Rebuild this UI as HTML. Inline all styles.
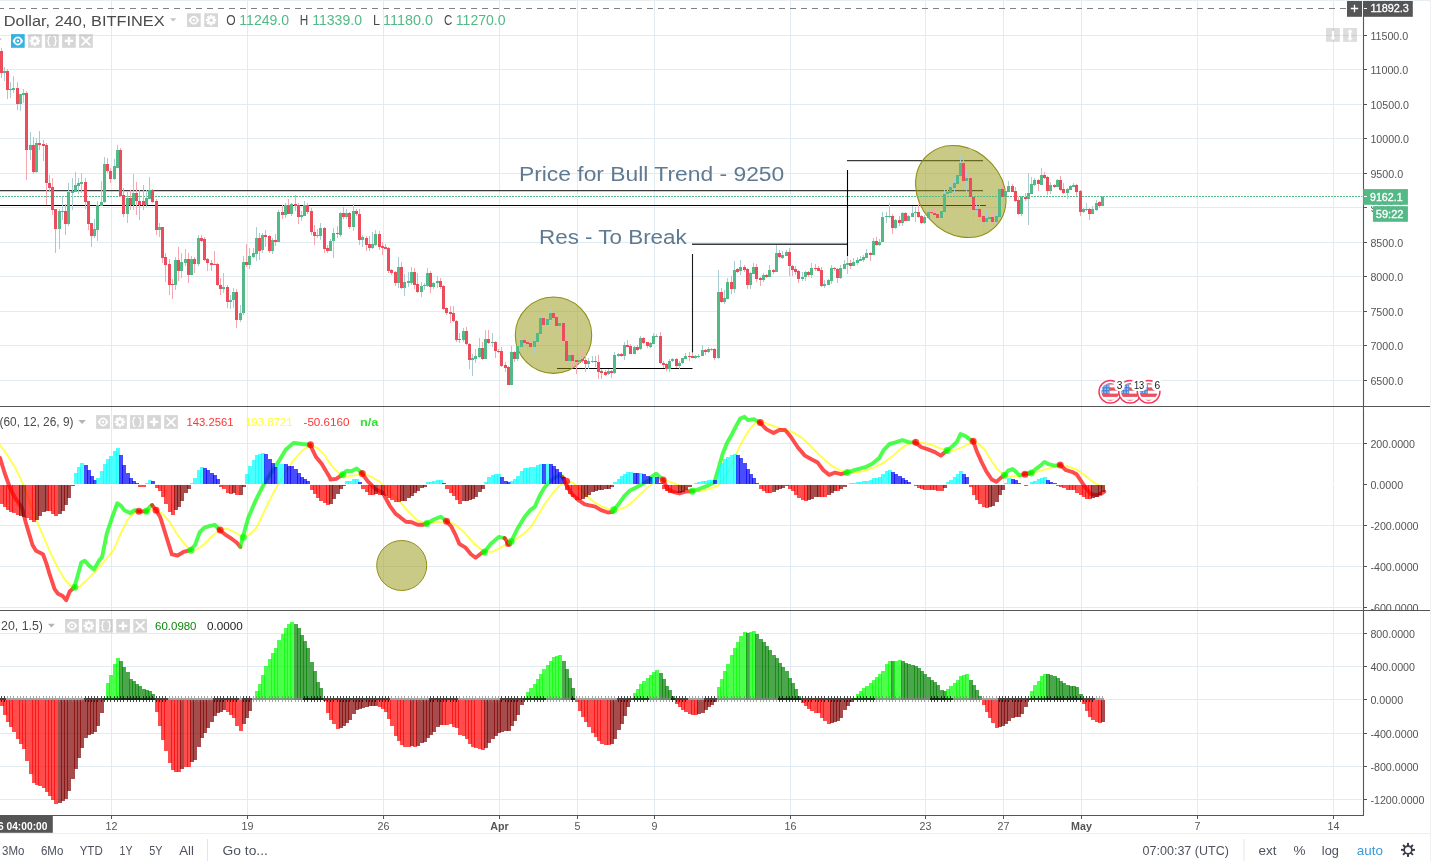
<!DOCTYPE html>
<html><head><meta charset="utf-8"><title>chart</title>
<style>html,body{margin:0;padding:0;background:#fff}body{width:1431px;height:861px;overflow:hidden;position:relative;font-family:"Liberation Sans",sans-serif}</style></head>
<body>
<svg width="1431" height="861" viewBox="0 0 1431 861" style="position:absolute;left:0;top:0;display:block;">
<rect x="0" y="0" width="1431" height="861" fill="#fff" />
<g style="will-change:transform">
<line x1="111.5" y1="0" x2="111.5" y2="815" stroke="#e1ecf2" stroke-width="1" />
<line x1="247.5" y1="0" x2="247.5" y2="815" stroke="#e1ecf2" stroke-width="1" />
<line x1="383.5" y1="0" x2="383.5" y2="815" stroke="#e1ecf2" stroke-width="1" />
<line x1="499.5" y1="0" x2="499.5" y2="815" stroke="#e1ecf2" stroke-width="1" />
<line x1="577.5" y1="0" x2="577.5" y2="815" stroke="#e1ecf2" stroke-width="1" />
<line x1="654.5" y1="0" x2="654.5" y2="815" stroke="#e1ecf2" stroke-width="1" />
<line x1="790.5" y1="0" x2="790.5" y2="815" stroke="#e1ecf2" stroke-width="1" />
<line x1="925.5" y1="0" x2="925.5" y2="815" stroke="#e1ecf2" stroke-width="1" />
<line x1="1003.5" y1="0" x2="1003.5" y2="815" stroke="#e1ecf2" stroke-width="1" />
<line x1="1081.5" y1="0" x2="1081.5" y2="815" stroke="#e1ecf2" stroke-width="1" />
<line x1="1197.5" y1="0" x2="1197.5" y2="815" stroke="#e1ecf2" stroke-width="1" />
<line x1="1333.5" y1="0" x2="1333.5" y2="815" stroke="#e1ecf2" stroke-width="1" />
<line x1="0" y1="35.5" x2="1362" y2="35.5" stroke="#e1ecf2" stroke-width="1" />
<line x1="0" y1="69.5" x2="1362" y2="69.5" stroke="#e1ecf2" stroke-width="1" />
<line x1="0" y1="104.5" x2="1362" y2="104.5" stroke="#e1ecf2" stroke-width="1" />
<line x1="0" y1="138.5" x2="1362" y2="138.5" stroke="#e1ecf2" stroke-width="1" />
<line x1="0" y1="173.5" x2="1362" y2="173.5" stroke="#e1ecf2" stroke-width="1" />
<line x1="0" y1="207.5" x2="1362" y2="207.5" stroke="#e1ecf2" stroke-width="1" />
<line x1="0" y1="242.5" x2="1362" y2="242.5" stroke="#e1ecf2" stroke-width="1" />
<line x1="0" y1="276.5" x2="1362" y2="276.5" stroke="#e1ecf2" stroke-width="1" />
<line x1="0" y1="311.5" x2="1362" y2="311.5" stroke="#e1ecf2" stroke-width="1" />
<line x1="0" y1="345.5" x2="1362" y2="345.5" stroke="#e1ecf2" stroke-width="1" />
<line x1="0" y1="380.5" x2="1362" y2="380.5" stroke="#e1ecf2" stroke-width="1" />
<line x1="0" y1="443.5" x2="1362" y2="443.5" stroke="#e1ecf2" stroke-width="1" />
<line x1="0" y1="525.5" x2="1362" y2="525.5" stroke="#e1ecf2" stroke-width="1" />
<line x1="0" y1="566.5" x2="1362" y2="566.5" stroke="#e1ecf2" stroke-width="1" />
<line x1="0" y1="607.5" x2="1362" y2="607.5" stroke="#e1ecf2" stroke-width="1" />
<line x1="0" y1="484.5" x2="1362" y2="484.5" stroke="#fff" stroke-width="1" />
<line x1="0" y1="633.5" x2="1362" y2="633.5" stroke="#e1ecf2" stroke-width="1" />
<line x1="0" y1="666.5" x2="1362" y2="666.5" stroke="#e1ecf2" stroke-width="1" />
<line x1="0" y1="699.5" x2="1362" y2="699.5" stroke="#e1ecf2" stroke-width="1" />
<line x1="0" y1="733.5" x2="1362" y2="733.5" stroke="#e1ecf2" stroke-width="1" />
<line x1="0" y1="766.5" x2="1362" y2="766.5" stroke="#e1ecf2" stroke-width="1" />
<line x1="0" y1="799.5" x2="1362" y2="799.5" stroke="#e1ecf2" stroke-width="1" />
<line x1="0" y1="190.55" x2="983" y2="190.55" stroke="#3a3a3a" stroke-width="1.2" />
<line x1="0" y1="205.5" x2="986" y2="205.5" stroke="#000" stroke-width="1.15" />
<line x1="692" y1="244.3" x2="848" y2="244.3" stroke="#3c3c3c" stroke-width="1.45" />
<line x1="847.5" y1="170" x2="847.5" y2="256" stroke="#000" stroke-width="1.1" />
<line x1="847" y1="160.55" x2="983" y2="160.55" stroke="#3a3a3a" stroke-width="1.2" />
<line x1="692.5" y1="254" x2="692.5" y2="352.5" stroke="#1a1a1a" stroke-width="1.1" />
<line x1="557" y1="368.5" x2="692.5" y2="368.5" stroke="#000" stroke-width="1.05" />
<circle cx="553.5" cy="335.2" r="38.2" fill="rgba(150,150,16,0.5)" stroke="#8f8f14" stroke-width="1.1"/>
<ellipse cx="960.8" cy="191.5" rx="49.3" ry="41.6" transform="rotate(48 960.8 191.5)" fill="rgba(150,150,16,0.5)" stroke="#8f8f14" stroke-width="1.1"/>
<line x1="-1" y1="196.5" x2="1363" y2="196.5" stroke="#53b987" stroke-width="1.1" stroke-dasharray="2 1"/>
<text x="518.9" y="180.8" font-size="20.5" fill="#5f7a91" font-family="Liberation Sans, sans-serif" textLength="265.4" lengthAdjust="spacingAndGlyphs" >Price for Bull Trend - 9250</text>
<text x="539" y="243.7" font-size="20.5" fill="#5f7a91" font-family="Liberation Sans, sans-serif" textLength="147.7" lengthAdjust="spacingAndGlyphs" >Res - To Break</text>
<g shape-rendering="crispEdges">
<rect x="1" y="48.19" width="1" height="29.81" fill="#f5a6ae"/>
<rect x="4" y="67.05" width="1" height="14.32" fill="#a9cdd3"/>
<rect x="7" y="69.07" width="1" height="29.64" fill="#f5a6ae"/>
<rect x="10" y="82.21" width="1" height="15.49" fill="#a9cdd3"/>
<rect x="13" y="75.98" width="1" height="16.84" fill="#a9cdd3"/>
<rect x="17" y="82.21" width="1" height="27.79" fill="#f5a6ae"/>
<rect x="20" y="94.34" width="1" height="16.51" fill="#a9cdd3"/>
<rect x="23" y="88.95" width="1" height="13.98" fill="#a9cdd3"/>
<rect x="26" y="90.97" width="1" height="88.76" fill="#f5a6ae"/>
<rect x="30" y="131.89" width="1" height="27.79" fill="#a9cdd3"/>
<rect x="33" y="136.95" width="1" height="37.05" fill="#f5a6ae"/>
<rect x="36" y="137.79" width="1" height="35.37" fill="#a9cdd3"/>
<rect x="39" y="131.05" width="1" height="18.86" fill="#f5a6ae"/>
<rect x="43" y="140.32" width="1" height="20.21" fill="#f5a6ae"/>
<rect x="46" y="142.88" width="1" height="62.48" fill="#f5a6ae"/>
<rect x="49" y="175.05" width="1" height="16.84" fill="#f5a6ae"/>
<rect x="52" y="177.58" width="1" height="37.05" fill="#f5a6ae"/>
<rect x="55" y="209.07" width="1" height="43.45" fill="#f5a6ae"/>
<rect x="59" y="209.07" width="1" height="40.42" fill="#a9cdd3"/>
<rect x="62" y="196.11" width="1" height="23.58" fill="#a9cdd3"/>
<rect x="65" y="203.68" width="1" height="31.16" fill="#f5a6ae"/>
<rect x="68" y="183.14" width="1" height="42.44" fill="#a9cdd3"/>
<rect x="72" y="177.58" width="1" height="32.84" fill="#a9cdd3"/>
<rect x="75" y="172.02" width="1" height="19.87" fill="#a9cdd3"/>
<rect x="78" y="178.42" width="1" height="16" fill="#a9cdd3"/>
<rect x="81" y="173.37" width="1" height="19.37" fill="#a9cdd3"/>
<rect x="85" y="177.58" width="1" height="31.16" fill="#f5a6ae"/>
<rect x="88" y="201.16" width="1" height="28.63" fill="#f5a6ae"/>
<rect x="91" y="223.05" width="1" height="23.58" fill="#f5a6ae"/>
<rect x="94" y="218.84" width="1" height="19.37" fill="#a9cdd3"/>
<rect x="97" y="201.16" width="1" height="39.58" fill="#a9cdd3"/>
<rect x="101" y="180.95" width="1" height="25.26" fill="#a9cdd3"/>
<rect x="104" y="157.03" width="1" height="45.81" fill="#a9cdd3"/>
<rect x="107" y="158.21" width="1" height="15.16" fill="#f5a6ae"/>
<rect x="110" y="168.32" width="1" height="14.32" fill="#f5a6ae"/>
<rect x="114" y="158.72" width="1" height="21.39" fill="#a9cdd3"/>
<rect x="117" y="145.07" width="1" height="23.24" fill="#a9cdd3"/>
<rect x="120" y="148.11" width="1" height="48.84" fill="#f5a6ae"/>
<rect x="123" y="187.68" width="1" height="29.47" fill="#f5a6ae"/>
<rect x="127" y="191.89" width="1" height="30.65" fill="#a9cdd3"/>
<rect x="130" y="190.21" width="1" height="20.21" fill="#f5a6ae"/>
<rect x="133" y="174.21" width="1" height="35.37" fill="#a9cdd3"/>
<rect x="136" y="181.79" width="1" height="33.68" fill="#f5a6ae"/>
<rect x="139" y="190.21" width="1" height="29.47" fill="#f5a6ae"/>
<rect x="143" y="185.16" width="1" height="25.26" fill="#f5a6ae"/>
<rect x="146" y="190.21" width="1" height="16.84" fill="#a9cdd3"/>
<rect x="149" y="176.74" width="1" height="21.89" fill="#a9cdd3"/>
<rect x="152" y="188.53" width="1" height="14.32" fill="#f5a6ae"/>
<rect x="156" y="198.63" width="1" height="36.21" fill="#f5a6ae"/>
<rect x="159" y="223.05" width="1" height="14.32" fill="#a9cdd3"/>
<rect x="162" y="227.26" width="1" height="36.21" fill="#f5a6ae"/>
<rect x="165" y="253.37" width="1" height="28.63" fill="#f5a6ae"/>
<rect x="169" y="259.26" width="1" height="35.37" fill="#f5a6ae"/>
<rect x="172" y="279.47" width="1" height="19.37" fill="#f5a6ae"/>
<rect x="175" y="257.24" width="1" height="32.34" fill="#a9cdd3"/>
<rect x="178" y="247.47" width="1" height="33.68" fill="#f5a6ae"/>
<rect x="181" y="252.53" width="1" height="25.26" fill="#a9cdd3"/>
<rect x="185" y="249.16" width="1" height="16.84" fill="#a9cdd3"/>
<rect x="188" y="253.37" width="1" height="29.47" fill="#f5a6ae"/>
<rect x="191" y="255.89" width="1" height="19.37" fill="#a9cdd3"/>
<rect x="194" y="256.74" width="1" height="16" fill="#f5a6ae"/>
<rect x="198" y="234.84" width="1" height="31.16" fill="#a9cdd3"/>
<rect x="201" y="234.84" width="1" height="7.58" fill="#f5a6ae"/>
<rect x="204" y="237.37" width="1" height="23.58" fill="#f5a6ae"/>
<rect x="207" y="258.42" width="1" height="12.63" fill="#f5a6ae"/>
<rect x="211" y="260.11" width="1" height="10.95" fill="#f5a6ae"/>
<rect x="214" y="250.84" width="1" height="14.32" fill="#f5a6ae"/>
<rect x="217" y="262.63" width="1" height="23.58" fill="#f5a6ae"/>
<rect x="220" y="277.79" width="1" height="16.84" fill="#f5a6ae"/>
<rect x="223" y="273.07" width="1" height="19.87" fill="#a9cdd3"/>
<rect x="227" y="285.37" width="1" height="22.74" fill="#f5a6ae"/>
<rect x="230" y="294.63" width="1" height="14.32" fill="#a9cdd3"/>
<rect x="233" y="287.89" width="1" height="20.21" fill="#a9cdd3"/>
<rect x="236" y="289.32" width="1" height="38.74" fill="#f5a6ae"/>
<rect x="240" y="305.32" width="1" height="16.84" fill="#a9cdd3"/>
<rect x="243" y="256.47" width="1" height="58.11" fill="#a9cdd3"/>
<rect x="246" y="243.84" width="1" height="23.58" fill="#f5a6ae"/>
<rect x="249" y="248.05" width="1" height="21.05" fill="#a9cdd3"/>
<rect x="253" y="248.05" width="1" height="10.11" fill="#a9cdd3"/>
<rect x="256" y="227" width="1" height="33.68" fill="#a9cdd3"/>
<rect x="259" y="232.89" width="1" height="26.95" fill="#f5a6ae"/>
<rect x="262" y="232.89" width="1" height="20.21" fill="#a9cdd3"/>
<rect x="265" y="229.53" width="1" height="17.68" fill="#f5a6ae"/>
<rect x="269" y="234.58" width="1" height="18.53" fill="#f5a6ae"/>
<rect x="272" y="237.95" width="1" height="16.34" fill="#a9cdd3"/>
<rect x="275" y="234.07" width="1" height="11.45" fill="#f5a6ae"/>
<rect x="278" y="209.82" width="1" height="32.34" fill="#a9cdd3"/>
<rect x="282" y="205.11" width="1" height="14.32" fill="#f5a6ae"/>
<rect x="285" y="202.58" width="1" height="15.16" fill="#a9cdd3"/>
<rect x="288" y="198.71" width="1" height="15.66" fill="#f5a6ae"/>
<rect x="291" y="202.58" width="1" height="13.47" fill="#a9cdd3"/>
<rect x="295" y="195" width="1" height="16" fill="#f5a6ae"/>
<rect x="298" y="202.58" width="1" height="21.05" fill="#f5a6ae"/>
<rect x="301" y="211" width="1" height="9.6" fill="#a9cdd3"/>
<rect x="304" y="200.89" width="1" height="15.16" fill="#a9cdd3"/>
<rect x="307" y="203.42" width="1" height="10.11" fill="#f5a6ae"/>
<rect x="311" y="208.47" width="1" height="26.95" fill="#f5a6ae"/>
<rect x="314" y="225.32" width="1" height="19.37" fill="#f5a6ae"/>
<rect x="317" y="228.68" width="1" height="9.26" fill="#a9cdd3"/>
<rect x="320" y="222.79" width="1" height="16.84" fill="#a9cdd3"/>
<rect x="324" y="227" width="1" height="25.6" fill="#f5a6ae"/>
<rect x="327" y="244.68" width="1" height="7.92" fill="#f5a6ae"/>
<rect x="330" y="239.13" width="1" height="12.29" fill="#a9cdd3"/>
<rect x="333" y="227.84" width="1" height="29.81" fill="#a9cdd3"/>
<rect x="337" y="226.16" width="1" height="11.79" fill="#f5a6ae"/>
<rect x="340" y="211.84" width="1" height="25.6" fill="#a9cdd3"/>
<rect x="343" y="207.13" width="1" height="11.45" fill="#f5a6ae"/>
<rect x="346" y="209.32" width="1" height="9.26" fill="#a9cdd3"/>
<rect x="349" y="211.84" width="1" height="16.84" fill="#f5a6ae"/>
<rect x="353" y="204.26" width="1" height="26.44" fill="#a9cdd3"/>
<rect x="356" y="209.32" width="1" height="6.74" fill="#f5a6ae"/>
<rect x="359" y="209.32" width="1" height="35.37" fill="#f5a6ae"/>
<rect x="362" y="235.08" width="1" height="11.79" fill="#a9cdd3"/>
<rect x="366" y="236.26" width="1" height="14.32" fill="#f5a6ae"/>
<rect x="369" y="236.26" width="1" height="14.32" fill="#f5a6ae"/>
<rect x="372" y="232.39" width="1" height="16.17" fill="#a9cdd3"/>
<rect x="375" y="230.03" width="1" height="15.49" fill="#a9cdd3"/>
<rect x="379" y="231.21" width="1" height="18.53" fill="#f5a6ae"/>
<rect x="382" y="242.49" width="1" height="12.29" fill="#f5a6ae"/>
<rect x="385" y="243.84" width="1" height="5.39" fill="#f5a6ae"/>
<rect x="388" y="247.21" width="1" height="26.11" fill="#f5a6ae"/>
<rect x="391" y="269.11" width="1" height="5.89" fill="#f5a6ae"/>
<rect x="395" y="270.79" width="1" height="15.16" fill="#f5a6ae"/>
<rect x="398" y="257.32" width="1" height="30.32" fill="#a9cdd3"/>
<rect x="401" y="262.03" width="1" height="27.28" fill="#f5a6ae"/>
<rect x="404" y="274.16" width="1" height="21.56" fill="#a9cdd3"/>
<rect x="408" y="272.47" width="1" height="14.82" fill="#a9cdd3"/>
<rect x="411" y="267.08" width="1" height="18.02" fill="#a9cdd3"/>
<rect x="414" y="267.76" width="1" height="21.56" fill="#f5a6ae"/>
<rect x="417" y="273.32" width="1" height="19.71" fill="#f5a6ae"/>
<rect x="421" y="282.24" width="1" height="14.65" fill="#a9cdd3"/>
<rect x="424" y="282.58" width="1" height="7.07" fill="#a9cdd3"/>
<rect x="427" y="267.76" width="1" height="19.03" fill="#a9cdd3"/>
<rect x="430" y="270.79" width="1" height="21.89" fill="#f5a6ae"/>
<rect x="433" y="281.74" width="1" height="7.58" fill="#a9cdd3"/>
<rect x="437" y="276.18" width="1" height="12.29" fill="#a9cdd3"/>
<rect x="440" y="277.86" width="1" height="11.45" fill="#f5a6ae"/>
<rect x="443" y="285.11" width="1" height="24.42" fill="#f5a6ae"/>
<rect x="446" y="307" width="1" height="8.42" fill="#f5a6ae"/>
<rect x="450" y="306.49" width="1" height="16.51" fill="#f5a6ae"/>
<rect x="453" y="305.82" width="1" height="16.34" fill="#f5a6ae"/>
<rect x="456" y="320.47" width="1" height="21.05" fill="#f5a6ae"/>
<rect x="459" y="333.11" width="1" height="10.11" fill="#f5a6ae"/>
<rect x="463" y="328.05" width="1" height="14.32" fill="#a9cdd3"/>
<rect x="466" y="327.26" width="1" height="17.68" fill="#f5a6ae"/>
<rect x="469" y="343.26" width="1" height="25.26" fill="#f5a6ae"/>
<rect x="472" y="354.21" width="1" height="22.23" fill="#a9cdd3"/>
<rect x="475" y="349.16" width="1" height="13.47" fill="#a9cdd3"/>
<rect x="479" y="338.21" width="1" height="19.37" fill="#a9cdd3"/>
<rect x="482" y="341.58" width="1" height="18.02" fill="#f5a6ae"/>
<rect x="485" y="329.79" width="1" height="29.47" fill="#a9cdd3"/>
<rect x="488" y="329.79" width="1" height="14.32" fill="#f5a6ae"/>
<rect x="492" y="333.16" width="1" height="13.47" fill="#a9cdd3"/>
<rect x="495" y="340.74" width="1" height="16.84" fill="#f5a6ae"/>
<rect x="498" y="349.16" width="1" height="4.21" fill="#f5a6ae"/>
<rect x="501" y="347.47" width="1" height="19.37" fill="#f5a6ae"/>
<rect x="505" y="362.29" width="1" height="9.6" fill="#f5a6ae"/>
<rect x="508" y="366" width="1" height="19.37" fill="#f5a6ae"/>
<rect x="511" y="345.79" width="1" height="39.58" fill="#a9cdd3"/>
<rect x="514" y="350.84" width="1" height="10.95" fill="#f5a6ae"/>
<rect x="517" y="341.58" width="1" height="19.37" fill="#a9cdd3"/>
<rect x="521" y="336.19" width="1" height="18.02" fill="#a9cdd3"/>
<rect x="524" y="337.37" width="1" height="6.74" fill="#f5a6ae"/>
<rect x="527" y="340.74" width="1" height="11.79" fill="#f5a6ae"/>
<rect x="530" y="342.42" width="1" height="5.39" fill="#f5a6ae"/>
<rect x="534" y="339.89" width="1" height="12.63" fill="#a9cdd3"/>
<rect x="537" y="332.32" width="1" height="10.11" fill="#a9cdd3"/>
<rect x="540" y="316.32" width="1" height="17.68" fill="#a9cdd3"/>
<rect x="543" y="317.16" width="1" height="9.26" fill="#f5a6ae"/>
<rect x="547" y="315.14" width="1" height="11.62" fill="#a9cdd3"/>
<rect x="550" y="310.42" width="1" height="10.11" fill="#a9cdd3"/>
<rect x="553" y="312.11" width="1" height="6.74" fill="#f5a6ae"/>
<rect x="556" y="316.32" width="1" height="10.95" fill="#f5a6ae"/>
<rect x="559" y="318.84" width="1" height="7.58" fill="#a9cdd3"/>
<rect x="563" y="322.21" width="1" height="22.74" fill="#f5a6ae"/>
<rect x="566" y="338.21" width="1" height="23.58" fill="#f5a6ae"/>
<rect x="569" y="350.84" width="1" height="12.63" fill="#a9cdd3"/>
<rect x="572" y="351.68" width="1" height="16" fill="#f5a6ae"/>
<rect x="576" y="359.26" width="1" height="15.16" fill="#f5a6ae"/>
<rect x="579" y="354.21" width="1" height="10.11" fill="#a9cdd3"/>
<rect x="582" y="349.16" width="1" height="13.47" fill="#f5a6ae"/>
<rect x="585" y="351.68" width="1" height="20.21" fill="#f5a6ae"/>
<rect x="588" y="358.42" width="1" height="10.11" fill="#a9cdd3"/>
<rect x="592" y="355.56" width="1" height="7.07" fill="#a9cdd3"/>
<rect x="595" y="355.89" width="1" height="10.95" fill="#f5a6ae"/>
<rect x="598" y="355.05" width="1" height="24.42" fill="#f5a6ae"/>
<rect x="601" y="369.37" width="1" height="10.11" fill="#f5a6ae"/>
<rect x="605" y="370.21" width="1" height="5.56" fill="#f5a6ae"/>
<rect x="608" y="369.37" width="1" height="5.89" fill="#a9cdd3"/>
<rect x="611" y="370.21" width="1" height="7.58" fill="#f5a6ae"/>
<rect x="614" y="352.02" width="1" height="21.56" fill="#a9cdd3"/>
<rect x="618" y="352.53" width="1" height="4.21" fill="#a9cdd3"/>
<rect x="621" y="352.53" width="1" height="4.21" fill="#f5a6ae"/>
<rect x="624" y="342.08" width="1" height="17.52" fill="#a9cdd3"/>
<rect x="627" y="339.89" width="1" height="7.58" fill="#f5a6ae"/>
<rect x="630" y="344.11" width="1" height="10.11" fill="#f5a6ae"/>
<rect x="634" y="345.79" width="1" height="8.42" fill="#a9cdd3"/>
<rect x="637" y="344.95" width="1" height="5.56" fill="#f5a6ae"/>
<rect x="640" y="335.68" width="1" height="14.32" fill="#a9cdd3"/>
<rect x="643" y="336.53" width="1" height="7.24" fill="#f5a6ae"/>
<rect x="647" y="341.58" width="1" height="6.74" fill="#f5a6ae"/>
<rect x="650" y="342.42" width="1" height="5.39" fill="#a9cdd3"/>
<rect x="653" y="333.16" width="1" height="10.95" fill="#a9cdd3"/>
<rect x="656" y="334" width="1" height="3.37" fill="#a9cdd3"/>
<rect x="660" y="331.98" width="1" height="32.34" fill="#f5a6ae"/>
<rect x="663" y="360.95" width="1" height="6.74" fill="#f5a6ae"/>
<rect x="666" y="363.47" width="1" height="7.24" fill="#f5a6ae"/>
<rect x="669" y="359.26" width="1" height="12.63" fill="#a9cdd3"/>
<rect x="672" y="357.92" width="1" height="4.38" fill="#a9cdd3"/>
<rect x="676" y="358.42" width="1" height="9.26" fill="#f5a6ae"/>
<rect x="679" y="360.95" width="1" height="8.08" fill="#a9cdd3"/>
<rect x="682" y="357.58" width="1" height="6.74" fill="#a9cdd3"/>
<rect x="685" y="352.86" width="1" height="6.4" fill="#a9cdd3"/>
<rect x="689" y="352.19" width="1" height="8.76" fill="#f5a6ae"/>
<rect x="692" y="352.53" width="1" height="5.89" fill="#f5a6ae"/>
<rect x="695" y="355.05" width="1" height="3.87" fill="#a9cdd3"/>
<rect x="698" y="354.21" width="1" height="3.71" fill="#a9cdd3"/>
<rect x="702" y="344.68" width="1" height="11.79" fill="#a9cdd3"/>
<rect x="705" y="348.89" width="1" height="5.89" fill="#f5a6ae"/>
<rect x="708" y="347.21" width="1" height="5.89" fill="#a9cdd3"/>
<rect x="711" y="347.72" width="1" height="2.86" fill="#a9cdd3"/>
<rect x="714" y="348.05" width="1" height="11.79" fill="#f5a6ae"/>
<rect x="718" y="269.74" width="1" height="88.76" fill="#a9cdd3"/>
<rect x="721" y="288.26" width="1" height="14.32" fill="#f5a6ae"/>
<rect x="724" y="289.95" width="1" height="13.81" fill="#a9cdd3"/>
<rect x="727" y="278.16" width="1" height="21.05" fill="#a9cdd3"/>
<rect x="731" y="276.47" width="1" height="17.35" fill="#f5a6ae"/>
<rect x="734" y="260.81" width="1" height="32" fill="#a9cdd3"/>
<rect x="737" y="268.05" width="1" height="5.05" fill="#f5a6ae"/>
<rect x="740" y="260.14" width="1" height="14.65" fill="#a9cdd3"/>
<rect x="744" y="264.68" width="1" height="7.58" fill="#f5a6ae"/>
<rect x="747" y="268.05" width="1" height="20.72" fill="#f5a6ae"/>
<rect x="750" y="272.26" width="1" height="16.51" fill="#a9cdd3"/>
<rect x="753" y="263" width="1" height="10.95" fill="#a9cdd3"/>
<rect x="756" y="263.84" width="1" height="17.68" fill="#f5a6ae"/>
<rect x="760" y="277.32" width="1" height="8.42" fill="#f5a6ae"/>
<rect x="763" y="273.11" width="1" height="8.93" fill="#a9cdd3"/>
<rect x="766" y="273.95" width="1" height="3.71" fill="#f5a6ae"/>
<rect x="769" y="265.02" width="1" height="12.29" fill="#a9cdd3"/>
<rect x="773" y="268.89" width="1" height="5.05" fill="#f5a6ae"/>
<rect x="776" y="244.98" width="1" height="27.28" fill="#a9cdd3"/>
<rect x="779" y="249.53" width="1" height="8.93" fill="#f5a6ae"/>
<rect x="782" y="251.21" width="1" height="7.58" fill="#a9cdd3"/>
<rect x="786" y="249.53" width="1" height="6.74" fill="#a9cdd3"/>
<rect x="789" y="247.84" width="1" height="28.13" fill="#f5a6ae"/>
<rect x="792" y="265.19" width="1" height="10.44" fill="#f5a6ae"/>
<rect x="795" y="265.53" width="1" height="9.77" fill="#f5a6ae"/>
<rect x="798" y="270.24" width="1" height="12.46" fill="#f5a6ae"/>
<rect x="802" y="272.26" width="1" height="8.76" fill="#a9cdd3"/>
<rect x="805" y="271.42" width="1" height="9.6" fill="#a9cdd3"/>
<rect x="808" y="271.42" width="1" height="5.89" fill="#f5a6ae"/>
<rect x="811" y="263" width="1" height="14.65" fill="#a9cdd3"/>
<rect x="815" y="263.84" width="1" height="7.07" fill="#f5a6ae"/>
<rect x="818" y="265.53" width="1" height="5.89" fill="#f5a6ae"/>
<rect x="821" y="266.87" width="1" height="19.71" fill="#f5a6ae"/>
<rect x="824" y="279.84" width="1" height="7.92" fill="#a9cdd3"/>
<rect x="828" y="279" width="1" height="6.4" fill="#a9cdd3"/>
<rect x="831" y="265.02" width="1" height="19.03" fill="#a9cdd3"/>
<rect x="834" y="267.21" width="1" height="4.21" fill="#f5a6ae"/>
<rect x="837" y="267.55" width="1" height="15.16" fill="#f5a6ae"/>
<rect x="840" y="265.02" width="1" height="13.98" fill="#a9cdd3"/>
<rect x="844" y="260.14" width="1" height="9.09" fill="#a9cdd3"/>
<rect x="847" y="256.26" width="1" height="17.68" fill="#a9cdd3"/>
<rect x="850" y="260.14" width="1" height="8.42" fill="#f5a6ae"/>
<rect x="853" y="257.95" width="1" height="8.42" fill="#a9cdd3"/>
<rect x="857" y="257.11" width="1" height="7.58" fill="#a9cdd3"/>
<rect x="860" y="256.26" width="1" height="5.05" fill="#a9cdd3"/>
<rect x="863" y="255.42" width="1" height="6.74" fill="#a9cdd3"/>
<rect x="866" y="249.19" width="1" height="9.26" fill="#a9cdd3"/>
<rect x="870" y="252.39" width="1" height="8.42" fill="#f5a6ae"/>
<rect x="873" y="237.74" width="1" height="17.68" fill="#a9cdd3"/>
<rect x="876" y="236.89" width="1" height="8.76" fill="#f5a6ae"/>
<rect x="879" y="239.42" width="1" height="6.23" fill="#a9cdd3"/>
<rect x="882" y="211.79" width="1" height="30.32" fill="#a9cdd3"/>
<rect x="886" y="211.79" width="1" height="10.95" fill="#a9cdd3"/>
<rect x="889" y="202.86" width="1" height="14.82" fill="#a9cdd3"/>
<rect x="892" y="214.32" width="1" height="19.37" fill="#f5a6ae"/>
<rect x="895" y="219.03" width="1" height="9.6" fill="#a9cdd3"/>
<rect x="899" y="216" width="1" height="10.11" fill="#f5a6ae"/>
<rect x="902" y="211.79" width="1" height="14.32" fill="#a9cdd3"/>
<rect x="905" y="212.29" width="1" height="9.09" fill="#f5a6ae"/>
<rect x="908" y="215.16" width="1" height="6.23" fill="#a9cdd3"/>
<rect x="912" y="205.89" width="1" height="11.45" fill="#a9cdd3"/>
<rect x="915" y="206.74" width="1" height="15.16" fill="#a9cdd3"/>
<rect x="918" y="204.21" width="1" height="13.47" fill="#f5a6ae"/>
<rect x="921" y="215.16" width="1" height="8.42" fill="#f5a6ae"/>
<rect x="924" y="215.16" width="1" height="8.42" fill="#a9cdd3"/>
<rect x="928" y="210.11" width="1" height="8.42" fill="#a9cdd3"/>
<rect x="931" y="210.95" width="1" height="3.37" fill="#f5a6ae"/>
<rect x="934" y="206.74" width="1" height="8.93" fill="#f5a6ae"/>
<rect x="937" y="212.97" width="1" height="6.4" fill="#f5a6ae"/>
<rect x="941" y="210.11" width="1" height="8.42" fill="#a9cdd3"/>
<rect x="944" y="189.89" width="1" height="22.4" fill="#a9cdd3"/>
<rect x="947" y="186.53" width="1" height="8.93" fill="#a9cdd3"/>
<rect x="950" y="183.16" width="1" height="10.61" fill="#a9cdd3"/>
<rect x="954" y="178.11" width="1" height="15.66" fill="#a9cdd3"/>
<rect x="957" y="173.89" width="1" height="13.47" fill="#a9cdd3"/>
<rect x="960" y="155.87" width="1" height="20.55" fill="#a9cdd3"/>
<rect x="963" y="154.19" width="1" height="30.65" fill="#f5a6ae"/>
<rect x="966" y="171.37" width="1" height="21.05" fill="#a9cdd3"/>
<rect x="970" y="176.42" width="1" height="21.89" fill="#f5a6ae"/>
<rect x="973" y="195.79" width="1" height="26.11" fill="#f5a6ae"/>
<rect x="976" y="202.53" width="1" height="11.79" fill="#a9cdd3"/>
<rect x="979" y="197.47" width="1" height="25.26" fill="#f5a6ae"/>
<rect x="983" y="215.16" width="1" height="15.66" fill="#f5a6ae"/>
<rect x="986" y="210.11" width="1" height="12.63" fill="#a9cdd3"/>
<rect x="989" y="212.63" width="1" height="16.84" fill="#a9cdd3"/>
<rect x="992" y="212.29" width="1" height="10.44" fill="#f5a6ae"/>
<rect x="996" y="212.63" width="1" height="10.11" fill="#a9cdd3"/>
<rect x="999" y="186.19" width="1" height="31.49" fill="#a9cdd3"/>
<rect x="1002" y="184.84" width="1" height="12.63" fill="#f5a6ae"/>
<rect x="1005" y="189.89" width="1" height="7.58" fill="#a9cdd3"/>
<rect x="1008" y="180.97" width="1" height="11.45" fill="#a9cdd3"/>
<rect x="1012" y="184" width="1" height="8.42" fill="#f5a6ae"/>
<rect x="1015" y="186.53" width="1" height="15.16" fill="#f5a6ae"/>
<rect x="1018" y="196.63" width="1" height="18.53" fill="#f5a6ae"/>
<rect x="1021" y="195.79" width="1" height="20.21" fill="#a9cdd3"/>
<rect x="1025" y="193.26" width="1" height="7.58" fill="#f5a6ae"/>
<rect x="1028" y="173.05" width="1" height="51.71" fill="#a9cdd3"/>
<rect x="1031" y="177.26" width="1" height="17.18" fill="#a9cdd3"/>
<rect x="1034" y="178.11" width="1" height="7.58" fill="#a9cdd3"/>
<rect x="1038" y="178.95" width="1" height="11.79" fill="#f5a6ae"/>
<rect x="1041" y="168" width="1" height="17.35" fill="#a9cdd3"/>
<rect x="1044" y="172.21" width="1" height="6.4" fill="#f5a6ae"/>
<rect x="1047" y="176.42" width="1" height="18.53" fill="#f5a6ae"/>
<rect x="1050" y="182.32" width="1" height="11.79" fill="#a9cdd3"/>
<rect x="1054" y="184.34" width="1" height="3.37" fill="#f5a6ae"/>
<rect x="1057" y="178.95" width="1" height="8.42" fill="#a9cdd3"/>
<rect x="1060" y="176.42" width="1" height="14.32" fill="#f5a6ae"/>
<rect x="1063" y="183.16" width="1" height="10.95" fill="#f5a6ae"/>
<rect x="1067" y="188.21" width="1" height="11.28" fill="#a9cdd3"/>
<rect x="1070" y="185.35" width="1" height="5.05" fill="#a9cdd3"/>
<rect x="1073" y="183.16" width="1" height="4.21" fill="#a9cdd3"/>
<rect x="1076" y="184" width="1" height="11.79" fill="#f5a6ae"/>
<rect x="1080" y="189.89" width="1" height="26.11" fill="#f5a6ae"/>
<rect x="1083" y="208.42" width="1" height="4.21" fill="#a9cdd3"/>
<rect x="1086" y="202.86" width="1" height="7.75" fill="#a9cdd3"/>
<rect x="1089" y="208.42" width="1" height="11.28" fill="#f5a6ae"/>
<rect x="1092" y="205.56" width="1" height="8.76" fill="#a9cdd3"/>
<rect x="1096" y="200" width="1" height="10.61" fill="#a9cdd3"/>
<rect x="1099" y="200.51" width="1" height="7.92" fill="#f5a6ae"/>
<rect x="1102" y="195.79" width="1" height="10.44" fill="#a9cdd3"/>
<rect x="0" y="51.05" width="3" height="22.4" fill="#eb4d5c"/>
<rect x="3" y="71.26" width="3" height="2.19" fill="#53b987"/>
<rect x="6" y="71.26" width="3" height="18.53" fill="#eb4d5c"/>
<rect x="9" y="88.61" width="3" height="1.18" fill="#53b987"/>
<rect x="12" y="87.77" width="3" height="2.02" fill="#53b987"/>
<rect x="16" y="88.11" width="3" height="15.66" fill="#eb4d5c"/>
<rect x="19" y="94.34" width="3" height="9.43" fill="#53b987"/>
<rect x="22" y="93.16" width="3" height="1.68" fill="#53b987"/>
<rect x="25" y="93.16" width="3" height="56.76" fill="#eb4d5c"/>
<rect x="29" y="145.03" width="3" height="4.88" fill="#53b987"/>
<rect x="32" y="145.03" width="3" height="26.95" fill="#eb4d5c"/>
<rect x="35" y="143.18" width="3" height="28.8" fill="#53b987"/>
<rect x="38" y="143.18" width="3" height="1.68" fill="#eb4d5c"/>
<rect x="42" y="144.19" width="3" height="1.68" fill="#eb4d5c"/>
<rect x="45" y="145.07" width="3" height="37.56" fill="#eb4d5c"/>
<rect x="48" y="182.63" width="3" height="5.05" fill="#eb4d5c"/>
<rect x="51" y="186.84" width="3" height="22.74" fill="#eb4d5c"/>
<rect x="54" y="209.07" width="3" height="19.87" fill="#eb4d5c"/>
<rect x="58" y="210.93" width="3" height="18.02" fill="#53b987"/>
<rect x="61" y="210.93" width="3" height="1" fill="#53b987"/>
<rect x="64" y="210.93" width="3" height="12.97" fill="#eb4d5c"/>
<rect x="67" y="191.56" width="3" height="32.34" fill="#53b987"/>
<rect x="71" y="190.72" width="3" height="2.02" fill="#53b987"/>
<rect x="74" y="185.16" width="3" height="6.4" fill="#53b987"/>
<rect x="77" y="183.14" width="3" height="2.86" fill="#53b987"/>
<rect x="80" y="182.13" width="3" height="1.68" fill="#53b987"/>
<rect x="84" y="181.79" width="3" height="20.21" fill="#eb4d5c"/>
<rect x="87" y="201.16" width="3" height="22.74" fill="#eb4d5c"/>
<rect x="90" y="223.05" width="3" height="12.63" fill="#eb4d5c"/>
<rect x="93" y="228.95" width="3" height="6.74" fill="#53b987"/>
<rect x="96" y="205.37" width="3" height="24.42" fill="#53b987"/>
<rect x="100" y="202" width="3" height="3.71" fill="#53b987"/>
<rect x="103" y="163.77" width="3" height="38.23" fill="#53b987"/>
<rect x="106" y="163.94" width="3" height="7.41" fill="#eb4d5c"/>
<rect x="109" y="171.35" width="3" height="7.41" fill="#eb4d5c"/>
<rect x="113" y="165.96" width="3" height="12.8" fill="#53b987"/>
<rect x="116" y="149.79" width="3" height="17.85" fill="#53b987"/>
<rect x="119" y="149.79" width="3" height="46.32" fill="#eb4d5c"/>
<rect x="122" y="195.26" width="3" height="18.53" fill="#eb4d5c"/>
<rect x="126" y="197.79" width="3" height="16" fill="#53b987"/>
<rect x="129" y="197.79" width="3" height="7.58" fill="#eb4d5c"/>
<rect x="132" y="192.74" width="3" height="12.63" fill="#53b987"/>
<rect x="135" y="192.74" width="3" height="8.42" fill="#eb4d5c"/>
<rect x="138" y="201.16" width="3" height="4.21" fill="#eb4d5c"/>
<rect x="142" y="201.16" width="3" height="3.37" fill="#eb4d5c"/>
<rect x="145" y="197.79" width="3" height="6.74" fill="#53b987"/>
<rect x="148" y="190.21" width="3" height="8.42" fill="#53b987"/>
<rect x="151" y="190.21" width="3" height="11.45" fill="#eb4d5c"/>
<rect x="155" y="200.65" width="3" height="29.14" fill="#eb4d5c"/>
<rect x="158" y="227.26" width="3" height="2.53" fill="#53b987"/>
<rect x="161" y="227.26" width="3" height="30.32" fill="#eb4d5c"/>
<rect x="164" y="257.24" width="3" height="7.41" fill="#eb4d5c"/>
<rect x="168" y="263.98" width="3" height="20.55" fill="#eb4d5c"/>
<rect x="171" y="283.68" width="3" height="1.18" fill="#eb4d5c"/>
<rect x="174" y="260.11" width="3" height="24.76" fill="#53b987"/>
<rect x="177" y="260.11" width="3" height="10.95" fill="#eb4d5c"/>
<rect x="180" y="262.29" width="3" height="8.76" fill="#53b987"/>
<rect x="184" y="259.26" width="3" height="3.71" fill="#53b987"/>
<rect x="187" y="259.26" width="3" height="15.49" fill="#eb4d5c"/>
<rect x="190" y="259.26" width="3" height="15.49" fill="#53b987"/>
<rect x="193" y="259.26" width="3" height="4.72" fill="#eb4d5c"/>
<rect x="197" y="238.21" width="3" height="25.77" fill="#53b987"/>
<rect x="200" y="238.21" width="3" height="2.53" fill="#eb4d5c"/>
<rect x="203" y="239.05" width="3" height="20.55" fill="#eb4d5c"/>
<rect x="206" y="259.26" width="3" height="4.21" fill="#eb4d5c"/>
<rect x="210" y="263.14" width="3" height="1.52" fill="#eb4d5c"/>
<rect x="213" y="263.64" width="3" height="1.01" fill="#eb4d5c"/>
<rect x="216" y="263.98" width="3" height="20.88" fill="#eb4d5c"/>
<rect x="219" y="284.53" width="3" height="4.21" fill="#eb4d5c"/>
<rect x="222" y="287.05" width="3" height="1.68" fill="#53b987"/>
<rect x="226" y="287.05" width="3" height="14.65" fill="#eb4d5c"/>
<rect x="229" y="299.68" width="3" height="2.02" fill="#53b987"/>
<rect x="232" y="292.11" width="3" height="7.58" fill="#53b987"/>
<rect x="235" y="291.84" width="3" height="27.79" fill="#eb4d5c"/>
<rect x="239" y="313.4" width="3" height="6.23" fill="#53b987"/>
<rect x="242" y="262.03" width="3" height="51.37" fill="#53b987"/>
<rect x="245" y="262.03" width="3" height="2.86" fill="#eb4d5c"/>
<rect x="248" y="256.47" width="3" height="8.42" fill="#53b987"/>
<rect x="252" y="253.11" width="3" height="3.87" fill="#53b987"/>
<rect x="255" y="237.95" width="3" height="15.66" fill="#53b987"/>
<rect x="258" y="237.95" width="3" height="12.63" fill="#eb4d5c"/>
<rect x="261" y="235.08" width="3" height="14.65" fill="#53b987"/>
<rect x="264" y="235.08" width="3" height="1.68" fill="#eb4d5c"/>
<rect x="268" y="235.93" width="3" height="14.65" fill="#eb4d5c"/>
<rect x="271" y="240.14" width="3" height="10.44" fill="#53b987"/>
<rect x="274" y="240.14" width="3" height="1.52" fill="#eb4d5c"/>
<rect x="277" y="211.84" width="3" height="29.81" fill="#53b987"/>
<rect x="281" y="211.84" width="3" height="3.03" fill="#eb4d5c"/>
<rect x="284" y="205.11" width="3" height="9.77" fill="#53b987"/>
<rect x="287" y="205.11" width="3" height="8.76" fill="#eb4d5c"/>
<rect x="290" y="203.76" width="3" height="10.11" fill="#53b987"/>
<rect x="294" y="203.76" width="3" height="2.69" fill="#eb4d5c"/>
<rect x="297" y="205.44" width="3" height="11.45" fill="#eb4d5c"/>
<rect x="300" y="215.21" width="3" height="1.68" fill="#53b987"/>
<rect x="303" y="205.44" width="3" height="10.11" fill="#53b987"/>
<rect x="306" y="205.44" width="3" height="6.4" fill="#eb4d5c"/>
<rect x="310" y="211" width="3" height="21.39" fill="#eb4d5c"/>
<rect x="313" y="232.05" width="3" height="3.71" fill="#eb4d5c"/>
<rect x="316" y="234.75" width="3" height="1.35" fill="#53b987"/>
<rect x="319" y="227.84" width="3" height="7.92" fill="#53b987"/>
<rect x="323" y="227.84" width="3" height="21.05" fill="#eb4d5c"/>
<rect x="326" y="248.05" width="3" height="2.86" fill="#eb4d5c"/>
<rect x="329" y="240.81" width="3" height="10.11" fill="#53b987"/>
<rect x="332" y="233.23" width="3" height="8.08" fill="#53b987"/>
<rect x="336" y="233.23" width="3" height="1" fill="#eb4d5c"/>
<rect x="339" y="213.19" width="3" height="21.73" fill="#53b987"/>
<rect x="342" y="213.19" width="3" height="3.71" fill="#eb4d5c"/>
<rect x="345" y="213.19" width="3" height="3.71" fill="#53b987"/>
<rect x="348" y="213.19" width="3" height="13.47" fill="#eb4d5c"/>
<rect x="352" y="211" width="3" height="15.66" fill="#53b987"/>
<rect x="355" y="211" width="3" height="3.37" fill="#eb4d5c"/>
<rect x="358" y="213.86" width="3" height="26.61" fill="#eb4d5c"/>
<rect x="361" y="237.11" width="3" height="3.37" fill="#53b987"/>
<rect x="365" y="237.95" width="3" height="6.74" fill="#eb4d5c"/>
<rect x="368" y="243.84" width="3" height="3.71" fill="#eb4d5c"/>
<rect x="371" y="244.18" width="3" height="3.37" fill="#53b987"/>
<rect x="374" y="234.07" width="3" height="10.61" fill="#53b987"/>
<rect x="378" y="234.07" width="3" height="12.8" fill="#eb4d5c"/>
<rect x="381" y="246.03" width="3" height="2.02" fill="#eb4d5c"/>
<rect x="384" y="247.21" width="3" height="1.35" fill="#eb4d5c"/>
<rect x="387" y="248.05" width="3" height="22.74" fill="#eb4d5c"/>
<rect x="390" y="270.28" width="3" height="2.53" fill="#eb4d5c"/>
<rect x="394" y="272.14" width="3" height="10.78" fill="#eb4d5c"/>
<rect x="397" y="267.08" width="3" height="15.83" fill="#53b987"/>
<rect x="400" y="267.08" width="3" height="20.55" fill="#eb4d5c"/>
<rect x="403" y="282.24" width="3" height="5.39" fill="#53b987"/>
<rect x="407" y="281.23" width="3" height="1.35" fill="#53b987"/>
<rect x="410" y="272.14" width="3" height="10.44" fill="#53b987"/>
<rect x="413" y="272.14" width="3" height="12.46" fill="#eb4d5c"/>
<rect x="416" y="284.26" width="3" height="7.92" fill="#eb4d5c"/>
<rect x="420" y="285.95" width="3" height="6.23" fill="#53b987"/>
<rect x="423" y="285.11" width="3" height="1.35" fill="#53b987"/>
<rect x="426" y="272.98" width="3" height="12.97" fill="#53b987"/>
<rect x="429" y="272.98" width="3" height="13.81" fill="#eb4d5c"/>
<rect x="432" y="282.92" width="3" height="3.87" fill="#53b987"/>
<rect x="436" y="280.89" width="3" height="2.53" fill="#53b987"/>
<rect x="439" y="280.89" width="3" height="5.89" fill="#eb4d5c"/>
<rect x="442" y="285.95" width="3" height="22.74" fill="#eb4d5c"/>
<rect x="445" y="308.18" width="3" height="4.72" fill="#eb4d5c"/>
<rect x="449" y="312.05" width="3" height="1.68" fill="#eb4d5c"/>
<rect x="452" y="312.89" width="3" height="8.42" fill="#eb4d5c"/>
<rect x="455" y="320.98" width="3" height="18.86" fill="#eb4d5c"/>
<rect x="458" y="339" width="3" height="1.18" fill="#eb4d5c"/>
<rect x="462" y="331.08" width="3" height="8.76" fill="#53b987"/>
<rect x="465" y="331.47" width="3" height="12.63" fill="#eb4d5c"/>
<rect x="468" y="344.11" width="3" height="15.66" fill="#eb4d5c"/>
<rect x="471" y="357.92" width="3" height="1.85" fill="#53b987"/>
<rect x="474" y="356.23" width="3" height="2.53" fill="#53b987"/>
<rect x="478" y="347.81" width="3" height="8.93" fill="#53b987"/>
<rect x="481" y="347.81" width="3" height="10.95" fill="#eb4d5c"/>
<rect x="484" y="339.05" width="3" height="19.71" fill="#53b987"/>
<rect x="487" y="339.05" width="3" height="3.71" fill="#eb4d5c"/>
<rect x="491" y="342.08" width="3" height="1" fill="#53b987"/>
<rect x="494" y="342.08" width="3" height="8.76" fill="#eb4d5c"/>
<rect x="497" y="350.51" width="3" height="1.52" fill="#eb4d5c"/>
<rect x="500" y="351.18" width="3" height="14.82" fill="#eb4d5c"/>
<rect x="504" y="365.16" width="3" height="2.53" fill="#eb4d5c"/>
<rect x="507" y="366.84" width="3" height="18.02" fill="#eb4d5c"/>
<rect x="510" y="352.19" width="3" height="32.67" fill="#53b987"/>
<rect x="513" y="352.19" width="3" height="6.74" fill="#eb4d5c"/>
<rect x="516" y="346.13" width="3" height="12.8" fill="#53b987"/>
<rect x="520" y="340.4" width="3" height="6.23" fill="#53b987"/>
<rect x="523" y="340.4" width="3" height="2.36" fill="#eb4d5c"/>
<rect x="526" y="342.08" width="3" height="1.68" fill="#eb4d5c"/>
<rect x="529" y="343.26" width="3" height="3.71" fill="#eb4d5c"/>
<rect x="533" y="341.24" width="3" height="5.73" fill="#53b987"/>
<rect x="536" y="333.16" width="3" height="8.42" fill="#53b987"/>
<rect x="539" y="318" width="3" height="15.66" fill="#53b987"/>
<rect x="542" y="318" width="3" height="6.74" fill="#eb4d5c"/>
<rect x="546" y="319.18" width="3" height="5.56" fill="#53b987"/>
<rect x="549" y="312.95" width="3" height="6.74" fill="#53b987"/>
<rect x="552" y="312.95" width="3" height="4.55" fill="#eb4d5c"/>
<rect x="555" y="317.16" width="3" height="8.42" fill="#eb4d5c"/>
<rect x="558" y="323.05" width="3" height="2.53" fill="#53b987"/>
<rect x="562" y="323.05" width="3" height="17.68" fill="#eb4d5c"/>
<rect x="565" y="340.74" width="3" height="20.21" fill="#eb4d5c"/>
<rect x="568" y="355.05" width="3" height="5.89" fill="#53b987"/>
<rect x="571" y="355.05" width="3" height="5.89" fill="#eb4d5c"/>
<rect x="575" y="360.11" width="3" height="1.68" fill="#eb4d5c"/>
<rect x="578" y="360.11" width="3" height="1.68" fill="#53b987"/>
<rect x="581" y="359.26" width="3" height="1.68" fill="#eb4d5c"/>
<rect x="584" y="360.11" width="3" height="3.71" fill="#eb4d5c"/>
<rect x="587" y="360.95" width="3" height="2.86" fill="#53b987"/>
<rect x="591" y="360.95" width="3" height="1" fill="#53b987"/>
<rect x="594" y="360.95" width="3" height="1.35" fill="#eb4d5c"/>
<rect x="597" y="361.79" width="3" height="10.11" fill="#eb4d5c"/>
<rect x="600" y="370.72" width="3" height="2.02" fill="#eb4d5c"/>
<rect x="604" y="371.89" width="3" height="3.03" fill="#eb4d5c"/>
<rect x="607" y="371.05" width="3" height="3.37" fill="#53b987"/>
<rect x="610" y="371.05" width="3" height="1.68" fill="#eb4d5c"/>
<rect x="613" y="355.05" width="3" height="17.68" fill="#53b987"/>
<rect x="617" y="353.87" width="3" height="2.02" fill="#53b987"/>
<rect x="620" y="353.87" width="3" height="2.02" fill="#eb4d5c"/>
<rect x="623" y="344.95" width="3" height="10.95" fill="#53b987"/>
<rect x="626" y="344.95" width="3" height="1.68" fill="#eb4d5c"/>
<rect x="629" y="346.13" width="3" height="7.58" fill="#eb4d5c"/>
<rect x="633" y="347.14" width="3" height="6.57" fill="#53b987"/>
<rect x="636" y="347.14" width="3" height="2.36" fill="#eb4d5c"/>
<rect x="639" y="337.87" width="3" height="11.62" fill="#53b987"/>
<rect x="642" y="337.87" width="3" height="4.88" fill="#eb4d5c"/>
<rect x="646" y="342.08" width="3" height="3.71" fill="#eb4d5c"/>
<rect x="649" y="343.26" width="3" height="3.37" fill="#53b987"/>
<rect x="652" y="336.19" width="3" height="7.58" fill="#53b987"/>
<rect x="655" y="336.19" width="3" height="1" fill="#53b987"/>
<rect x="659" y="336.19" width="3" height="27.28" fill="#eb4d5c"/>
<rect x="662" y="363.14" width="3" height="1.52" fill="#eb4d5c"/>
<rect x="665" y="364.32" width="3" height="4.55" fill="#eb4d5c"/>
<rect x="668" y="360.95" width="3" height="7.92" fill="#53b987"/>
<rect x="671" y="359.26" width="3" height="2.19" fill="#53b987"/>
<rect x="675" y="359.26" width="3" height="6.74" fill="#eb4d5c"/>
<rect x="678" y="363.14" width="3" height="2.86" fill="#53b987"/>
<rect x="681" y="358.42" width="3" height="5.05" fill="#53b987"/>
<rect x="684" y="356.23" width="3" height="2.53" fill="#53b987"/>
<rect x="688" y="356.23" width="3" height="1.01" fill="#eb4d5c"/>
<rect x="691" y="355.89" width="3" height="1.68" fill="#eb4d5c"/>
<rect x="694" y="356.23" width="3" height="1.68" fill="#53b987"/>
<rect x="697" y="355.56" width="3" height="1.68" fill="#53b987"/>
<rect x="701" y="349.74" width="3" height="5.89" fill="#53b987"/>
<rect x="704" y="349.74" width="3" height="2.02" fill="#eb4d5c"/>
<rect x="707" y="349.23" width="3" height="2.53" fill="#53b987"/>
<rect x="710" y="348.73" width="3" height="1.01" fill="#53b987"/>
<rect x="713" y="348.89" width="3" height="9.26" fill="#eb4d5c"/>
<rect x="717" y="292.14" width="3" height="66.02" fill="#53b987"/>
<rect x="720" y="292.14" width="3" height="9.6" fill="#eb4d5c"/>
<rect x="723" y="298.37" width="3" height="3.37" fill="#53b987"/>
<rect x="726" y="282.03" width="3" height="16.67" fill="#53b987"/>
<rect x="730" y="282.03" width="3" height="6.74" fill="#eb4d5c"/>
<rect x="733" y="270.07" width="3" height="18.69" fill="#53b987"/>
<rect x="736" y="269.23" width="3" height="2.53" fill="#eb4d5c"/>
<rect x="739" y="267.21" width="3" height="3.37" fill="#53b987"/>
<rect x="743" y="267.21" width="3" height="2.53" fill="#eb4d5c"/>
<rect x="746" y="268.89" width="3" height="16" fill="#eb4d5c"/>
<rect x="749" y="273.11" width="3" height="11.79" fill="#53b987"/>
<rect x="752" y="266.87" width="3" height="6.74" fill="#53b987"/>
<rect x="755" y="266.87" width="3" height="12.13" fill="#eb4d5c"/>
<rect x="759" y="278.16" width="3" height="1.68" fill="#eb4d5c"/>
<rect x="762" y="275.13" width="3" height="4.72" fill="#53b987"/>
<rect x="765" y="275.13" width="3" height="1.68" fill="#eb4d5c"/>
<rect x="768" y="270.07" width="3" height="6.74" fill="#53b987"/>
<rect x="772" y="270.07" width="3" height="1.68" fill="#eb4d5c"/>
<rect x="775" y="253.23" width="3" height="18.53" fill="#53b987"/>
<rect x="778" y="253.23" width="3" height="4.21" fill="#eb4d5c"/>
<rect x="781" y="255.08" width="3" height="2.86" fill="#53b987"/>
<rect x="785" y="252.05" width="3" height="3.71" fill="#53b987"/>
<rect x="788" y="252.05" width="3" height="14.32" fill="#eb4d5c"/>
<rect x="791" y="266.03" width="3" height="3.71" fill="#eb4d5c"/>
<rect x="794" y="268.89" width="3" height="2.86" fill="#eb4d5c"/>
<rect x="797" y="271.08" width="3" height="7.92" fill="#eb4d5c"/>
<rect x="801" y="276.98" width="3" height="2.02" fill="#53b987"/>
<rect x="804" y="272.26" width="3" height="5.05" fill="#53b987"/>
<rect x="807" y="272.26" width="3" height="2.53" fill="#eb4d5c"/>
<rect x="810" y="268.05" width="3" height="6.74" fill="#53b987"/>
<rect x="814" y="268.05" width="3" height="1.18" fill="#eb4d5c"/>
<rect x="817" y="268.05" width="3" height="2.53" fill="#eb4d5c"/>
<rect x="820" y="270.07" width="3" height="15.66" fill="#eb4d5c"/>
<rect x="823" y="284.05" width="3" height="1.68" fill="#53b987"/>
<rect x="827" y="280.18" width="3" height="4.38" fill="#53b987"/>
<rect x="830" y="268.05" width="3" height="12.63" fill="#53b987"/>
<rect x="833" y="268.05" width="3" height="1.18" fill="#eb4d5c"/>
<rect x="836" y="268.56" width="3" height="9.6" fill="#eb4d5c"/>
<rect x="839" y="268.05" width="3" height="10.11" fill="#53b987"/>
<rect x="843" y="263.84" width="3" height="4.72" fill="#53b987"/>
<rect x="846" y="263" width="3" height="1.68" fill="#53b987"/>
<rect x="849" y="263" width="3" height="2.86" fill="#eb4d5c"/>
<rect x="852" y="262.16" width="3" height="3.71" fill="#53b987"/>
<rect x="856" y="260.14" width="3" height="2.53" fill="#53b987"/>
<rect x="859" y="258.79" width="3" height="2.02" fill="#53b987"/>
<rect x="862" y="257.11" width="3" height="2.53" fill="#53b987"/>
<rect x="865" y="253.23" width="3" height="4.38" fill="#53b987"/>
<rect x="869" y="253.23" width="3" height="1.68" fill="#eb4d5c"/>
<rect x="872" y="241.11" width="3" height="13.81" fill="#53b987"/>
<rect x="875" y="241.11" width="3" height="3.87" fill="#eb4d5c"/>
<rect x="878" y="241.61" width="3" height="3.37" fill="#53b987"/>
<rect x="881" y="216.84" width="3" height="24.76" fill="#53b987"/>
<rect x="885" y="216" width="3" height="1.35" fill="#53b987"/>
<rect x="888" y="215.66" width="3" height="1.18" fill="#53b987"/>
<rect x="891" y="216" width="3" height="11.79" fill="#eb4d5c"/>
<rect x="894" y="219.87" width="3" height="7.92" fill="#53b987"/>
<rect x="898" y="219.87" width="3" height="2.86" fill="#eb4d5c"/>
<rect x="901" y="212.97" width="3" height="9.77" fill="#53b987"/>
<rect x="904" y="212.97" width="3" height="7.75" fill="#eb4d5c"/>
<rect x="907" y="216" width="3" height="4.72" fill="#53b987"/>
<rect x="911" y="212.97" width="3" height="3.54" fill="#53b987"/>
<rect x="914" y="211.79" width="3" height="1.68" fill="#53b987"/>
<rect x="917" y="211.79" width="3" height="5.05" fill="#eb4d5c"/>
<rect x="920" y="216" width="3" height="6.74" fill="#eb4d5c"/>
<rect x="923" y="216.84" width="3" height="5.89" fill="#53b987"/>
<rect x="927" y="211.79" width="3" height="5.89" fill="#53b987"/>
<rect x="930" y="211.79" width="3" height="1.68" fill="#eb4d5c"/>
<rect x="933" y="212.63" width="3" height="2.02" fill="#eb4d5c"/>
<rect x="936" y="213.98" width="3" height="3.71" fill="#eb4d5c"/>
<rect x="940" y="210.95" width="3" height="6.74" fill="#53b987"/>
<rect x="943" y="194.11" width="3" height="17.68" fill="#53b987"/>
<rect x="946" y="192.08" width="3" height="2.36" fill="#53b987"/>
<rect x="949" y="187.03" width="3" height="5.73" fill="#53b987"/>
<rect x="953" y="182.82" width="3" height="4.88" fill="#53b987"/>
<rect x="956" y="175.07" width="3" height="8.59" fill="#53b987"/>
<rect x="959" y="162.95" width="3" height="12.63" fill="#53b987"/>
<rect x="962" y="162.95" width="3" height="18.53" fill="#eb4d5c"/>
<rect x="965" y="178.11" width="3" height="3.37" fill="#53b987"/>
<rect x="969" y="178.11" width="3" height="19.37" fill="#eb4d5c"/>
<rect x="972" y="196.97" width="3" height="12.8" fill="#eb4d5c"/>
<rect x="975" y="208.93" width="3" height="1" fill="#53b987"/>
<rect x="978" y="209.26" width="3" height="7.58" fill="#eb4d5c"/>
<rect x="982" y="216" width="3" height="5.89" fill="#eb4d5c"/>
<rect x="985" y="217.68" width="3" height="4.21" fill="#53b987"/>
<rect x="988" y="216.84" width="3" height="1.68" fill="#53b987"/>
<rect x="991" y="216.84" width="3" height="5.05" fill="#eb4d5c"/>
<rect x="995" y="216" width="3" height="5.89" fill="#53b987"/>
<rect x="998" y="188.72" width="3" height="28.13" fill="#53b987"/>
<rect x="1001" y="188.72" width="3" height="7.92" fill="#eb4d5c"/>
<rect x="1004" y="190.74" width="3" height="5.89" fill="#53b987"/>
<rect x="1007" y="186.02" width="3" height="5.56" fill="#53b987"/>
<rect x="1011" y="186.02" width="3" height="5.56" fill="#eb4d5c"/>
<rect x="1014" y="191.24" width="3" height="9.6" fill="#eb4d5c"/>
<rect x="1017" y="200" width="3" height="13.98" fill="#eb4d5c"/>
<rect x="1020" y="196.63" width="3" height="17.35" fill="#53b987"/>
<rect x="1024" y="197.14" width="3" height="1.68" fill="#eb4d5c"/>
<rect x="1027" y="193.26" width="3" height="5.56" fill="#53b987"/>
<rect x="1030" y="184" width="3" height="9.77" fill="#53b987"/>
<rect x="1033" y="179.79" width="3" height="5.05" fill="#53b987"/>
<rect x="1037" y="179.79" width="3" height="4.21" fill="#eb4d5c"/>
<rect x="1040" y="175.07" width="3" height="9.43" fill="#53b987"/>
<rect x="1043" y="175.07" width="3" height="2.53" fill="#eb4d5c"/>
<rect x="1046" y="177.26" width="3" height="13.47" fill="#eb4d5c"/>
<rect x="1049" y="185.18" width="3" height="5.56" fill="#53b987"/>
<rect x="1053" y="185.18" width="3" height="1.85" fill="#eb4d5c"/>
<rect x="1056" y="179.79" width="3" height="6.74" fill="#53b987"/>
<rect x="1059" y="179.79" width="3" height="10.11" fill="#eb4d5c"/>
<rect x="1062" y="189.05" width="3" height="3.71" fill="#eb4d5c"/>
<rect x="1066" y="189.05" width="3" height="3.71" fill="#53b987"/>
<rect x="1069" y="186.19" width="3" height="3.37" fill="#53b987"/>
<rect x="1072" y="185.18" width="3" height="1.68" fill="#53b987"/>
<rect x="1075" y="185.18" width="3" height="6.4" fill="#eb4d5c"/>
<rect x="1079" y="191.07" width="3" height="20.72" fill="#eb4d5c"/>
<rect x="1082" y="209.26" width="3" height="2.53" fill="#53b987"/>
<rect x="1085" y="208.76" width="3" height="1.01" fill="#53b987"/>
<rect x="1088" y="209.26" width="3" height="4.55" fill="#eb4d5c"/>
<rect x="1091" y="209.26" width="3" height="4.55" fill="#53b987"/>
<rect x="1095" y="203.03" width="3" height="6.74" fill="#53b987"/>
<rect x="1098" y="202.19" width="3" height="3.71" fill="#eb4d5c"/>
<rect x="1101" y="196.63" width="3" height="9.26" fill="#53b987"/>
</g>
<g>
<g><clipPath id="fc1110"><circle cx="1110.3" cy="391.8" r="8.9"/></clipPath>
<circle cx="1110.3" cy="391.8" r="11.3" fill="#fff" stroke="#f7375f" stroke-width="1.5"/>
<g clip-path="url(#fc1110)">
<rect x="1100.3" y="381.8" width="20" height="20" fill="#fff" />
<rect x="1100.3" y="381.2" width="20" height="3.3" fill="#e9515f" />
<rect x="1100.3" y="387.4" width="20" height="3.3" fill="#e9515f" />
<rect x="1100.3" y="393.6" width="20" height="3.3" fill="#e9515f" />
<rect x="1100.3" y="399.8" width="20" height="3.3" fill="#e9515f" />
<rect x="1100.3" y="384.5" width="9.2" height="9.4" fill="#4a86d8" />
<rect x="1101.7" y="385.5" width="1.3" height="1.3" fill="#c5d9f3" />
<rect x="1101.7" y="388.5" width="1.3" height="1.3" fill="#c5d9f3" />
<rect x="1101.7" y="391.5" width="1.3" height="1.3" fill="#c5d9f3" />
<rect x="1104.5" y="385.5" width="1.3" height="1.3" fill="#c5d9f3" />
<rect x="1104.5" y="388.5" width="1.3" height="1.3" fill="#c5d9f3" />
<rect x="1104.5" y="391.5" width="1.3" height="1.3" fill="#c5d9f3" />
<rect x="1107.3" y="385.5" width="1.3" height="1.3" fill="#c5d9f3" />
<rect x="1107.3" y="388.5" width="1.3" height="1.3" fill="#c5d9f3" />
<rect x="1107.3" y="391.5" width="1.3" height="1.3" fill="#c5d9f3" />
</g></g>
<g><clipPath id="fc1130"><circle cx="1130" cy="391.8" r="8.9"/></clipPath>
<circle cx="1130" cy="391.8" r="11.3" fill="#fff" stroke="#f7375f" stroke-width="1.5"/>
<g clip-path="url(#fc1130)">
<rect x="1120" y="381.8" width="20" height="20" fill="#fff" />
<rect x="1120" y="381.2" width="20" height="3.3" fill="#e9515f" />
<rect x="1120" y="387.4" width="20" height="3.3" fill="#e9515f" />
<rect x="1120" y="393.6" width="20" height="3.3" fill="#e9515f" />
<rect x="1120" y="399.8" width="20" height="3.3" fill="#e9515f" />
<rect x="1120" y="384.5" width="9.2" height="9.4" fill="#4a86d8" />
<rect x="1121.4" y="385.5" width="1.3" height="1.3" fill="#c5d9f3" />
<rect x="1121.4" y="388.5" width="1.3" height="1.3" fill="#c5d9f3" />
<rect x="1121.4" y="391.5" width="1.3" height="1.3" fill="#c5d9f3" />
<rect x="1124.2" y="385.5" width="1.3" height="1.3" fill="#c5d9f3" />
<rect x="1124.2" y="388.5" width="1.3" height="1.3" fill="#c5d9f3" />
<rect x="1124.2" y="391.5" width="1.3" height="1.3" fill="#c5d9f3" />
<rect x="1127" y="385.5" width="1.3" height="1.3" fill="#c5d9f3" />
<rect x="1127" y="388.5" width="1.3" height="1.3" fill="#c5d9f3" />
<rect x="1127" y="391.5" width="1.3" height="1.3" fill="#c5d9f3" />
</g></g>
<g><clipPath id="fc1148"><circle cx="1148.6" cy="391.8" r="8.9"/></clipPath>
<circle cx="1148.6" cy="391.8" r="11.3" fill="#fff" stroke="#f7375f" stroke-width="1.5"/>
<g clip-path="url(#fc1148)">
<rect x="1138.6" y="381.8" width="20" height="20" fill="#fff" />
<rect x="1138.6" y="381.2" width="20" height="3.3" fill="#e9515f" />
<rect x="1138.6" y="387.4" width="20" height="3.3" fill="#e9515f" />
<rect x="1138.6" y="393.6" width="20" height="3.3" fill="#e9515f" />
<rect x="1138.6" y="399.8" width="20" height="3.3" fill="#e9515f" />
<rect x="1138.6" y="384.5" width="9.2" height="9.4" fill="#4a86d8" />
<rect x="1140" y="385.5" width="1.3" height="1.3" fill="#c5d9f3" />
<rect x="1140" y="388.5" width="1.3" height="1.3" fill="#c5d9f3" />
<rect x="1140" y="391.5" width="1.3" height="1.3" fill="#c5d9f3" />
<rect x="1142.8" y="385.5" width="1.3" height="1.3" fill="#c5d9f3" />
<rect x="1142.8" y="388.5" width="1.3" height="1.3" fill="#c5d9f3" />
<rect x="1142.8" y="391.5" width="1.3" height="1.3" fill="#c5d9f3" />
<rect x="1145.6" y="385.5" width="1.3" height="1.3" fill="#c5d9f3" />
<rect x="1145.6" y="388.5" width="1.3" height="1.3" fill="#c5d9f3" />
<rect x="1145.6" y="391.5" width="1.3" height="1.3" fill="#c5d9f3" />
</g></g>
<rect x="1114.2" y="379.2" width="10.5" height="11.8" rx="4.5" fill="#fff"/>
<rect x="1131.2" y="379.2" width="15.5" height="11.8" rx="4.5" fill="#fff"/>
<rect x="1151.8" y="379.2" width="11" height="11.8" rx="4.5" fill="#fff"/>
<text x="1116.7" y="388.7" font-size="10.2" fill="#1a1a1a" font-family="Liberation Sans, sans-serif" >3</text>
<text x="1133.9" y="388.7" font-size="10.2" fill="#1a1a1a" font-family="Liberation Sans, sans-serif" textLength="10.3" lengthAdjust="spacingAndGlyphs" >13</text>
<text x="1154.4" y="388.7" font-size="10.2" fill="#1a1a1a" font-family="Liberation Sans, sans-serif" >6</text>
</g>
<polyline points="0,445.16 6.97,454.45 16.26,469.54 23.22,484.64 30.19,503.22 37.16,521.79 44.12,538.05 51.09,554.31 58.06,568.24 65.03,579.85 71.99,586.82 78.96,587.28 85.93,581.01 95.22,571.73 104.51,561.27 113.79,549.66 120.76,533.41 127.73,519.47 134.7,512.51 141.66,511.34 148.63,510.18 154.44,509.02 162.56,513.67 169.53,521.79 176.5,533.41 183.46,542.7 190.43,550.13 197.4,549.66 204.37,543.86 211.33,536.89 219.46,529.92 227.59,528.76 234.56,532.25 242.68,537.35 249.65,534.57 256.62,527.6 264.75,510.18 274.04,491.6 283.33,475.35 292.61,461.41 301.9,450.96 310.03,444.69 318.16,448.64 325.13,455.61 326.97,459.09 333.93,468.38 340.9,475.35 347.87,476.51 354.84,475.35 362.27,473.49 371.09,476.51 380.38,482.31 389.67,491.6 398.96,500.89 408.25,511.34 417.54,520.63 426.83,523.42 436.12,522.26 446.57,521.33 454.7,524.12 463.99,532.25 473.27,542.7 482.56,550.82 491.85,551.99 501.14,547.34 509.27,542.7 517.4,538.05 524.37,533.41 531.33,526.44 538.3,514.83 545.27,503.22 552.23,493.93 559.2,485.8 566.63,481.15 573.14,482.78 580.1,489.28 587.07,496.25 594.04,502.05 602.16,506.7 610.29,509.72 618.42,509.72 626.55,506.7 633.52,500.89 640.48,493.93 646.97,488.12 655.1,481.15 663.22,479.99 670.19,481.85 678.32,485.1 686.45,489.28 692.25,491.14 700.38,491.14 709.67,488.82 717.8,485.8 724.77,477.67 731.73,464.9 737.54,450.96 743.34,439.35 749.15,430.06 754.96,423.1 760.3,421.47 767.73,423.79 774.7,426.58 783.99,429.6 793.27,432.38 802.56,438.19 811.85,447.48 821.14,456.77 830.43,464.9 839.72,470.24 847.15,472.56 855.98,472.56 865.27,470.7 874.56,467.22 883.85,462.58 893.14,455.61 902.42,447.48 909.39,443.3 915.66,442.37 923.33,442.84 932.61,445.16 940.74,448.64 947.01,450.5 953.52,450.5 961.64,447.48 970,442.84 973.15,441.21 978.96,444 984.77,449.8 991.73,461.41 997.54,469.54 1004.51,475.35 1011.47,476.51 1018.44,475.81 1025.41,474.19 1031.21,473.03 1039.34,471.17 1048.63,468.38 1055.6,466.52 1060.24,464.9 1067.21,466.06 1076.5,469.54 1083.46,474.19 1090.43,479.99 1097.4,484.64 1104.37,488.12" fill="none" stroke="#ffff00" stroke-width="1.8" stroke-opacity="0.72" stroke-linejoin="round" stroke-linecap="round"/>
<polyline points="0,457.93 4.64,473.03 10.45,489.28 16.26,499.73 22.06,507.86 25.55,521.79 29.03,533.41 32.51,545.02 36,550.82 42.96,554.31 46.45,563.6 49.93,575.21 54.58,589.14 58.06,593.79 62.7,596.11 66.19,600.29 69.67,591.46 74.31,587.28" fill="none" stroke="#ff0000" stroke-width="3.9" stroke-opacity="0.7" stroke-linejoin="round" stroke-linecap="round"/>
<polyline points="74.31,587.28 77.8,575.21 81.28,562.44 84.77,560.81 89.41,565.92 94.05,569.4 98.7,561.27 102.18,556.63 106.83,533.41 111.47,519.47 117.28,503.22 120.76,505.54 124.25,510.18 130.05,512.97 134.7,510.18 138.88,511.34" fill="none" stroke="#00ff00" stroke-width="3.9" stroke-opacity="0.7" stroke-linejoin="round" stroke-linecap="round"/>
<polyline points="138.88,511.34 146.31,511.34" fill="none" stroke="#ff0000" stroke-width="3.9" stroke-opacity="0.7" stroke-linejoin="round" stroke-linecap="round"/>
<polyline points="146.31,511.34 149.79,506.7 152.11,505.07" fill="none" stroke="#00ff00" stroke-width="3.9" stroke-opacity="0.7" stroke-linejoin="round" stroke-linecap="round"/>
<polyline points="152.11,505.07 156.06,510.18 160.24,517.15 166.05,535.73 171.85,554.31 177.66,555.47 183.46,551.99 190.43,550.13" fill="none" stroke="#ff0000" stroke-width="3.9" stroke-opacity="0.7" stroke-linejoin="round" stroke-linecap="round"/>
<polyline points="190.43,550.13 195.08,545.02 199.72,532.25 204.37,527.6 210.17,525.97 214.82,524.81 219.46,529.92" fill="none" stroke="#00ff00" stroke-width="3.9" stroke-opacity="0.7" stroke-linejoin="round" stroke-linecap="round"/>
<polyline points="219.46,529.92 225.27,534.57 232.23,539.21 236.88,542.7 240.36,546.88" fill="none" stroke="#ff0000" stroke-width="3.9" stroke-opacity="0.7" stroke-linejoin="round" stroke-linecap="round"/>
<polyline points="240.36,546.88 242.68,537.59 248.49,517.15 255.46,500.89 262.42,486.96 269.39,475.35 278.68,461.41 285.65,449.8 293.78,442.84 301.9,444 310.03,444.69" fill="none" stroke="#00ff00" stroke-width="3.9" stroke-opacity="0.7" stroke-linejoin="round" stroke-linecap="round"/>
<polyline points="310.03,444.69 315.84,456.77 321.64,463.74 330,477.67 330.45,479.53 336.26,478.83 342.06,474.88" fill="none" stroke="#ff0000" stroke-width="3.9" stroke-opacity="0.7" stroke-linejoin="round" stroke-linecap="round"/>
<polyline points="342.06,474.88 346.71,470.7 351.35,471.17 356.69,468.38 361.8,473.03" fill="none" stroke="#00ff00" stroke-width="3.9" stroke-opacity="0.7" stroke-linejoin="round" stroke-linecap="round"/>
<polyline points="361.8,473.03 367.61,481.15 375.74,489.28 382.7,492.77 389.67,505.54 395.48,513.67 400.12,517.15 405.93,521.79 411.73,522.26 417.54,524.81 423.34,524.81 426.83,523.42" fill="none" stroke="#ff0000" stroke-width="3.9" stroke-opacity="0.7" stroke-linejoin="round" stroke-linecap="round"/>
<polyline points="426.83,523.42 433.79,519.47 440.76,516.69 446.57,521.33" fill="none" stroke="#00ff00" stroke-width="3.9" stroke-opacity="0.7" stroke-linejoin="round" stroke-linecap="round"/>
<polyline points="446.57,521.33 451.21,526.44 455.86,535.73 459.34,543.86 465.15,547.34 470.95,554.31 475.6,557.79 481.4,553.15 484.42,551.99" fill="none" stroke="#ff0000" stroke-width="3.9" stroke-opacity="0.7" stroke-linejoin="round" stroke-linecap="round"/>
<polyline points="484.42,551.99 490.69,543.86 498.82,536.89 504.63,538.05" fill="none" stroke="#00ff00" stroke-width="3.9" stroke-opacity="0.7" stroke-linejoin="round" stroke-linecap="round"/>
<polyline points="504.63,538.05 508.57,543.86" fill="none" stroke="#ff0000" stroke-width="3.9" stroke-opacity="0.7" stroke-linejoin="round" stroke-linecap="round"/>
<polyline points="508.57,543.86 511.13,541.53 517.4,528.76 524.37,517.15 530.17,510.18 534.82,506.7 539.46,496.25 544.11,488.12 548.75,482.31 554.56,477.67 560.36,475.35 562.68,477.21" fill="none" stroke="#00ff00" stroke-width="3.9" stroke-opacity="0.7" stroke-linejoin="round" stroke-linecap="round"/>
<polyline points="562.68,477.21 567.33,486.96 571.97,493.93 577.78,499.73 584.75,504.38 590.55,505.54 595.2,506.7 601,510.18 607.97,512.51 612.61,512.04" fill="none" stroke="#ff0000" stroke-width="3.9" stroke-opacity="0.7" stroke-linejoin="round" stroke-linecap="round"/>
<polyline points="612.61,512.04 613.78,509.72 618.42,504.38 624.23,496.25 630.03,490.44 637,486.96 645.13,482.31 650,479.99 650.45,477.67 656.26,473.72 663.22,479.99" fill="none" stroke="#00ff00" stroke-width="3.9" stroke-opacity="0.7" stroke-linejoin="round" stroke-linecap="round"/>
<polyline points="663.22,479.99 667.87,489.28 673.67,492.07 679.48,493.46 685.29,491.6 692.25,491.14" fill="none" stroke="#ff0000" stroke-width="3.9" stroke-opacity="0.7" stroke-linejoin="round" stroke-linecap="round"/>
<polyline points="692.25,491.14 698.06,489.28 707.35,485.8 714.31,482.31 717.8,470.7 722.44,454.45 727.09,442.84 731.73,434.71 736.38,425.42 740.33,418.45 744.51,416.82 747.99,420.08 753.79,419.15 759.6,422.4" fill="none" stroke="#00ff00" stroke-width="3.9" stroke-opacity="0.7" stroke-linejoin="round" stroke-linecap="round"/>
<polyline points="759.6,422.4 766.57,429.37 773.53,433.08 779.34,430.06 785.15,430.06 790.95,437.03 797.92,447.48 804.89,455.61 811.85,459.56 817.66,462.58 823.46,470.24 829.27,474.88 835.08,472.56 840.88,474.19 846.69,472.56" fill="none" stroke="#ff0000" stroke-width="3.9" stroke-opacity="0.7" stroke-linejoin="round" stroke-linecap="round"/>
<polyline points="846.69,472.56 855.98,469.54 865.27,467.22 872.23,463.74 879.2,457.93 883.85,449.8 889.65,444 895.46,442.37 902.42,440.05 909.39,442.37 915.2,442.37" fill="none" stroke="#00ff00" stroke-width="3.9" stroke-opacity="0.7" stroke-linejoin="round" stroke-linecap="round"/>
<polyline points="915.2,442.37 921,447.02 927.97,449.34 934.94,452.12 940.74,455.61 946.55,450.96" fill="none" stroke="#ff0000" stroke-width="3.9" stroke-opacity="0.7" stroke-linejoin="round" stroke-linecap="round"/>
<polyline points="946.55,450.96 952.35,446.32 957,441.67 960.48,434.01 965.13,435.87 970,439.35 973.15,441.21" fill="none" stroke="#00ff00" stroke-width="3.9" stroke-opacity="0.7" stroke-linejoin="round" stroke-linecap="round"/>
<polyline points="973.15,441.21 976.64,450.96 981.28,461.41 985.93,470.7 991.73,479.53 996.38,481.85 1001.02,477.67 1004.51,475.35" fill="none" stroke="#ff0000" stroke-width="3.9" stroke-opacity="0.7" stroke-linejoin="round" stroke-linecap="round"/>
<polyline points="1004.51,475.35 1007.99,470.7 1012.63,469.08 1016.12,471.86 1019.6,475.35 1024.25,474.19" fill="none" stroke="#00ff00" stroke-width="3.9" stroke-opacity="0.7" stroke-linejoin="round" stroke-linecap="round"/>
<polyline points="1024.25,474.19 1031.21,473.03" fill="none" stroke="#ff0000" stroke-width="3.9" stroke-opacity="0.7" stroke-linejoin="round" stroke-linecap="round"/>
<polyline points="1031.21,473.03 1035.86,468.85 1040.5,465.59 1044.45,461.88 1048.63,464.2 1054.44,465.59 1060.24,464.9" fill="none" stroke="#00ff00" stroke-width="3.9" stroke-opacity="0.7" stroke-linejoin="round" stroke-linecap="round"/>
<polyline points="1060.24,464.9 1066.05,470.24 1071.85,471.86 1076.5,474.19 1081.14,481.15 1085.79,488.12 1090.43,493.93 1096.24,495.09 1100.88,493.93 1104.37,491.6" fill="none" stroke="#ff0000" stroke-width="3.9" stroke-opacity="0.7" stroke-linejoin="round" stroke-linecap="round"/>
<g fill-opacity="0.7" shape-rendering="crispEdges">
<rect x="0" y="485" width="4" height="19.15" fill="#ff0000"/>
<rect x="3" y="485" width="4" height="22.15" fill="#ff0000"/>
<rect x="6" y="485" width="4" height="25.15" fill="#ff0000"/>
<rect x="9" y="485" width="4" height="27.33" fill="#ff0000"/>
<rect x="12" y="485" width="4" height="28.31" fill="#ff0000"/>
<rect x="16" y="485" width="4" height="29.61" fill="#ff0000"/>
<rect x="19" y="485" width="4" height="30.73" fill="#800000"/>
<rect x="22" y="485" width="4" height="31.93" fill="#800000"/>
<rect x="25" y="485" width="4" height="33.27" fill="#ff0000"/>
<rect x="29" y="485" width="4" height="35.47" fill="#ff0000"/>
<rect x="32" y="485" width="4" height="37.12" fill="#ff0000"/>
<rect x="35" y="485" width="4" height="35.25" fill="#800000"/>
<rect x="38" y="485" width="4" height="30.55" fill="#800000"/>
<rect x="42" y="485" width="4" height="26.66" fill="#800000"/>
<rect x="45" y="485" width="4" height="26.16" fill="#800000"/>
<rect x="48" y="485" width="4" height="26.31" fill="#ff0000"/>
<rect x="51" y="485" width="4" height="28.51" fill="#ff0000"/>
<rect x="54" y="485" width="4" height="30.71" fill="#ff0000"/>
<rect x="58" y="485" width="4" height="29.08" fill="#800000"/>
<rect x="61" y="485" width="4" height="26.18" fill="#800000"/>
<rect x="64" y="485" width="4" height="20.07" fill="#800000"/>
<rect x="67" y="485" width="4" height="13.32" fill="#800000"/>
<rect x="71" y="485" width="4" height="1.18" fill="#800000"/>
<rect x="74" y="473.34" width="4" height="10.66" fill="#00ffff"/>
<rect x="77" y="466.95" width="4" height="17.05" fill="#00ffff"/>
<rect x="80" y="462.9" width="4" height="21.1" fill="#00ffff"/>
<rect x="84" y="464.7" width="4" height="19.3" fill="#0000ff"/>
<rect x="87" y="470.32" width="4" height="13.68" fill="#0000ff"/>
<rect x="90" y="476.12" width="4" height="7.88" fill="#0000ff"/>
<rect x="93" y="480.4" width="4" height="3.6" fill="#0000ff"/>
<rect x="96" y="478.15" width="4" height="5.85" fill="#00ffff"/>
<rect x="100" y="471.19" width="4" height="12.81" fill="#00ffff"/>
<rect x="103" y="463.5" width="4" height="20.5" fill="#00ffff"/>
<rect x="106" y="458.52" width="4" height="25.48" fill="#00ffff"/>
<rect x="109" y="455.67" width="4" height="28.33" fill="#00ffff"/>
<rect x="113" y="450.92" width="4" height="33.08" fill="#00ffff"/>
<rect x="116" y="448.27" width="4" height="35.73" fill="#00ffff"/>
<rect x="119" y="455.07" width="4" height="28.93" fill="#0000ff"/>
<rect x="122" y="464.98" width="4" height="19.02" fill="#0000ff"/>
<rect x="126" y="473.37" width="4" height="10.63" fill="#0000ff"/>
<rect x="129" y="478.4" width="4" height="5.6" fill="#0000ff"/>
<rect x="132" y="481.11" width="4" height="2.89" fill="#0000ff"/>
<rect x="135" y="483.35" width="4" height="0.65" fill="#0000ff"/>
<rect x="138" y="485" width="4" height="1.83" fill="#ff0000"/>
<rect x="142" y="485" width="4" height="2.06" fill="#ff0000"/>
<rect x="145" y="483.46" width="4" height="0.54" fill="#00ffff"/>
<rect x="148" y="480.05" width="4" height="3.95" fill="#00ffff"/>
<rect x="151" y="481.06" width="4" height="2.94" fill="#0000ff"/>
<rect x="155" y="485" width="4" height="3.28" fill="#ff0000"/>
<rect x="158" y="485" width="4" height="6.12" fill="#ff0000"/>
<rect x="161" y="485" width="4" height="11.72" fill="#ff0000"/>
<rect x="164" y="485" width="4" height="18.69" fill="#ff0000"/>
<rect x="168" y="485" width="4" height="26.88" fill="#ff0000"/>
<rect x="171" y="485" width="4" height="29.51" fill="#ff0000"/>
<rect x="174" y="485" width="4" height="25.12" fill="#800000"/>
<rect x="177" y="485" width="4" height="21.52" fill="#800000"/>
<rect x="180" y="485" width="4" height="15.77" fill="#800000"/>
<rect x="184" y="485" width="4" height="7.77" fill="#800000"/>
<rect x="187" y="485" width="4" height="4.49" fill="#800000"/>
<rect x="190" y="482.59" width="4" height="1.41" fill="#00ffff"/>
<rect x="193" y="478.11" width="4" height="5.89" fill="#00ffff"/>
<rect x="197" y="470.42" width="4" height="13.58" fill="#00ffff"/>
<rect x="200" y="466.91" width="4" height="17.09" fill="#00ffff"/>
<rect x="203" y="468.08" width="4" height="15.92" fill="#0000ff"/>
<rect x="206" y="470.48" width="4" height="13.52" fill="#0000ff"/>
<rect x="210" y="472.73" width="4" height="11.27" fill="#0000ff"/>
<rect x="213" y="474.73" width="4" height="9.27" fill="#0000ff"/>
<rect x="216" y="479.42" width="4" height="4.58" fill="#0000ff"/>
<rect x="219" y="485" width="4" height="2.25" fill="#ff0000"/>
<rect x="222" y="485" width="4" height="4.47" fill="#ff0000"/>
<rect x="226" y="485" width="4" height="7.59" fill="#ff0000"/>
<rect x="229" y="485" width="4" height="8.83" fill="#ff0000"/>
<rect x="232" y="485" width="4" height="7.77" fill="#800000"/>
<rect x="235" y="485" width="4" height="9.88" fill="#ff0000"/>
<rect x="239" y="485" width="4" height="9.69" fill="#800000"/>
<rect x="242" y="485" width="4" height="1.83" fill="#800000"/>
<rect x="245" y="474.06" width="4" height="9.94" fill="#00ffff"/>
<rect x="248" y="466.06" width="4" height="17.94" fill="#00ffff"/>
<rect x="252" y="459.98" width="4" height="24.02" fill="#00ffff"/>
<rect x="255" y="455.38" width="4" height="28.62" fill="#00ffff"/>
<rect x="258" y="453.86" width="4" height="30.14" fill="#00ffff"/>
<rect x="261" y="453.1" width="4" height="30.9" fill="#00ffff"/>
<rect x="264" y="453.84" width="4" height="30.16" fill="#0000ff"/>
<rect x="268" y="459.28" width="4" height="24.72" fill="#0000ff"/>
<rect x="271" y="462.88" width="4" height="21.12" fill="#0000ff"/>
<rect x="274" y="467.12" width="4" height="16.88" fill="#0000ff"/>
<rect x="277" y="464.36" width="4" height="19.64" fill="#00ffff"/>
<rect x="281" y="463.93" width="4" height="20.07" fill="#00ffff"/>
<rect x="284" y="464.34" width="4" height="19.66" fill="#0000ff"/>
<rect x="287" y="465.65" width="4" height="18.35" fill="#0000ff"/>
<rect x="290" y="465.68" width="4" height="18.32" fill="#0000ff"/>
<rect x="294" y="468.73" width="4" height="15.27" fill="#0000ff"/>
<rect x="297" y="472.73" width="4" height="11.27" fill="#0000ff"/>
<rect x="300" y="476.73" width="4" height="7.27" fill="#0000ff"/>
<rect x="303" y="479" width="4" height="5" fill="#0000ff"/>
<rect x="306" y="481.21" width="4" height="2.79" fill="#0000ff"/>
<rect x="310" y="485" width="4" height="5.29" fill="#ff0000"/>
<rect x="313" y="485" width="4" height="9.29" fill="#ff0000"/>
<rect x="316" y="485" width="4" height="13.29" fill="#ff0000"/>
<rect x="319" y="485" width="4" height="15.66" fill="#ff0000"/>
<rect x="323" y="485" width="4" height="18.33" fill="#ff0000"/>
<rect x="326" y="485" width="4" height="19.79" fill="#ff0000"/>
<rect x="329" y="485" width="4" height="18.74" fill="#800000"/>
<rect x="332" y="485" width="4" height="14.36" fill="#800000"/>
<rect x="336" y="485" width="4" height="8.61" fill="#800000"/>
<rect x="339" y="485" width="4" height="4.29" fill="#800000"/>
<rect x="342" y="485" width="4" height="0.92" fill="#800000"/>
<rect x="345" y="481.45" width="4" height="2.55" fill="#00ffff"/>
<rect x="348" y="481.04" width="4" height="2.96" fill="#00ffff"/>
<rect x="352" y="479.12" width="4" height="4.88" fill="#00ffff"/>
<rect x="355" y="479.12" width="4" height="4.88" fill="#00ffff"/>
<rect x="358" y="482.03" width="4" height="1.97" fill="#0000ff"/>
<rect x="361" y="485" width="4" height="3.72" fill="#ff0000"/>
<rect x="365" y="485" width="4" height="7.4" fill="#ff0000"/>
<rect x="368" y="485" width="4" height="10.25" fill="#ff0000"/>
<rect x="371" y="485" width="4" height="10.44" fill="#ff0000"/>
<rect x="374" y="485" width="4" height="8.79" fill="#800000"/>
<rect x="378" y="485" width="4" height="10.35" fill="#ff0000"/>
<rect x="381" y="485" width="4" height="10.05" fill="#800000"/>
<rect x="384" y="485" width="4" height="10.61" fill="#ff0000"/>
<rect x="387" y="485" width="4" height="12.61" fill="#ff0000"/>
<rect x="390" y="485" width="4" height="14.61" fill="#ff0000"/>
<rect x="394" y="485" width="4" height="16.73" fill="#ff0000"/>
<rect x="397" y="485" width="4" height="16.97" fill="#ff0000"/>
<rect x="400" y="485" width="4" height="16.3" fill="#800000"/>
<rect x="403" y="485" width="4" height="15.55" fill="#800000"/>
<rect x="407" y="485" width="4" height="13.04" fill="#800000"/>
<rect x="410" y="485" width="4" height="10.57" fill="#800000"/>
<rect x="413" y="485" width="4" height="8.06" fill="#800000"/>
<rect x="416" y="485" width="4" height="6.06" fill="#800000"/>
<rect x="420" y="485" width="4" height="3.49" fill="#800000"/>
<rect x="423" y="485" width="4" height="2.09" fill="#800000"/>
<rect x="426" y="482.24" width="4" height="1.76" fill="#00ffff"/>
<rect x="429" y="481.64" width="4" height="2.36" fill="#00ffff"/>
<rect x="432" y="480.84" width="4" height="3.16" fill="#00ffff"/>
<rect x="436" y="479.91" width="4" height="4.09" fill="#00ffff"/>
<rect x="439" y="479.61" width="4" height="4.39" fill="#00ffff"/>
<rect x="442" y="482.95" width="4" height="1.05" fill="#0000ff"/>
<rect x="445" y="485" width="4" height="4.44" fill="#ff0000"/>
<rect x="449" y="485" width="4" height="7.65" fill="#ff0000"/>
<rect x="452" y="485" width="4" height="11.02" fill="#ff0000"/>
<rect x="455" y="485" width="4" height="15.11" fill="#ff0000"/>
<rect x="458" y="485" width="4" height="19.12" fill="#ff0000"/>
<rect x="462" y="485" width="4" height="16.28" fill="#800000"/>
<rect x="465" y="485" width="4" height="15.75" fill="#800000"/>
<rect x="468" y="485" width="4" height="15.04" fill="#800000"/>
<rect x="471" y="485" width="4" height="13.91" fill="#800000"/>
<rect x="474" y="485" width="4" height="11.91" fill="#800000"/>
<rect x="478" y="485" width="4" height="7.19" fill="#800000"/>
<rect x="481" y="485" width="4" height="3.79" fill="#800000"/>
<rect x="484" y="481.68" width="4" height="2.32" fill="#00ffff"/>
<rect x="487" y="477.18" width="4" height="6.82" fill="#00ffff"/>
<rect x="491" y="474.73" width="4" height="9.27" fill="#00ffff"/>
<rect x="494" y="473.78" width="4" height="10.22" fill="#00ffff"/>
<rect x="497" y="473.78" width="4" height="10.22" fill="#00ffff"/>
<rect x="500" y="477.09" width="4" height="6.91" fill="#0000ff"/>
<rect x="504" y="480.64" width="4" height="3.36" fill="#0000ff"/>
<rect x="507" y="482.17" width="4" height="1.83" fill="#0000ff"/>
<rect x="510" y="481.2" width="4" height="2.8" fill="#00ffff"/>
<rect x="513" y="479" width="4" height="5" fill="#00ffff"/>
<rect x="516" y="475.97" width="4" height="8.03" fill="#00ffff"/>
<rect x="520" y="470.92" width="4" height="13.08" fill="#00ffff"/>
<rect x="523" y="468.4" width="4" height="15.6" fill="#00ffff"/>
<rect x="526" y="467.6" width="4" height="16.4" fill="#00ffff"/>
<rect x="529" y="467.45" width="4" height="16.55" fill="#00ffff"/>
<rect x="533" y="466.53" width="4" height="17.47" fill="#00ffff"/>
<rect x="536" y="465.46" width="4" height="18.54" fill="#00ffff"/>
<rect x="539" y="463.86" width="4" height="20.14" fill="#00ffff"/>
<rect x="542" y="464.48" width="4" height="19.52" fill="#0000ff"/>
<rect x="546" y="463.96" width="4" height="20.04" fill="#00ffff"/>
<rect x="549" y="464.11" width="4" height="19.89" fill="#0000ff"/>
<rect x="552" y="465.76" width="4" height="18.24" fill="#0000ff"/>
<rect x="555" y="468.76" width="4" height="15.24" fill="#0000ff"/>
<rect x="558" y="471.76" width="4" height="12.24" fill="#0000ff"/>
<rect x="562" y="476.8" width="4" height="7.2" fill="#0000ff"/>
<rect x="565" y="485" width="4" height="5.04" fill="#ff0000"/>
<rect x="568" y="485" width="4" height="9.37" fill="#ff0000"/>
<rect x="571" y="485" width="4" height="12.19" fill="#ff0000"/>
<rect x="575" y="485" width="4" height="14.51" fill="#ff0000"/>
<rect x="578" y="485" width="4" height="15.14" fill="#ff0000"/>
<rect x="581" y="485" width="4" height="14.11" fill="#800000"/>
<rect x="584" y="485" width="4" height="11.71" fill="#800000"/>
<rect x="587" y="485" width="4" height="9.65" fill="#800000"/>
<rect x="591" y="485" width="4" height="7.4" fill="#800000"/>
<rect x="594" y="485" width="4" height="5.8" fill="#800000"/>
<rect x="597" y="485" width="4" height="4.91" fill="#800000"/>
<rect x="600" y="485" width="4" height="4.81" fill="#800000"/>
<rect x="604" y="485" width="4" height="4.21" fill="#800000"/>
<rect x="607" y="485" width="4" height="3.54" fill="#800000"/>
<rect x="610" y="485" width="4" height="2.47" fill="#800000"/>
<rect x="613" y="481.89" width="4" height="2.11" fill="#00ffff"/>
<rect x="617" y="478.89" width="4" height="5.11" fill="#00ffff"/>
<rect x="620" y="476.14" width="4" height="7.86" fill="#00ffff"/>
<rect x="623" y="473.64" width="4" height="10.36" fill="#00ffff"/>
<rect x="626" y="472.04" width="4" height="11.96" fill="#00ffff"/>
<rect x="629" y="472.02" width="4" height="11.98" fill="#00ffff"/>
<rect x="633" y="472.82" width="4" height="11.18" fill="#0000ff"/>
<rect x="636" y="473.32" width="4" height="10.68" fill="#0000ff"/>
<rect x="639" y="472.79" width="4" height="11.21" fill="#00ffff"/>
<rect x="642" y="473.79" width="4" height="10.21" fill="#0000ff"/>
<rect x="646" y="475.89" width="4" height="8.11" fill="#0000ff"/>
<rect x="649" y="477.26" width="4" height="6.74" fill="#0000ff"/>
<rect x="652" y="476.8" width="4" height="7.2" fill="#00ffff"/>
<rect x="655" y="477.08" width="4" height="6.92" fill="#0000ff"/>
<rect x="659" y="483.43" width="4" height="0.57" fill="#0000ff"/>
<rect x="662" y="485" width="4" height="3.99" fill="#ff0000"/>
<rect x="665" y="485" width="4" height="6.48" fill="#ff0000"/>
<rect x="668" y="485" width="4" height="7.76" fill="#ff0000"/>
<rect x="671" y="485" width="4" height="8.36" fill="#ff0000"/>
<rect x="675" y="485" width="4" height="8.36" fill="#ff0000"/>
<rect x="678" y="485" width="4" height="7.97" fill="#800000"/>
<rect x="681" y="485" width="4" height="6.85" fill="#800000"/>
<rect x="684" y="485" width="4" height="4.66" fill="#800000"/>
<rect x="688" y="485" width="4" height="2.29" fill="#800000"/>
<rect x="694" y="482.54" width="4" height="1.46" fill="#00ffff"/>
<rect x="697" y="482.29" width="4" height="1.71" fill="#00ffff"/>
<rect x="701" y="481.49" width="4" height="2.51" fill="#00ffff"/>
<rect x="704" y="480.61" width="4" height="3.39" fill="#00ffff"/>
<rect x="707" y="479.9" width="4" height="4.1" fill="#00ffff"/>
<rect x="710" y="479.81" width="4" height="4.19" fill="#00ffff"/>
<rect x="713" y="480.26" width="4" height="3.74" fill="#0000ff"/>
<rect x="717" y="469.82" width="4" height="14.18" fill="#00ffff"/>
<rect x="720" y="463.04" width="4" height="20.96" fill="#00ffff"/>
<rect x="723" y="459.04" width="4" height="24.96" fill="#00ffff"/>
<rect x="726" y="456.5" width="4" height="27.5" fill="#00ffff"/>
<rect x="730" y="455.25" width="4" height="28.75" fill="#00ffff"/>
<rect x="733" y="453.71" width="4" height="30.29" fill="#00ffff"/>
<rect x="736" y="454.72" width="4" height="29.28" fill="#0000ff"/>
<rect x="739" y="457.7" width="4" height="26.3" fill="#0000ff"/>
<rect x="743" y="462.86" width="4" height="21.14" fill="#0000ff"/>
<rect x="746" y="469.26" width="4" height="14.74" fill="#0000ff"/>
<rect x="749" y="473.98" width="4" height="10.02" fill="#0000ff"/>
<rect x="752" y="477.6" width="4" height="6.4" fill="#0000ff"/>
<rect x="755" y="482.91" width="4" height="1.09" fill="#0000ff"/>
<rect x="759" y="485" width="4" height="3.62" fill="#ff0000"/>
<rect x="762" y="485" width="4" height="5.9" fill="#ff0000"/>
<rect x="765" y="485" width="4" height="7.88" fill="#ff0000"/>
<rect x="768" y="485" width="4" height="7.99" fill="#ff0000"/>
<rect x="772" y="485" width="4" height="7.23" fill="#800000"/>
<rect x="775" y="485" width="4" height="5.2" fill="#800000"/>
<rect x="778" y="485" width="4" height="3.88" fill="#800000"/>
<rect x="781" y="485" width="4" height="2.74" fill="#800000"/>
<rect x="785" y="485" width="4" height="1.1" fill="#800000"/>
<rect x="788" y="485" width="4" height="3.67" fill="#ff0000"/>
<rect x="791" y="485" width="4" height="6.42" fill="#ff0000"/>
<rect x="794" y="485" width="4" height="9.78" fill="#ff0000"/>
<rect x="797" y="485" width="4" height="13.39" fill="#ff0000"/>
<rect x="801" y="485" width="4" height="15.47" fill="#ff0000"/>
<rect x="804" y="485" width="4" height="15.71" fill="#ff0000"/>
<rect x="807" y="485" width="4" height="15.26" fill="#800000"/>
<rect x="810" y="485" width="4" height="13.76" fill="#800000"/>
<rect x="814" y="485" width="4" height="11.85" fill="#800000"/>
<rect x="817" y="485" width="4" height="11.65" fill="#800000"/>
<rect x="820" y="485" width="4" height="12.05" fill="#ff0000"/>
<rect x="823" y="485" width="4" height="12.1" fill="#ff0000"/>
<rect x="827" y="485" width="4" height="10.04" fill="#800000"/>
<rect x="830" y="485" width="4" height="7.74" fill="#800000"/>
<rect x="833" y="485" width="4" height="5.69" fill="#800000"/>
<rect x="836" y="485" width="4" height="5.97" fill="#ff0000"/>
<rect x="839" y="485" width="4" height="3.97" fill="#800000"/>
<rect x="843" y="485" width="4" height="2" fill="#800000"/>
<rect x="849" y="482.74" width="4" height="1.26" fill="#00ffff"/>
<rect x="852" y="482.54" width="4" height="1.46" fill="#00ffff"/>
<rect x="856" y="482.17" width="4" height="1.83" fill="#00ffff"/>
<rect x="859" y="481.77" width="4" height="2.23" fill="#00ffff"/>
<rect x="862" y="481.39" width="4" height="2.61" fill="#00ffff"/>
<rect x="865" y="481.09" width="4" height="2.91" fill="#00ffff"/>
<rect x="869" y="480.36" width="4" height="3.64" fill="#00ffff"/>
<rect x="872" y="478.41" width="4" height="5.59" fill="#00ffff"/>
<rect x="875" y="477.81" width="4" height="6.19" fill="#00ffff"/>
<rect x="878" y="476.51" width="4" height="7.49" fill="#00ffff"/>
<rect x="881" y="473.97" width="4" height="10.03" fill="#00ffff"/>
<rect x="885" y="470.85" width="4" height="13.15" fill="#00ffff"/>
<rect x="888" y="469.8" width="4" height="14.2" fill="#00ffff"/>
<rect x="891" y="472.29" width="4" height="11.71" fill="#0000ff"/>
<rect x="894" y="474.03" width="4" height="9.97" fill="#0000ff"/>
<rect x="898" y="476.21" width="4" height="7.79" fill="#0000ff"/>
<rect x="901" y="477.85" width="4" height="6.15" fill="#0000ff"/>
<rect x="904" y="480.09" width="4" height="3.91" fill="#0000ff"/>
<rect x="907" y="482.02" width="4" height="1.98" fill="#0000ff"/>
<rect x="914" y="485" width="4" height="1.18" fill="#ff0000"/>
<rect x="917" y="485" width="4" height="2.55" fill="#ff0000"/>
<rect x="920" y="485" width="4" height="3.88" fill="#ff0000"/>
<rect x="923" y="485" width="4" height="4.88" fill="#ff0000"/>
<rect x="927" y="485" width="4" height="5.34" fill="#ff0000"/>
<rect x="930" y="485" width="4" height="5.34" fill="#ff0000"/>
<rect x="933" y="485" width="4" height="5.34" fill="#ff0000"/>
<rect x="936" y="485" width="4" height="5.85" fill="#ff0000"/>
<rect x="940" y="485" width="4" height="6.04" fill="#ff0000"/>
<rect x="943" y="485" width="4" height="3.44" fill="#800000"/>
<rect x="946" y="482.11" width="4" height="1.89" fill="#00ffff"/>
<rect x="949" y="480.37" width="4" height="3.63" fill="#00ffff"/>
<rect x="953" y="477.11" width="4" height="6.89" fill="#00ffff"/>
<rect x="956" y="474.44" width="4" height="9.56" fill="#00ffff"/>
<rect x="959" y="471.48" width="4" height="12.52" fill="#00ffff"/>
<rect x="962" y="474.48" width="4" height="9.52" fill="#0000ff"/>
<rect x="965" y="477.14" width="4" height="6.86" fill="#0000ff"/>
<rect x="969" y="485" width="4" height="1.53" fill="#ff0000"/>
<rect x="972" y="485" width="4" height="9.71" fill="#ff0000"/>
<rect x="975" y="485" width="4" height="14.58" fill="#ff0000"/>
<rect x="978" y="485" width="4" height="18.78" fill="#ff0000"/>
<rect x="982" y="485" width="4" height="21.7" fill="#ff0000"/>
<rect x="985" y="485" width="4" height="22.88" fill="#ff0000"/>
<rect x="988" y="485" width="4" height="22.26" fill="#800000"/>
<rect x="991" y="485" width="4" height="21.26" fill="#800000"/>
<rect x="995" y="485" width="4" height="17.36" fill="#800000"/>
<rect x="998" y="485" width="4" height="10.36" fill="#800000"/>
<rect x="1001" y="485" width="4" height="5.12" fill="#800000"/>
<rect x="1004" y="483.4" width="4" height="0.6" fill="#00ffff"/>
<rect x="1007" y="477.87" width="4" height="6.13" fill="#00ffff"/>
<rect x="1011" y="479.02" width="4" height="4.98" fill="#0000ff"/>
<rect x="1014" y="480.05" width="4" height="3.95" fill="#0000ff"/>
<rect x="1017" y="482.68" width="4" height="1.32" fill="#0000ff"/>
<rect x="1024" y="485" width="4" height="1.39" fill="#ff0000"/>
<rect x="1027" y="485" width="4" height="0.47" fill="#800000"/>
<rect x="1030" y="482.12" width="4" height="1.88" fill="#00ffff"/>
<rect x="1033" y="481.06" width="4" height="2.94" fill="#00ffff"/>
<rect x="1037" y="479.36" width="4" height="4.64" fill="#00ffff"/>
<rect x="1040" y="477.96" width="4" height="6.04" fill="#00ffff"/>
<rect x="1043" y="477.4" width="4" height="6.6" fill="#00ffff"/>
<rect x="1046" y="480.39" width="4" height="3.61" fill="#0000ff"/>
<rect x="1049" y="481.73" width="4" height="2.27" fill="#0000ff"/>
<rect x="1053" y="483.49" width="4" height="0.51" fill="#0000ff"/>
<rect x="1056" y="485" width="4" height="1.02" fill="#ff0000"/>
<rect x="1059" y="485" width="4" height="2.33" fill="#ff0000"/>
<rect x="1062" y="485" width="4" height="3.39" fill="#ff0000"/>
<rect x="1066" y="485" width="4" height="4.8" fill="#ff0000"/>
<rect x="1069" y="485" width="4" height="5.21" fill="#ff0000"/>
<rect x="1072" y="485" width="4" height="5.27" fill="#ff0000"/>
<rect x="1075" y="485" width="4" height="7.51" fill="#ff0000"/>
<rect x="1079" y="485" width="4" height="10.4" fill="#ff0000"/>
<rect x="1082" y="485" width="4" height="12.48" fill="#ff0000"/>
<rect x="1085" y="485" width="4" height="13.8" fill="#ff0000"/>
<rect x="1088" y="485" width="4" height="14.12" fill="#ff0000"/>
<rect x="1091" y="485" width="4" height="13.34" fill="#800000"/>
<rect x="1095" y="485" width="4" height="11.64" fill="#800000"/>
<rect x="1098" y="485" width="4" height="9.74" fill="#800000"/>
<rect x="1101" y="485" width="4" height="6.74" fill="#800000"/>
</g>
<circle cx="74.78" cy="587.28" r="3.5" fill="#00ff00" fill-opacity="0.7"/>
<circle cx="138.88" cy="511.34" r="3.5" fill="#ff0000" fill-opacity="0.7"/>
<circle cx="146.31" cy="511.34" r="3.5" fill="#00ff00" fill-opacity="0.7"/>
<circle cx="156.06" cy="510.18" r="3.5" fill="#ff0000" fill-opacity="0.7"/>
<circle cx="190.9" cy="550.13" r="3.5" fill="#00ff00" fill-opacity="0.7"/>
<circle cx="220.16" cy="529.92" r="3.5" fill="#ff0000" fill-opacity="0.7"/>
<circle cx="243.38" cy="537.35" r="3.5" fill="#00ff00" fill-opacity="0.7"/>
<circle cx="310.5" cy="444.69" r="3.5" fill="#ff0000" fill-opacity="0.7"/>
<circle cx="342.76" cy="474.65" r="3.5" fill="#00ff00" fill-opacity="0.7"/>
<circle cx="362.27" cy="473.49" r="3.5" fill="#ff0000" fill-opacity="0.7"/>
<circle cx="426.83" cy="523.42" r="3.5" fill="#00ff00" fill-opacity="0.7"/>
<circle cx="446.57" cy="521.33" r="3.5" fill="#ff0000" fill-opacity="0.7"/>
<circle cx="484.42" cy="551.99" r="3.5" fill="#00ff00" fill-opacity="0.7"/>
<circle cx="508.57" cy="543.39" r="3.5" fill="#ff0000" fill-opacity="0.7"/>
<circle cx="511.13" cy="541.53" r="3.5" fill="#00ff00" fill-opacity="0.7"/>
<circle cx="566.63" cy="481.15" r="3.5" fill="#ff0000" fill-opacity="0.7"/>
<circle cx="613.78" cy="509.72" r="3.5" fill="#00ff00" fill-opacity="0.7"/>
<circle cx="663.22" cy="479.99" r="3.5" fill="#ff0000" fill-opacity="0.7"/>
<circle cx="692.25" cy="491.14" r="3.5" fill="#00ff00" fill-opacity="0.7"/>
<circle cx="760.3" cy="422.4" r="3.5" fill="#ff0000" fill-opacity="0.7"/>
<circle cx="847.15" cy="472.56" r="3.5" fill="#00ff00" fill-opacity="0.7"/>
<circle cx="915.66" cy="442.37" r="3.5" fill="#ff0000" fill-opacity="0.7"/>
<circle cx="947.01" cy="450.5" r="3.5" fill="#00ff00" fill-opacity="0.7"/>
<circle cx="973.15" cy="441.21" r="3.5" fill="#ff0000" fill-opacity="0.7"/>
<circle cx="1004.51" cy="475.35" r="3.5" fill="#00ff00" fill-opacity="0.7"/>
<circle cx="1024.94" cy="474.19" r="3.5" fill="#ff0000" fill-opacity="0.7"/>
<circle cx="1031.21" cy="473.03" r="3.5" fill="#00ff00" fill-opacity="0.7"/>
<circle cx="1060.24" cy="464.9" r="3.5" fill="#ff0000" fill-opacity="0.7"/>
<circle cx="401.7" cy="565.5" r="25" fill="rgba(150,150,16,0.5)" stroke="#8f8f14" stroke-width="1"/>
<g fill-opacity="0.7" shape-rendering="crispEdges">
<rect x="0" y="700" width="4" height="6.17" fill="#ff0000"/>
<rect x="3" y="700" width="4" height="14.84" fill="#ff0000"/>
<rect x="6" y="700" width="4" height="22.24" fill="#ff0000"/>
<rect x="9" y="700" width="4" height="27.13" fill="#ff0000"/>
<rect x="12" y="700" width="4" height="31.85" fill="#ff0000"/>
<rect x="16" y="700" width="4" height="39.47" fill="#ff0000"/>
<rect x="19" y="700" width="4" height="43.84" fill="#ff0000"/>
<rect x="22" y="700" width="4" height="49.22" fill="#ff0000"/>
<rect x="25" y="700" width="4" height="60.55" fill="#ff0000"/>
<rect x="29" y="700" width="4" height="74.18" fill="#ff0000"/>
<rect x="32" y="700" width="4" height="82.61" fill="#ff0000"/>
<rect x="35" y="700" width="4" height="85.23" fill="#ff0000"/>
<rect x="38" y="700" width="4" height="85.88" fill="#ff0000"/>
<rect x="42" y="700" width="4" height="87.72" fill="#ff0000"/>
<rect x="45" y="700" width="4" height="91.61" fill="#ff0000"/>
<rect x="48" y="700" width="4" height="95.99" fill="#ff0000"/>
<rect x="51" y="700" width="4" height="100.11" fill="#ff0000"/>
<rect x="54" y="700" width="4" height="103.56" fill="#ff0000"/>
<rect x="58" y="700" width="4" height="102.88" fill="#800000"/>
<rect x="61" y="700" width="4" height="101.13" fill="#800000"/>
<rect x="64" y="700" width="4" height="98.5" fill="#800000"/>
<rect x="67" y="700" width="4" height="91.25" fill="#800000"/>
<rect x="71" y="700" width="4" height="79.3" fill="#800000"/>
<rect x="74" y="700" width="4" height="68.78" fill="#800000"/>
<rect x="77" y="700" width="4" height="57.59" fill="#800000"/>
<rect x="80" y="700" width="4" height="48.03" fill="#800000"/>
<rect x="84" y="700" width="4" height="38.3" fill="#800000"/>
<rect x="87" y="700" width="4" height="34.79" fill="#800000"/>
<rect x="90" y="700" width="4" height="33.89" fill="#800000"/>
<rect x="93" y="700" width="4" height="32.05" fill="#800000"/>
<rect x="96" y="700" width="4" height="25.57" fill="#800000"/>
<rect x="100" y="700" width="4" height="12.9" fill="#800000"/>
<rect x="103" y="697.73" width="4" height="2.27" fill="#00ff00"/>
<rect x="106" y="682.8" width="4" height="17.2" fill="#00ff00"/>
<rect x="109" y="674.73" width="4" height="25.27" fill="#00ff00"/>
<rect x="113" y="664.12" width="4" height="35.88" fill="#00ff00"/>
<rect x="116" y="657.59" width="4" height="42.41" fill="#00ff00"/>
<rect x="119" y="660.95" width="4" height="39.05" fill="#008000"/>
<rect x="122" y="666.74" width="4" height="33.26" fill="#008000"/>
<rect x="126" y="672.14" width="4" height="27.86" fill="#008000"/>
<rect x="129" y="679" width="4" height="21" fill="#008000"/>
<rect x="132" y="681" width="4" height="19" fill="#008000"/>
<rect x="135" y="683.62" width="4" height="16.38" fill="#008000"/>
<rect x="138" y="686.19" width="4" height="13.81" fill="#008000"/>
<rect x="142" y="688.96" width="4" height="11.04" fill="#008000"/>
<rect x="145" y="690.04" width="4" height="9.96" fill="#008000"/>
<rect x="148" y="691.04" width="4" height="8.96" fill="#008000"/>
<rect x="151" y="693.85" width="4" height="6.15" fill="#008000"/>
<rect x="155" y="700" width="4" height="12.48" fill="#ff0000"/>
<rect x="158" y="700" width="4" height="25.57" fill="#ff0000"/>
<rect x="161" y="700" width="4" height="39.74" fill="#ff0000"/>
<rect x="164" y="700" width="4" height="50.74" fill="#ff0000"/>
<rect x="168" y="700" width="4" height="63.22" fill="#ff0000"/>
<rect x="171" y="700" width="4" height="70.32" fill="#ff0000"/>
<rect x="174" y="700" width="4" height="71.78" fill="#ff0000"/>
<rect x="177" y="700" width="4" height="71.79" fill="#ff0000"/>
<rect x="180" y="700" width="4" height="68.66" fill="#800000"/>
<rect x="184" y="700" width="4" height="66.53" fill="#ff0000"/>
<rect x="187" y="700" width="4" height="66.84" fill="#ff0000"/>
<rect x="190" y="700" width="4" height="62.31" fill="#800000"/>
<rect x="193" y="700" width="4" height="59.89" fill="#800000"/>
<rect x="197" y="700" width="4" height="46.64" fill="#800000"/>
<rect x="200" y="700" width="4" height="38.25" fill="#800000"/>
<rect x="203" y="700" width="4" height="33.16" fill="#800000"/>
<rect x="206" y="700" width="4" height="27.54" fill="#800000"/>
<rect x="210" y="700" width="4" height="21.91" fill="#800000"/>
<rect x="213" y="700" width="4" height="16.14" fill="#800000"/>
<rect x="216" y="700" width="4" height="12.79" fill="#800000"/>
<rect x="219" y="700" width="4" height="11.79" fill="#800000"/>
<rect x="222" y="700" width="4" height="10.3" fill="#800000"/>
<rect x="226" y="700" width="4" height="12.47" fill="#ff0000"/>
<rect x="229" y="700" width="4" height="15.47" fill="#ff0000"/>
<rect x="232" y="700" width="4" height="17.83" fill="#ff0000"/>
<rect x="235" y="700" width="4" height="25.78" fill="#ff0000"/>
<rect x="239" y="700" width="4" height="30.69" fill="#ff0000"/>
<rect x="242" y="700" width="4" height="23.99" fill="#800000"/>
<rect x="245" y="700" width="4" height="17.97" fill="#800000"/>
<rect x="248" y="700" width="4" height="10.97" fill="#800000"/>
<rect x="252" y="699.22" width="4" height="0.78" fill="#00ff00"/>
<rect x="255" y="690.66" width="4" height="9.34" fill="#00ff00"/>
<rect x="258" y="684.29" width="4" height="15.71" fill="#00ff00"/>
<rect x="261" y="674.76" width="4" height="25.24" fill="#00ff00"/>
<rect x="264" y="665.76" width="4" height="34.24" fill="#00ff00"/>
<rect x="268" y="658.71" width="4" height="41.29" fill="#00ff00"/>
<rect x="271" y="652.94" width="4" height="47.06" fill="#00ff00"/>
<rect x="274" y="647.87" width="4" height="52.13" fill="#00ff00"/>
<rect x="277" y="639.87" width="4" height="60.13" fill="#00ff00"/>
<rect x="281" y="633.79" width="4" height="66.21" fill="#00ff00"/>
<rect x="284" y="627.68" width="4" height="72.32" fill="#00ff00"/>
<rect x="287" y="624.15" width="4" height="75.85" fill="#00ff00"/>
<rect x="290" y="622.4" width="4" height="77.6" fill="#00ff00"/>
<rect x="294" y="623.97" width="4" height="76.03" fill="#008000"/>
<rect x="297" y="628.26" width="4" height="71.74" fill="#008000"/>
<rect x="300" y="634.96" width="4" height="65.04" fill="#008000"/>
<rect x="303" y="640.97" width="4" height="59.03" fill="#008000"/>
<rect x="306" y="647.54" width="4" height="52.46" fill="#008000"/>
<rect x="310" y="662.04" width="4" height="37.96" fill="#008000"/>
<rect x="313" y="671.35" width="4" height="28.65" fill="#008000"/>
<rect x="316" y="681.78" width="4" height="18.22" fill="#008000"/>
<rect x="319" y="687.99" width="4" height="12.01" fill="#008000"/>
<rect x="323" y="700" width="4" height="0.78" fill="#ff0000"/>
<rect x="326" y="700" width="4" height="13.07" fill="#ff0000"/>
<rect x="329" y="700" width="4" height="19.51" fill="#ff0000"/>
<rect x="332" y="700" width="4" height="24.45" fill="#ff0000"/>
<rect x="336" y="700" width="4" height="28.51" fill="#ff0000"/>
<rect x="339" y="700" width="4" height="27.88" fill="#800000"/>
<rect x="342" y="700" width="4" height="26.07" fill="#800000"/>
<rect x="345" y="700" width="4" height="23.34" fill="#800000"/>
<rect x="348" y="700" width="4" height="20.38" fill="#800000"/>
<rect x="352" y="700" width="4" height="13.68" fill="#800000"/>
<rect x="355" y="700" width="4" height="9.58" fill="#800000"/>
<rect x="358" y="700" width="4" height="8.58" fill="#800000"/>
<rect x="361" y="700" width="4" height="7.93" fill="#800000"/>
<rect x="365" y="700" width="4" height="7.33" fill="#800000"/>
<rect x="368" y="700" width="4" height="6.45" fill="#800000"/>
<rect x="371" y="700" width="4" height="5.69" fill="#800000"/>
<rect x="374" y="700" width="4" height="5.54" fill="#800000"/>
<rect x="378" y="700" width="4" height="7.05" fill="#ff0000"/>
<rect x="381" y="700" width="4" height="8.8" fill="#ff0000"/>
<rect x="384" y="700" width="4" height="11.54" fill="#ff0000"/>
<rect x="387" y="700" width="4" height="18.9" fill="#ff0000"/>
<rect x="390" y="700" width="4" height="25.98" fill="#ff0000"/>
<rect x="394" y="700" width="4" height="35.63" fill="#ff0000"/>
<rect x="397" y="700" width="4" height="40.63" fill="#ff0000"/>
<rect x="400" y="700" width="4" height="45.13" fill="#ff0000"/>
<rect x="403" y="700" width="4" height="47.2" fill="#ff0000"/>
<rect x="407" y="700" width="4" height="47.45" fill="#ff0000"/>
<rect x="410" y="700" width="4" height="46.43" fill="#800000"/>
<rect x="413" y="700" width="4" height="47.06" fill="#ff0000"/>
<rect x="416" y="700" width="4" height="46.46" fill="#800000"/>
<rect x="420" y="700" width="4" height="43.48" fill="#800000"/>
<rect x="423" y="700" width="4" height="42.48" fill="#800000"/>
<rect x="426" y="700" width="4" height="38.28" fill="#800000"/>
<rect x="429" y="700" width="4" height="35.06" fill="#800000"/>
<rect x="432" y="700" width="4" height="32.13" fill="#800000"/>
<rect x="436" y="700" width="4" height="27.18" fill="#800000"/>
<rect x="439" y="700" width="4" height="25.19" fill="#800000"/>
<rect x="442" y="700" width="4" height="24.64" fill="#ff0000"/>
<rect x="445" y="700" width="4" height="24.64" fill="#ff0000"/>
<rect x="449" y="700" width="4" height="24.19" fill="#ff0000"/>
<rect x="452" y="700" width="4" height="26.59" fill="#ff0000"/>
<rect x="455" y="700" width="4" height="28.34" fill="#ff0000"/>
<rect x="458" y="700" width="4" height="34.71" fill="#ff0000"/>
<rect x="462" y="700" width="4" height="35.99" fill="#ff0000"/>
<rect x="465" y="700" width="4" height="39.21" fill="#ff0000"/>
<rect x="468" y="700" width="4" height="44.21" fill="#ff0000"/>
<rect x="471" y="700" width="4" height="47.04" fill="#ff0000"/>
<rect x="474" y="700" width="4" height="48.39" fill="#ff0000"/>
<rect x="478" y="700" width="4" height="49.3" fill="#ff0000"/>
<rect x="481" y="700" width="4" height="50.23" fill="#ff0000"/>
<rect x="484" y="700" width="4" height="47.92" fill="#800000"/>
<rect x="487" y="700" width="4" height="42.92" fill="#800000"/>
<rect x="491" y="700" width="4" height="38.85" fill="#800000"/>
<rect x="494" y="700" width="4" height="36.32" fill="#800000"/>
<rect x="497" y="700" width="4" height="33.33" fill="#800000"/>
<rect x="500" y="700" width="4" height="31.81" fill="#800000"/>
<rect x="504" y="700" width="4" height="30.93" fill="#800000"/>
<rect x="507" y="700" width="4" height="30.85" fill="#800000"/>
<rect x="510" y="700" width="4" height="26.25" fill="#800000"/>
<rect x="513" y="700" width="4" height="20.71" fill="#800000"/>
<rect x="516" y="700" width="4" height="14.57" fill="#800000"/>
<rect x="520" y="700" width="4" height="5.39" fill="#800000"/>
<rect x="523" y="697.85" width="4" height="2.15" fill="#00ff00"/>
<rect x="526" y="692.03" width="4" height="7.97" fill="#00ff00"/>
<rect x="529" y="688.24" width="4" height="11.76" fill="#00ff00"/>
<rect x="533" y="683.85" width="4" height="16.15" fill="#00ff00"/>
<rect x="536" y="679.45" width="4" height="20.55" fill="#00ff00"/>
<rect x="539" y="673.78" width="4" height="26.22" fill="#00ff00"/>
<rect x="542" y="669.46" width="4" height="30.54" fill="#00ff00"/>
<rect x="546" y="664.93" width="4" height="35.07" fill="#00ff00"/>
<rect x="549" y="660.59" width="4" height="39.41" fill="#00ff00"/>
<rect x="552" y="657.1" width="4" height="42.9" fill="#00ff00"/>
<rect x="555" y="655.9" width="4" height="44.1" fill="#00ff00"/>
<rect x="558" y="655.33" width="4" height="44.67" fill="#00ff00"/>
<rect x="562" y="661.24" width="4" height="38.76" fill="#008000"/>
<rect x="565" y="669.26" width="4" height="30.74" fill="#008000"/>
<rect x="568" y="677.86" width="4" height="22.14" fill="#008000"/>
<rect x="571" y="687.91" width="4" height="12.09" fill="#008000"/>
<rect x="575" y="700" width="4" height="2.21" fill="#ff0000"/>
<rect x="578" y="700" width="4" height="10.66" fill="#ff0000"/>
<rect x="581" y="700" width="4" height="16.58" fill="#ff0000"/>
<rect x="584" y="700" width="4" height="22.21" fill="#ff0000"/>
<rect x="587" y="700" width="4" height="27.23" fill="#ff0000"/>
<rect x="591" y="700" width="4" height="32.74" fill="#ff0000"/>
<rect x="594" y="700" width="4" height="36.74" fill="#ff0000"/>
<rect x="597" y="700" width="4" height="40.61" fill="#ff0000"/>
<rect x="600" y="700" width="4" height="43.98" fill="#ff0000"/>
<rect x="604" y="700" width="4" height="44.94" fill="#ff0000"/>
<rect x="607" y="700" width="4" height="44.94" fill="#ff0000"/>
<rect x="610" y="700" width="4" height="44.08" fill="#800000"/>
<rect x="613" y="700" width="4" height="39.13" fill="#800000"/>
<rect x="617" y="700" width="4" height="29.96" fill="#800000"/>
<rect x="620" y="700" width="4" height="23.96" fill="#800000"/>
<rect x="623" y="700" width="4" height="15.68" fill="#800000"/>
<rect x="626" y="700" width="4" height="6.51" fill="#800000"/>
<rect x="633" y="693" width="4" height="7" fill="#00ff00"/>
<rect x="636" y="688.82" width="4" height="11.18" fill="#00ff00"/>
<rect x="639" y="684.42" width="4" height="15.58" fill="#00ff00"/>
<rect x="642" y="680.82" width="4" height="19.18" fill="#00ff00"/>
<rect x="646" y="677.55" width="4" height="22.45" fill="#00ff00"/>
<rect x="649" y="674.95" width="4" height="25.05" fill="#00ff00"/>
<rect x="652" y="672" width="4" height="28" fill="#00ff00"/>
<rect x="655" y="669.63" width="4" height="30.37" fill="#00ff00"/>
<rect x="659" y="672.9" width="4" height="27.1" fill="#008000"/>
<rect x="662" y="679.1" width="4" height="20.9" fill="#008000"/>
<rect x="665" y="685.81" width="4" height="14.19" fill="#008000"/>
<rect x="668" y="690.47" width="4" height="9.53" fill="#008000"/>
<rect x="671" y="696.14" width="4" height="3.86" fill="#008000"/>
<rect x="675" y="700" width="4" height="3.88" fill="#ff0000"/>
<rect x="678" y="700" width="4" height="6.88" fill="#ff0000"/>
<rect x="681" y="700" width="4" height="9.88" fill="#ff0000"/>
<rect x="684" y="700" width="4" height="12.21" fill="#ff0000"/>
<rect x="688" y="700" width="4" height="14.08" fill="#ff0000"/>
<rect x="691" y="700" width="4" height="14.73" fill="#ff0000"/>
<rect x="694" y="700" width="4" height="14.83" fill="#ff0000"/>
<rect x="697" y="700" width="4" height="14.32" fill="#800000"/>
<rect x="701" y="700" width="4" height="12.6" fill="#800000"/>
<rect x="704" y="700" width="4" height="10.18" fill="#800000"/>
<rect x="707" y="700" width="4" height="7.39" fill="#800000"/>
<rect x="710" y="700" width="4" height="4.66" fill="#800000"/>
<rect x="713" y="700" width="4" height="2.06" fill="#800000"/>
<rect x="717" y="687.17" width="4" height="12.83" fill="#00ff00"/>
<rect x="720" y="679.16" width="4" height="20.84" fill="#00ff00"/>
<rect x="723" y="671.16" width="4" height="28.84" fill="#00ff00"/>
<rect x="726" y="663.68" width="4" height="36.32" fill="#00ff00"/>
<rect x="730" y="655.14" width="4" height="44.86" fill="#00ff00"/>
<rect x="733" y="648.23" width="4" height="51.77" fill="#00ff00"/>
<rect x="736" y="642.23" width="4" height="57.77" fill="#00ff00"/>
<rect x="739" y="636.23" width="4" height="63.77" fill="#00ff00"/>
<rect x="743" y="632.37" width="4" height="67.63" fill="#00ff00"/>
<rect x="746" y="632.83" width="4" height="67.17" fill="#008000"/>
<rect x="749" y="631.92" width="4" height="68.08" fill="#00ff00"/>
<rect x="752" y="631.16" width="4" height="68.84" fill="#00ff00"/>
<rect x="755" y="633.7" width="4" height="66.3" fill="#008000"/>
<rect x="759" y="638.58" width="4" height="61.42" fill="#008000"/>
<rect x="762" y="641.8" width="4" height="58.2" fill="#008000"/>
<rect x="765" y="646.32" width="4" height="53.68" fill="#008000"/>
<rect x="768" y="650.04" width="4" height="49.96" fill="#008000"/>
<rect x="772" y="655.24" width="4" height="44.76" fill="#008000"/>
<rect x="775" y="658.25" width="4" height="41.75" fill="#008000"/>
<rect x="778" y="662.98" width="4" height="37.02" fill="#008000"/>
<rect x="781" y="667.43" width="4" height="32.57" fill="#008000"/>
<rect x="785" y="671.45" width="4" height="28.55" fill="#008000"/>
<rect x="788" y="677.52" width="4" height="22.48" fill="#008000"/>
<rect x="791" y="683.17" width="4" height="16.83" fill="#008000"/>
<rect x="794" y="688.95" width="4" height="11.05" fill="#008000"/>
<rect x="797" y="695.67" width="4" height="4.33" fill="#008000"/>
<rect x="801" y="700" width="4" height="3.45" fill="#ff0000"/>
<rect x="804" y="700" width="4" height="6.23" fill="#ff0000"/>
<rect x="807" y="700" width="4" height="8.85" fill="#ff0000"/>
<rect x="810" y="700" width="4" height="10.85" fill="#ff0000"/>
<rect x="814" y="700" width="4" height="12.63" fill="#ff0000"/>
<rect x="817" y="700" width="4" height="13.23" fill="#ff0000"/>
<rect x="820" y="700" width="4" height="17.81" fill="#ff0000"/>
<rect x="823" y="700" width="4" height="21.37" fill="#ff0000"/>
<rect x="827" y="700" width="4" height="23.67" fill="#ff0000"/>
<rect x="830" y="700" width="4" height="22.97" fill="#800000"/>
<rect x="833" y="700" width="4" height="21.98" fill="#800000"/>
<rect x="836" y="700" width="4" height="20.79" fill="#800000"/>
<rect x="839" y="700" width="4" height="17.56" fill="#800000"/>
<rect x="843" y="700" width="4" height="10.34" fill="#800000"/>
<rect x="846" y="700" width="4" height="5.79" fill="#800000"/>
<rect x="849" y="700" width="4" height="2.03" fill="#800000"/>
<rect x="852" y="698.19" width="4" height="1.81" fill="#00ff00"/>
<rect x="856" y="693.59" width="4" height="6.41" fill="#00ff00"/>
<rect x="859" y="690.9" width="4" height="9.1" fill="#00ff00"/>
<rect x="862" y="687.91" width="4" height="12.09" fill="#00ff00"/>
<rect x="865" y="686.31" width="4" height="13.69" fill="#00ff00"/>
<rect x="869" y="683.27" width="4" height="16.73" fill="#00ff00"/>
<rect x="872" y="680.32" width="4" height="19.68" fill="#00ff00"/>
<rect x="875" y="677.32" width="4" height="22.68" fill="#00ff00"/>
<rect x="878" y="674.32" width="4" height="25.68" fill="#00ff00"/>
<rect x="881" y="670.72" width="4" height="29.28" fill="#00ff00"/>
<rect x="885" y="664.41" width="4" height="35.59" fill="#00ff00"/>
<rect x="888" y="660.7" width="4" height="39.3" fill="#00ff00"/>
<rect x="891" y="660.86" width="4" height="39.14" fill="#008000"/>
<rect x="894" y="660.74" width="4" height="39.26" fill="#00ff00"/>
<rect x="898" y="660.33" width="4" height="39.67" fill="#00ff00"/>
<rect x="901" y="661.1" width="4" height="38.9" fill="#008000"/>
<rect x="904" y="663.1" width="4" height="36.9" fill="#008000"/>
<rect x="907" y="664.01" width="4" height="35.99" fill="#008000"/>
<rect x="911" y="665.28" width="4" height="34.72" fill="#008000"/>
<rect x="914" y="665.95" width="4" height="34.05" fill="#008000"/>
<rect x="917" y="667.79" width="4" height="32.21" fill="#008000"/>
<rect x="920" y="670.56" width="4" height="29.44" fill="#008000"/>
<rect x="923" y="673.56" width="4" height="26.44" fill="#008000"/>
<rect x="927" y="677.36" width="4" height="22.64" fill="#008000"/>
<rect x="930" y="679.71" width="4" height="20.29" fill="#008000"/>
<rect x="933" y="681.71" width="4" height="18.29" fill="#008000"/>
<rect x="936" y="684.62" width="4" height="15.38" fill="#008000"/>
<rect x="940" y="689.66" width="4" height="10.34" fill="#008000"/>
<rect x="943" y="691.38" width="4" height="8.62" fill="#008000"/>
<rect x="946" y="688.55" width="4" height="11.45" fill="#00ff00"/>
<rect x="949" y="685.96" width="4" height="14.04" fill="#00ff00"/>
<rect x="953" y="682.57" width="4" height="17.43" fill="#00ff00"/>
<rect x="956" y="679.67" width="4" height="20.33" fill="#00ff00"/>
<rect x="959" y="676.36" width="4" height="23.64" fill="#00ff00"/>
<rect x="962" y="675.36" width="4" height="24.64" fill="#00ff00"/>
<rect x="965" y="674.44" width="4" height="25.56" fill="#00ff00"/>
<rect x="969" y="680.13" width="4" height="19.87" fill="#008000"/>
<rect x="972" y="684.73" width="4" height="15.27" fill="#008000"/>
<rect x="975" y="690.08" width="4" height="9.92" fill="#008000"/>
<rect x="978" y="696.35" width="4" height="3.65" fill="#008000"/>
<rect x="982" y="700" width="4" height="5.17" fill="#ff0000"/>
<rect x="985" y="700" width="4" height="12.09" fill="#ff0000"/>
<rect x="988" y="700" width="4" height="18.3" fill="#ff0000"/>
<rect x="991" y="700" width="4" height="23.3" fill="#ff0000"/>
<rect x="995" y="700" width="4" height="27.64" fill="#ff0000"/>
<rect x="998" y="700" width="4" height="26.59" fill="#800000"/>
<rect x="1001" y="700" width="4" height="25.89" fill="#800000"/>
<rect x="1004" y="700" width="4" height="24.33" fill="#800000"/>
<rect x="1007" y="700" width="4" height="21.29" fill="#800000"/>
<rect x="1011" y="700" width="4" height="18.07" fill="#800000"/>
<rect x="1014" y="700" width="4" height="17.07" fill="#800000"/>
<rect x="1017" y="700" width="4" height="16.91" fill="#800000"/>
<rect x="1020" y="700" width="4" height="13.88" fill="#800000"/>
<rect x="1024" y="700" width="4" height="7.47" fill="#800000"/>
<rect x="1027" y="698.65" width="4" height="1.35" fill="#00ff00"/>
<rect x="1030" y="690.68" width="4" height="9.32" fill="#00ff00"/>
<rect x="1033" y="685.09" width="4" height="14.91" fill="#00ff00"/>
<rect x="1037" y="680.57" width="4" height="19.43" fill="#00ff00"/>
<rect x="1040" y="675.73" width="4" height="24.27" fill="#00ff00"/>
<rect x="1043" y="673.73" width="4" height="26.27" fill="#00ff00"/>
<rect x="1046" y="674.48" width="4" height="25.52" fill="#008000"/>
<rect x="1049" y="675.24" width="4" height="24.76" fill="#008000"/>
<rect x="1053" y="676.29" width="4" height="23.71" fill="#008000"/>
<rect x="1056" y="677.86" width="4" height="22.14" fill="#008000"/>
<rect x="1059" y="680.85" width="4" height="19.15" fill="#008000"/>
<rect x="1062" y="683.11" width="4" height="16.89" fill="#008000"/>
<rect x="1066" y="684.85" width="4" height="15.15" fill="#008000"/>
<rect x="1069" y="685.71" width="4" height="14.29" fill="#008000"/>
<rect x="1072" y="686.38" width="4" height="13.62" fill="#008000"/>
<rect x="1075" y="687.43" width="4" height="12.57" fill="#008000"/>
<rect x="1079" y="693.89" width="4" height="6.11" fill="#008000"/>
<rect x="1082" y="700" width="4" height="4.38" fill="#ff0000"/>
<rect x="1085" y="700" width="4" height="10.59" fill="#ff0000"/>
<rect x="1088" y="700" width="4" height="16.59" fill="#ff0000"/>
<rect x="1091" y="700" width="4" height="20.19" fill="#ff0000"/>
<rect x="1095" y="700" width="4" height="22.01" fill="#ff0000"/>
<rect x="1098" y="700" width="4" height="22.89" fill="#ff0000"/>
<rect x="1101" y="700" width="4" height="21.89" fill="#800000"/>
</g>
<path d="M6 698h3v2h-3zM7 696h1v2h-1zM7 700h1v2.3h-1zM9 698h3v2h-3zM10 696h1v2h-1zM10 700h1v2.3h-1zM12 698h4v2h-4zM13 696h1v2h-1zM13 700h1v2.3h-1zM16 698h3v2h-3zM17 696h1v2h-1zM17 700h1v2.3h-1zM19 698h3v2h-3zM20 696h1v2h-1zM20 700h1v2.3h-1zM22 698h3v2h-3zM23 696h1v2h-1zM23 700h1v2.3h-1zM25 698h4v2h-4zM26 696h1v2h-1zM26 700h1v2.3h-1zM29 698h3v2h-3zM30 696h1v2h-1zM30 700h1v2.3h-1zM32 698h3v2h-3zM33 696h1v2h-1zM33 700h1v2.3h-1zM35 698h3v2h-3zM36 696h1v2h-1zM36 700h1v2.3h-1zM38 698h4v2h-4zM39 696h1v2h-1zM39 700h1v2.3h-1zM42 698h3v2h-3zM43 696h1v2h-1zM43 700h1v2.3h-1zM45 698h3v2h-3zM46 696h1v2h-1zM46 700h1v2.3h-1zM48 698h3v2h-3zM49 696h1v2h-1zM49 700h1v2.3h-1zM51 698h3v2h-3zM52 696h1v2h-1zM52 700h1v2.3h-1zM54 698h4v2h-4zM55 696h1v2h-1zM55 700h1v2.3h-1zM58 698h3v2h-3zM59 696h1v2h-1zM59 700h1v2.3h-1zM61 698h3v2h-3zM62 696h1v2h-1zM62 700h1v2.3h-1zM64 698h3v2h-3zM65 696h1v2h-1zM65 700h1v2.3h-1zM67 698h4v2h-4zM68 696h1v2h-1zM68 700h1v2.3h-1zM71 698h3v2h-3zM72 696h1v2h-1zM72 700h1v2.3h-1zM74 698h3v2h-3zM75 696h1v2h-1zM75 700h1v2.3h-1zM77 698h3v2h-3zM78 696h1v2h-1zM78 700h1v2.3h-1zM80 698h4v2h-4zM81 696h1v2h-1zM81 700h1v2.3h-1zM168 698h3v2h-3zM169 696h1v2h-1zM169 700h1v2.3h-1zM171 698h3v2h-3zM172 696h1v2h-1zM172 700h1v2.3h-1zM174 698h3v2h-3zM175 696h1v2h-1zM175 700h1v2.3h-1zM177 698h3v2h-3zM178 696h1v2h-1zM178 700h1v2.3h-1zM180 698h4v2h-4zM181 696h1v2h-1zM181 700h1v2.3h-1zM184 698h3v2h-3zM185 696h1v2h-1zM185 700h1v2.3h-1zM187 698h3v2h-3zM188 696h1v2h-1zM188 700h1v2.3h-1zM190 698h3v2h-3zM191 696h1v2h-1zM191 700h1v2.3h-1zM193 698h4v2h-4zM194 696h1v2h-1zM194 700h1v2.3h-1zM197 698h3v2h-3zM198 696h1v2h-1zM198 700h1v2.3h-1zM200 698h3v2h-3zM201 696h1v2h-1zM201 700h1v2.3h-1zM203 698h3v2h-3zM204 696h1v2h-1zM204 700h1v2.3h-1zM206 698h4v2h-4zM207 696h1v2h-1zM207 700h1v2.3h-1zM210 698h3v2h-3zM211 696h1v2h-1zM211 700h1v2.3h-1zM239 698h3v2h-3zM240 696h1v2h-1zM240 700h1v2.3h-1zM252 698h3v2h-3zM253 696h1v2h-1zM253 700h1v2.3h-1zM255 698h3v2h-3zM256 696h1v2h-1zM256 700h1v2.3h-1zM258 698h3v2h-3zM259 696h1v2h-1zM259 700h1v2.3h-1zM261 698h3v2h-3zM262 696h1v2h-1zM262 700h1v2.3h-1zM264 698h4v2h-4zM265 696h1v2h-1zM265 700h1v2.3h-1zM268 698h3v2h-3zM269 696h1v2h-1zM269 700h1v2.3h-1zM271 698h3v2h-3zM272 696h1v2h-1zM272 700h1v2.3h-1zM274 698h3v2h-3zM275 696h1v2h-1zM275 700h1v2.3h-1zM277 698h4v2h-4zM278 696h1v2h-1zM278 700h1v2.3h-1zM281 698h3v2h-3zM282 696h1v2h-1zM282 700h1v2.3h-1zM284 698h3v2h-3zM285 696h1v2h-1zM285 700h1v2.3h-1zM287 698h3v2h-3zM288 696h1v2h-1zM288 700h1v2.3h-1zM290 698h4v2h-4zM291 696h1v2h-1zM291 700h1v2.3h-1zM294 698h3v2h-3zM295 696h1v2h-1zM295 700h1v2.3h-1zM297 698h3v2h-3zM298 696h1v2h-1zM298 700h1v2.3h-1zM300 698h3v2h-3zM301 696h1v2h-1zM301 700h1v2.3h-1zM390 698h4v2h-4zM391 696h1v2h-1zM391 700h1v2.3h-1zM394 698h3v2h-3zM395 696h1v2h-1zM395 700h1v2.3h-1zM397 698h3v2h-3zM398 696h1v2h-1zM398 700h1v2.3h-1zM400 698h3v2h-3zM401 696h1v2h-1zM401 700h1v2.3h-1zM403 698h4v2h-4zM404 696h1v2h-1zM404 700h1v2.3h-1zM407 698h3v2h-3zM408 696h1v2h-1zM408 700h1v2.3h-1zM410 698h3v2h-3zM411 696h1v2h-1zM411 700h1v2.3h-1zM413 698h3v2h-3zM414 696h1v2h-1zM414 700h1v2.3h-1zM416 698h4v2h-4zM417 696h1v2h-1zM417 700h1v2.3h-1zM420 698h3v2h-3zM421 696h1v2h-1zM421 700h1v2.3h-1zM423 698h3v2h-3zM424 696h1v2h-1zM424 700h1v2.3h-1zM426 698h3v2h-3zM427 696h1v2h-1zM427 700h1v2.3h-1zM458 698h4v2h-4zM459 696h1v2h-1zM459 700h1v2.3h-1zM462 698h3v2h-3zM463 696h1v2h-1zM463 700h1v2.3h-1zM465 698h3v2h-3zM466 696h1v2h-1zM466 700h1v2.3h-1zM468 698h3v2h-3zM469 696h1v2h-1zM469 700h1v2.3h-1zM471 698h3v2h-3zM472 696h1v2h-1zM472 700h1v2.3h-1zM474 698h4v2h-4zM475 696h1v2h-1zM475 700h1v2.3h-1zM478 698h3v2h-3zM479 696h1v2h-1zM479 700h1v2.3h-1zM481 698h3v2h-3zM482 696h1v2h-1zM482 700h1v2.3h-1zM484 698h3v2h-3zM485 696h1v2h-1zM485 700h1v2.3h-1zM487 698h4v2h-4zM488 696h1v2h-1zM488 700h1v2.3h-1zM491 698h3v2h-3zM492 696h1v2h-1zM492 700h1v2.3h-1zM494 698h3v2h-3zM495 696h1v2h-1zM495 700h1v2.3h-1zM497 698h3v2h-3zM498 696h1v2h-1zM498 700h1v2.3h-1zM546 698h3v2h-3zM547 696h1v2h-1zM547 700h1v2.3h-1zM549 698h3v2h-3zM550 696h1v2h-1zM550 700h1v2.3h-1zM552 698h3v2h-3zM553 696h1v2h-1zM553 700h1v2.3h-1zM555 698h3v2h-3zM556 696h1v2h-1zM556 700h1v2.3h-1zM558 698h4v2h-4zM559 696h1v2h-1zM559 700h1v2.3h-1zM562 698h3v2h-3zM563 696h1v2h-1zM563 700h1v2.3h-1zM565 698h3v2h-3zM566 696h1v2h-1zM566 700h1v2.3h-1zM568 698h3v2h-3zM569 696h1v2h-1zM569 700h1v2.3h-1zM575 698h3v2h-3zM576 696h1v2h-1zM576 700h1v2.3h-1zM578 698h3v2h-3zM579 696h1v2h-1zM579 700h1v2.3h-1zM581 698h3v2h-3zM582 696h1v2h-1zM582 700h1v2.3h-1zM584 698h3v2h-3zM585 696h1v2h-1zM585 700h1v2.3h-1zM587 698h4v2h-4zM588 696h1v2h-1zM588 700h1v2.3h-1zM591 698h3v2h-3zM592 696h1v2h-1zM592 700h1v2.3h-1zM594 698h3v2h-3zM595 696h1v2h-1zM595 700h1v2.3h-1zM597 698h3v2h-3zM598 696h1v2h-1zM598 700h1v2.3h-1zM600 698h4v2h-4zM601 696h1v2h-1zM601 700h1v2.3h-1zM604 698h3v2h-3zM605 696h1v2h-1zM605 700h1v2.3h-1zM607 698h3v2h-3zM608 696h1v2h-1zM608 700h1v2.3h-1zM610 698h3v2h-3zM611 696h1v2h-1zM611 700h1v2.3h-1zM613 698h4v2h-4zM614 696h1v2h-1zM614 700h1v2.3h-1zM649 698h3v2h-3zM650 696h1v2h-1zM650 700h1v2.3h-1zM652 698h3v2h-3zM653 696h1v2h-1zM653 700h1v2.3h-1zM655 698h4v2h-4zM656 696h1v2h-1zM656 700h1v2.3h-1zM659 698h3v2h-3zM660 696h1v2h-1zM660 700h1v2.3h-1zM662 698h3v2h-3zM663 696h1v2h-1zM663 700h1v2.3h-1zM665 698h3v2h-3zM666 696h1v2h-1zM666 700h1v2.3h-1zM668 698h3v2h-3zM669 696h1v2h-1zM669 700h1v2.3h-1zM688 698h3v2h-3zM689 696h1v2h-1zM689 700h1v2.3h-1zM691 698h3v2h-3zM692 696h1v2h-1zM692 700h1v2.3h-1zM694 698h3v2h-3zM695 696h1v2h-1zM695 700h1v2.3h-1zM697 698h4v2h-4zM698 696h1v2h-1zM698 700h1v2.3h-1zM701 698h3v2h-3zM702 696h1v2h-1zM702 700h1v2.3h-1zM717 698h3v2h-3zM718 696h1v2h-1zM718 700h1v2.3h-1zM720 698h3v2h-3zM721 696h1v2h-1zM721 700h1v2.3h-1zM723 698h3v2h-3zM724 696h1v2h-1zM724 700h1v2.3h-1zM726 698h4v2h-4zM727 696h1v2h-1zM727 700h1v2.3h-1zM730 698h3v2h-3zM731 696h1v2h-1zM731 700h1v2.3h-1zM733 698h3v2h-3zM734 696h1v2h-1zM734 700h1v2.3h-1zM736 698h3v2h-3zM737 696h1v2h-1zM737 700h1v2.3h-1zM739 698h4v2h-4zM740 696h1v2h-1zM740 700h1v2.3h-1zM743 698h3v2h-3zM744 696h1v2h-1zM744 700h1v2.3h-1zM746 698h3v2h-3zM747 696h1v2h-1zM747 700h1v2.3h-1zM749 698h3v2h-3zM750 696h1v2h-1zM750 700h1v2.3h-1zM752 698h3v2h-3zM753 696h1v2h-1zM753 700h1v2.3h-1zM755 698h4v2h-4zM756 696h1v2h-1zM756 700h1v2.3h-1zM759 698h3v2h-3zM760 696h1v2h-1zM760 700h1v2.3h-1zM762 698h3v2h-3zM763 696h1v2h-1zM763 700h1v2.3h-1zM765 698h3v2h-3zM766 696h1v2h-1zM766 700h1v2.3h-1zM768 698h4v2h-4zM769 696h1v2h-1zM769 700h1v2.3h-1zM772 698h3v2h-3zM773 696h1v2h-1zM773 700h1v2.3h-1zM775 698h3v2h-3zM776 696h1v2h-1zM776 700h1v2.3h-1zM875 698h3v2h-3zM876 696h1v2h-1zM876 700h1v2.3h-1zM878 698h3v2h-3zM879 696h1v2h-1zM879 700h1v2.3h-1zM881 698h4v2h-4zM882 696h1v2h-1zM882 700h1v2.3h-1zM885 698h3v2h-3zM886 696h1v2h-1zM886 700h1v2.3h-1zM888 698h3v2h-3zM889 696h1v2h-1zM889 700h1v2.3h-1zM891 698h3v2h-3zM892 696h1v2h-1zM892 700h1v2.3h-1zM894 698h4v2h-4zM895 696h1v2h-1zM895 700h1v2.3h-1zM898 698h3v2h-3zM899 696h1v2h-1zM899 700h1v2.3h-1zM901 698h3v2h-3zM902 696h1v2h-1zM902 700h1v2.3h-1zM904 698h3v2h-3zM905 696h1v2h-1zM905 700h1v2.3h-1zM907 698h4v2h-4zM908 696h1v2h-1zM908 700h1v2.3h-1zM911 698h3v2h-3zM912 696h1v2h-1zM912 700h1v2.3h-1zM914 698h3v2h-3zM915 696h1v2h-1zM915 700h1v2.3h-1zM917 698h3v2h-3zM918 696h1v2h-1zM918 700h1v2.3h-1zM920 698h3v2h-3zM921 696h1v2h-1zM921 700h1v2.3h-1zM923 698h4v2h-4zM924 696h1v2h-1zM924 700h1v2.3h-1zM927 698h3v2h-3zM928 696h1v2h-1zM928 700h1v2.3h-1zM953 698h3v2h-3zM954 696h1v2h-1zM954 700h1v2.3h-1zM956 698h3v2h-3zM957 696h1v2h-1zM957 700h1v2.3h-1zM959 698h3v2h-3zM960 696h1v2h-1zM960 700h1v2.3h-1zM962 698h3v2h-3zM963 696h1v2h-1zM963 700h1v2.3h-1zM965 698h4v2h-4zM966 696h1v2h-1zM966 700h1v2.3h-1zM969 698h3v2h-3zM970 696h1v2h-1zM970 700h1v2.3h-1zM972 698h3v2h-3zM973 696h1v2h-1zM973 700h1v2.3h-1zM975 698h3v2h-3zM976 696h1v2h-1zM976 700h1v2.3h-1zM978 698h4v2h-4zM979 696h1v2h-1zM979 700h1v2.3h-1zM982 698h3v2h-3zM983 696h1v2h-1zM983 700h1v2.3h-1zM985 698h3v2h-3zM986 696h1v2h-1zM986 700h1v2.3h-1zM988 698h3v2h-3zM989 696h1v2h-1zM989 700h1v2.3h-1zM991 698h4v2h-4zM992 696h1v2h-1zM992 700h1v2.3h-1zM995 698h3v2h-3zM996 696h1v2h-1zM996 700h1v2.3h-1zM1095 698h3v2h-3zM1096 696h1v2h-1zM1096 700h1v2.3h-1zM1098 698h3v2h-3zM1099 696h1v2h-1zM1099 700h1v2.3h-1zM1101 698h3v2h-3zM1102 696h1v2h-1zM1102 700h1v2.3h-1z" fill="#808080" fill-opacity="0.7" shape-rendering="crispEdges"/>
<path d="M0 698h3v2h-3zM1 696h1v2h-1zM1 700h1v2.3h-1zM3 698h3v2h-3zM4 696h1v2h-1zM4 700h1v2.3h-1zM84 698h3v2h-3zM85 696h1v2h-1zM85 700h1v2.3h-1zM87 698h3v2h-3zM88 696h1v2h-1zM88 700h1v2.3h-1zM90 698h3v2h-3zM91 696h1v2h-1zM91 700h1v2.3h-1zM93 698h3v2h-3zM94 696h1v2h-1zM94 700h1v2.3h-1zM96 698h4v2h-4zM97 696h1v2h-1zM97 700h1v2.3h-1zM100 698h3v2h-3zM101 696h1v2h-1zM101 700h1v2.3h-1zM103 698h3v2h-3zM104 696h1v2h-1zM104 700h1v2.3h-1zM106 698h3v2h-3zM107 696h1v2h-1zM107 700h1v2.3h-1zM109 698h4v2h-4zM110 696h1v2h-1zM110 700h1v2.3h-1zM113 698h3v2h-3zM114 696h1v2h-1zM114 700h1v2.3h-1zM116 698h3v2h-3zM117 696h1v2h-1zM117 700h1v2.3h-1zM119 698h3v2h-3zM120 696h1v2h-1zM120 700h1v2.3h-1zM122 698h4v2h-4zM123 696h1v2h-1zM123 700h1v2.3h-1zM126 698h3v2h-3zM127 696h1v2h-1zM127 700h1v2.3h-1zM129 698h3v2h-3zM130 696h1v2h-1zM130 700h1v2.3h-1zM132 698h3v2h-3zM133 696h1v2h-1zM133 700h1v2.3h-1zM135 698h3v2h-3zM136 696h1v2h-1zM136 700h1v2.3h-1zM138 698h4v2h-4zM139 696h1v2h-1zM139 700h1v2.3h-1zM142 698h3v2h-3zM143 696h1v2h-1zM143 700h1v2.3h-1zM145 698h3v2h-3zM146 696h1v2h-1zM146 700h1v2.3h-1zM148 698h3v2h-3zM149 696h1v2h-1zM149 700h1v2.3h-1zM151 698h4v2h-4zM152 696h1v2h-1zM152 700h1v2.3h-1zM155 698h3v2h-3zM156 696h1v2h-1zM156 700h1v2.3h-1zM158 698h3v2h-3zM159 696h1v2h-1zM159 700h1v2.3h-1zM161 698h3v2h-3zM162 696h1v2h-1zM162 700h1v2.3h-1zM164 698h4v2h-4zM165 696h1v2h-1zM165 700h1v2.3h-1zM213 698h3v2h-3zM214 696h1v2h-1zM214 700h1v2.3h-1zM216 698h3v2h-3zM217 696h1v2h-1zM217 700h1v2.3h-1zM219 698h3v2h-3zM220 696h1v2h-1zM220 700h1v2.3h-1zM222 698h4v2h-4zM223 696h1v2h-1zM223 700h1v2.3h-1zM226 698h3v2h-3zM227 696h1v2h-1zM227 700h1v2.3h-1zM229 698h3v2h-3zM230 696h1v2h-1zM230 700h1v2.3h-1zM232 698h3v2h-3zM233 696h1v2h-1zM233 700h1v2.3h-1zM235 698h4v2h-4zM236 696h1v2h-1zM236 700h1v2.3h-1zM242 698h3v2h-3zM243 696h1v2h-1zM243 700h1v2.3h-1zM245 698h3v2h-3zM246 696h1v2h-1zM246 700h1v2.3h-1zM248 698h4v2h-4zM249 696h1v2h-1zM249 700h1v2.3h-1zM303 698h3v2h-3zM304 696h1v2h-1zM304 700h1v2.3h-1zM306 698h4v2h-4zM307 696h1v2h-1zM307 700h1v2.3h-1zM310 698h3v2h-3zM311 696h1v2h-1zM311 700h1v2.3h-1zM313 698h3v2h-3zM314 696h1v2h-1zM314 700h1v2.3h-1zM316 698h3v2h-3zM317 696h1v2h-1zM317 700h1v2.3h-1zM319 698h4v2h-4zM320 696h1v2h-1zM320 700h1v2.3h-1zM323 698h3v2h-3zM324 696h1v2h-1zM324 700h1v2.3h-1zM326 698h3v2h-3zM327 696h1v2h-1zM327 700h1v2.3h-1zM329 698h3v2h-3zM330 696h1v2h-1zM330 700h1v2.3h-1zM332 698h4v2h-4zM333 696h1v2h-1zM333 700h1v2.3h-1zM336 698h3v2h-3zM337 696h1v2h-1zM337 700h1v2.3h-1zM339 698h3v2h-3zM340 696h1v2h-1zM340 700h1v2.3h-1zM342 698h3v2h-3zM343 696h1v2h-1zM343 700h1v2.3h-1zM345 698h3v2h-3zM346 696h1v2h-1zM346 700h1v2.3h-1zM348 698h4v2h-4zM349 696h1v2h-1zM349 700h1v2.3h-1zM352 698h3v2h-3zM353 696h1v2h-1zM353 700h1v2.3h-1zM355 698h3v2h-3zM356 696h1v2h-1zM356 700h1v2.3h-1zM358 698h3v2h-3zM359 696h1v2h-1zM359 700h1v2.3h-1zM361 698h4v2h-4zM362 696h1v2h-1zM362 700h1v2.3h-1zM365 698h3v2h-3zM366 696h1v2h-1zM366 700h1v2.3h-1zM368 698h3v2h-3zM369 696h1v2h-1zM369 700h1v2.3h-1zM371 698h3v2h-3zM372 696h1v2h-1zM372 700h1v2.3h-1zM374 698h4v2h-4zM375 696h1v2h-1zM375 700h1v2.3h-1zM378 698h3v2h-3zM379 696h1v2h-1zM379 700h1v2.3h-1zM381 698h3v2h-3zM382 696h1v2h-1zM382 700h1v2.3h-1zM384 698h3v2h-3zM385 696h1v2h-1zM385 700h1v2.3h-1zM387 698h3v2h-3zM388 696h1v2h-1zM388 700h1v2.3h-1zM429 698h3v2h-3zM430 696h1v2h-1zM430 700h1v2.3h-1zM432 698h4v2h-4zM433 696h1v2h-1zM433 700h1v2.3h-1zM436 698h3v2h-3zM437 696h1v2h-1zM437 700h1v2.3h-1zM439 698h3v2h-3zM440 696h1v2h-1zM440 700h1v2.3h-1zM442 698h3v2h-3zM443 696h1v2h-1zM443 700h1v2.3h-1zM445 698h4v2h-4zM446 696h1v2h-1zM446 700h1v2.3h-1zM449 698h3v2h-3zM450 696h1v2h-1zM450 700h1v2.3h-1zM452 698h3v2h-3zM453 696h1v2h-1zM453 700h1v2.3h-1zM455 698h3v2h-3zM456 696h1v2h-1zM456 700h1v2.3h-1zM500 698h4v2h-4zM501 696h1v2h-1zM501 700h1v2.3h-1zM504 698h3v2h-3zM505 696h1v2h-1zM505 700h1v2.3h-1zM507 698h3v2h-3zM508 696h1v2h-1zM508 700h1v2.3h-1zM510 698h3v2h-3zM511 696h1v2h-1zM511 700h1v2.3h-1zM513 698h3v2h-3zM514 696h1v2h-1zM514 700h1v2.3h-1zM516 698h4v2h-4zM517 696h1v2h-1zM517 700h1v2.3h-1zM520 698h3v2h-3zM521 696h1v2h-1zM521 700h1v2.3h-1zM523 698h3v2h-3zM524 696h1v2h-1zM524 700h1v2.3h-1zM526 698h3v2h-3zM527 696h1v2h-1zM527 700h1v2.3h-1zM529 698h4v2h-4zM530 696h1v2h-1zM530 700h1v2.3h-1zM533 698h3v2h-3zM534 696h1v2h-1zM534 700h1v2.3h-1zM536 698h3v2h-3zM537 696h1v2h-1zM537 700h1v2.3h-1zM539 698h3v2h-3zM540 696h1v2h-1zM540 700h1v2.3h-1zM542 698h4v2h-4zM543 696h1v2h-1zM543 700h1v2.3h-1zM571 698h4v2h-4zM572 696h1v2h-1zM572 700h1v2.3h-1zM617 698h3v2h-3zM618 696h1v2h-1zM618 700h1v2.3h-1zM620 698h3v2h-3zM621 696h1v2h-1zM621 700h1v2.3h-1zM623 698h3v2h-3zM624 696h1v2h-1zM624 700h1v2.3h-1zM626 698h3v2h-3zM627 696h1v2h-1zM627 700h1v2.3h-1zM629 698h4v2h-4zM630 696h1v2h-1zM630 700h1v2.3h-1zM633 698h3v2h-3zM634 696h1v2h-1zM634 700h1v2.3h-1zM636 698h3v2h-3zM637 696h1v2h-1zM637 700h1v2.3h-1zM639 698h3v2h-3zM640 696h1v2h-1zM640 700h1v2.3h-1zM642 698h4v2h-4zM643 696h1v2h-1zM643 700h1v2.3h-1zM646 698h3v2h-3zM647 696h1v2h-1zM647 700h1v2.3h-1zM671 698h4v2h-4zM672 696h1v2h-1zM672 700h1v2.3h-1zM675 698h3v2h-3zM676 696h1v2h-1zM676 700h1v2.3h-1zM678 698h3v2h-3zM679 696h1v2h-1zM679 700h1v2.3h-1zM681 698h3v2h-3zM682 696h1v2h-1zM682 700h1v2.3h-1zM684 698h4v2h-4zM685 696h1v2h-1zM685 700h1v2.3h-1zM704 698h3v2h-3zM705 696h1v2h-1zM705 700h1v2.3h-1zM707 698h3v2h-3zM708 696h1v2h-1zM708 700h1v2.3h-1zM710 698h3v2h-3zM711 696h1v2h-1zM711 700h1v2.3h-1zM713 698h4v2h-4zM714 696h1v2h-1zM714 700h1v2.3h-1zM778 698h3v2h-3zM779 696h1v2h-1zM779 700h1v2.3h-1zM781 698h4v2h-4zM782 696h1v2h-1zM782 700h1v2.3h-1zM785 698h3v2h-3zM786 696h1v2h-1zM786 700h1v2.3h-1zM788 698h3v2h-3zM789 696h1v2h-1zM789 700h1v2.3h-1zM791 698h3v2h-3zM792 696h1v2h-1zM792 700h1v2.3h-1zM794 698h3v2h-3zM795 696h1v2h-1zM795 700h1v2.3h-1zM797 698h4v2h-4zM798 696h1v2h-1zM798 700h1v2.3h-1zM801 698h3v2h-3zM802 696h1v2h-1zM802 700h1v2.3h-1zM804 698h3v2h-3zM805 696h1v2h-1zM805 700h1v2.3h-1zM807 698h3v2h-3zM808 696h1v2h-1zM808 700h1v2.3h-1zM810 698h4v2h-4zM811 696h1v2h-1zM811 700h1v2.3h-1zM814 698h3v2h-3zM815 696h1v2h-1zM815 700h1v2.3h-1zM817 698h3v2h-3zM818 696h1v2h-1zM818 700h1v2.3h-1zM820 698h3v2h-3zM821 696h1v2h-1zM821 700h1v2.3h-1zM823 698h4v2h-4zM824 696h1v2h-1zM824 700h1v2.3h-1zM827 698h3v2h-3zM828 696h1v2h-1zM828 700h1v2.3h-1zM830 698h3v2h-3zM831 696h1v2h-1zM831 700h1v2.3h-1zM833 698h3v2h-3zM834 696h1v2h-1zM834 700h1v2.3h-1zM836 698h3v2h-3zM837 696h1v2h-1zM837 700h1v2.3h-1zM839 698h4v2h-4zM840 696h1v2h-1zM840 700h1v2.3h-1zM843 698h3v2h-3zM844 696h1v2h-1zM844 700h1v2.3h-1zM846 698h3v2h-3zM847 696h1v2h-1zM847 700h1v2.3h-1zM849 698h3v2h-3zM850 696h1v2h-1zM850 700h1v2.3h-1zM852 698h4v2h-4zM853 696h1v2h-1zM853 700h1v2.3h-1zM856 698h3v2h-3zM857 696h1v2h-1zM857 700h1v2.3h-1zM859 698h3v2h-3zM860 696h1v2h-1zM860 700h1v2.3h-1zM862 698h3v2h-3zM863 696h1v2h-1zM863 700h1v2.3h-1zM865 698h4v2h-4zM866 696h1v2h-1zM866 700h1v2.3h-1zM869 698h3v2h-3zM870 696h1v2h-1zM870 700h1v2.3h-1zM872 698h3v2h-3zM873 696h1v2h-1zM873 700h1v2.3h-1zM930 698h3v2h-3zM931 696h1v2h-1zM931 700h1v2.3h-1zM933 698h3v2h-3zM934 696h1v2h-1zM934 700h1v2.3h-1zM936 698h4v2h-4zM937 696h1v2h-1zM937 700h1v2.3h-1zM940 698h3v2h-3zM941 696h1v2h-1zM941 700h1v2.3h-1zM943 698h3v2h-3zM944 696h1v2h-1zM944 700h1v2.3h-1zM946 698h3v2h-3zM947 696h1v2h-1zM947 700h1v2.3h-1zM949 698h4v2h-4zM950 696h1v2h-1zM950 700h1v2.3h-1zM998 698h3v2h-3zM999 696h1v2h-1zM999 700h1v2.3h-1zM1001 698h3v2h-3zM1002 696h1v2h-1zM1002 700h1v2.3h-1zM1004 698h3v2h-3zM1005 696h1v2h-1zM1005 700h1v2.3h-1zM1007 698h4v2h-4zM1008 696h1v2h-1zM1008 700h1v2.3h-1zM1011 698h3v2h-3zM1012 696h1v2h-1zM1012 700h1v2.3h-1zM1014 698h3v2h-3zM1015 696h1v2h-1zM1015 700h1v2.3h-1zM1017 698h3v2h-3zM1018 696h1v2h-1zM1018 700h1v2.3h-1zM1020 698h4v2h-4zM1021 696h1v2h-1zM1021 700h1v2.3h-1zM1024 698h3v2h-3zM1025 696h1v2h-1zM1025 700h1v2.3h-1zM1027 698h3v2h-3zM1028 696h1v2h-1zM1028 700h1v2.3h-1zM1030 698h3v2h-3zM1031 696h1v2h-1zM1031 700h1v2.3h-1zM1033 698h4v2h-4zM1034 696h1v2h-1zM1034 700h1v2.3h-1zM1037 698h3v2h-3zM1038 696h1v2h-1zM1038 700h1v2.3h-1zM1040 698h3v2h-3zM1041 696h1v2h-1zM1041 700h1v2.3h-1zM1043 698h3v2h-3zM1044 696h1v2h-1zM1044 700h1v2.3h-1zM1046 698h3v2h-3zM1047 696h1v2h-1zM1047 700h1v2.3h-1zM1049 698h4v2h-4zM1050 696h1v2h-1zM1050 700h1v2.3h-1zM1053 698h3v2h-3zM1054 696h1v2h-1zM1054 700h1v2.3h-1zM1056 698h3v2h-3zM1057 696h1v2h-1zM1057 700h1v2.3h-1zM1059 698h3v2h-3zM1060 696h1v2h-1zM1060 700h1v2.3h-1zM1062 698h4v2h-4zM1063 696h1v2h-1zM1063 700h1v2.3h-1zM1066 698h3v2h-3zM1067 696h1v2h-1zM1067 700h1v2.3h-1zM1069 698h3v2h-3zM1070 696h1v2h-1zM1070 700h1v2.3h-1zM1072 698h3v2h-3zM1073 696h1v2h-1zM1073 700h1v2.3h-1zM1075 698h4v2h-4zM1076 696h1v2h-1zM1076 700h1v2.3h-1zM1079 698h3v2h-3zM1080 696h1v2h-1zM1080 700h1v2.3h-1zM1082 698h3v2h-3zM1083 696h1v2h-1zM1083 700h1v2.3h-1zM1085 698h3v2h-3zM1086 696h1v2h-1zM1086 700h1v2.3h-1zM1088 698h3v2h-3zM1089 696h1v2h-1zM1089 700h1v2.3h-1zM1091 698h4v2h-4zM1092 696h1v2h-1zM1092 700h1v2.3h-1z" fill="#000" fill-opacity="0.72" shape-rendering="crispEdges"/>
<line x1="0" y1="406.5" x2="1430" y2="406.5" stroke="#555" stroke-width="1.05" />
<line x1="0" y1="610.5" x2="1430" y2="610.5" stroke="#555" stroke-width="1.05" />
<rect x="1362.2" y="0" width="68.8" height="833" fill="#fff" />
<line x1="1363.5" y1="0" x2="1363.5" y2="815.5" stroke="#555" stroke-width="1.1" />
<line x1="1364" y1="35.5" x2="1367" y2="35.5" stroke="#555" stroke-width="1" />
<text x="1370.4" y="39.8" font-size="10.7" fill="#555" font-family="Liberation Sans, sans-serif" >11500.0</text>
<line x1="1364" y1="69.5" x2="1367" y2="69.5" stroke="#555" stroke-width="1" />
<text x="1370.4" y="73.8" font-size="10.7" fill="#555" font-family="Liberation Sans, sans-serif" >11000.0</text>
<line x1="1364" y1="104.5" x2="1367" y2="104.5" stroke="#555" stroke-width="1" />
<text x="1370.4" y="108.8" font-size="10.7" fill="#555" font-family="Liberation Sans, sans-serif" >10500.0</text>
<line x1="1364" y1="138.5" x2="1367" y2="138.5" stroke="#555" stroke-width="1" />
<text x="1370.4" y="142.8" font-size="10.7" fill="#555" font-family="Liberation Sans, sans-serif" >10000.0</text>
<line x1="1364" y1="173.5" x2="1367" y2="173.5" stroke="#555" stroke-width="1" />
<text x="1370.4" y="177.8" font-size="10.7" fill="#555" font-family="Liberation Sans, sans-serif" >9500.0</text>
<line x1="1364" y1="207.5" x2="1367" y2="207.5" stroke="#555" stroke-width="1" />
<text x="1370.4" y="211.8" font-size="10.7" fill="#555" font-family="Liberation Sans, sans-serif" >9000.0</text>
<line x1="1364" y1="242.5" x2="1367" y2="242.5" stroke="#555" stroke-width="1" />
<text x="1370.4" y="246.8" font-size="10.7" fill="#555" font-family="Liberation Sans, sans-serif" >8500.0</text>
<line x1="1364" y1="276.5" x2="1367" y2="276.5" stroke="#555" stroke-width="1" />
<text x="1370.4" y="280.8" font-size="10.7" fill="#555" font-family="Liberation Sans, sans-serif" >8000.0</text>
<line x1="1364" y1="311.5" x2="1367" y2="311.5" stroke="#555" stroke-width="1" />
<text x="1370.4" y="315.8" font-size="10.7" fill="#555" font-family="Liberation Sans, sans-serif" >7500.0</text>
<line x1="1364" y1="345.5" x2="1367" y2="345.5" stroke="#555" stroke-width="1" />
<text x="1370.4" y="349.8" font-size="10.7" fill="#555" font-family="Liberation Sans, sans-serif" >7000.0</text>
<line x1="1364" y1="380.5" x2="1367" y2="380.5" stroke="#555" stroke-width="1" />
<text x="1370.4" y="384.8" font-size="10.7" fill="#555" font-family="Liberation Sans, sans-serif" >6500.0</text>
<line x1="1364" y1="443.5" x2="1367" y2="443.5" stroke="#555" stroke-width="1" />
<text x="1370.4" y="447.8" font-size="10.7" fill="#555" font-family="Liberation Sans, sans-serif" >200.0000</text>
<line x1="1364" y1="484.5" x2="1367" y2="484.5" stroke="#555" stroke-width="1" />
<text x="1370.4" y="488.8" font-size="10.7" fill="#555" font-family="Liberation Sans, sans-serif" >0.0000</text>
<line x1="1364" y1="525.5" x2="1367" y2="525.5" stroke="#555" stroke-width="1" />
<text x="1370.4" y="529.8" font-size="10.7" fill="#555" font-family="Liberation Sans, sans-serif" >-200.0000</text>
<line x1="1364" y1="566.5" x2="1367" y2="566.5" stroke="#555" stroke-width="1" />
<text x="1370.4" y="570.8" font-size="10.7" fill="#555" font-family="Liberation Sans, sans-serif" >-400.0000</text>
<line x1="1364" y1="607.5" x2="1367" y2="607.5" stroke="#555" stroke-width="1" />
<text x="1370.4" y="611.8" font-size="10.7" fill="#555" font-family="Liberation Sans, sans-serif" >-600.0000</text>
<line x1="1364" y1="633.5" x2="1367" y2="633.5" stroke="#555" stroke-width="1" />
<text x="1370.4" y="637.8" font-size="10.7" fill="#555" font-family="Liberation Sans, sans-serif" >800.0000</text>
<line x1="1364" y1="666.5" x2="1367" y2="666.5" stroke="#555" stroke-width="1" />
<text x="1370.4" y="670.8" font-size="10.7" fill="#555" font-family="Liberation Sans, sans-serif" >400.0000</text>
<line x1="1364" y1="699.5" x2="1367" y2="699.5" stroke="#555" stroke-width="1" />
<text x="1370.4" y="703.8" font-size="10.7" fill="#555" font-family="Liberation Sans, sans-serif" >0.0000</text>
<line x1="1364" y1="733.5" x2="1367" y2="733.5" stroke="#555" stroke-width="1" />
<text x="1370.4" y="737.8" font-size="10.7" fill="#555" font-family="Liberation Sans, sans-serif" >-400.0000</text>
<line x1="1364" y1="766.5" x2="1367" y2="766.5" stroke="#555" stroke-width="1" />
<text x="1370.4" y="770.8" font-size="10.7" fill="#555" font-family="Liberation Sans, sans-serif" >-800.0000</text>
<line x1="1364" y1="799.5" x2="1367" y2="799.5" stroke="#555" stroke-width="1" />
<text x="1370.4" y="803.8" font-size="10.7" fill="#555" font-family="Liberation Sans, sans-serif" >-1200.0000</text>
<rect x="1364" y="407" width="67" height="3.2" fill="#fff" />
<rect x="1364" y="611" width="67" height="2.8" fill="#fff" />
<line x1="1362" y1="406.5" x2="1430" y2="406.5" stroke="#555" stroke-width="1.05" />
<line x1="1362" y1="610.5" x2="1430" y2="610.5" stroke="#555" stroke-width="1.05" />
<rect x="1368" y="204.8" width="40" height="1.5" fill="#fff" />
<rect x="1363.2" y="189.1" width="44.7" height="15.7" fill="#53b987" />
<line x1="1364" y1="196.5" x2="1367" y2="196.5" stroke="#fff" stroke-width="1" />
<text x="1370" y="200.8" font-size="10.7" fill="#fff" font-family="Liberation Sans, sans-serif" textLength="32.6" lengthAdjust="spacingAndGlyphs" stroke="#fff" stroke-width="0.3">9162.1</text>
<rect x="1372.9" y="206.2" width="35" height="15.6" fill="#53b987" />
<text x="1375.8" y="218.2" font-size="10.7" fill="#fff" font-family="Liberation Sans, sans-serif" textLength="27.6" lengthAdjust="spacingAndGlyphs" stroke="#fff" stroke-width="0.3">59:22</text>
<line x1="-2" y1="8.5" x2="1347" y2="8.5" stroke="#808080" stroke-width="1" stroke-dasharray="6 5"/>
<rect x="1347" y="1" width="15" height="15.8" fill="#555" />
<path d="M1354.5 4.8v7.4M1350.8 8.5h7.4" stroke="#fff" stroke-width="1.3" fill="none"/>
<rect x="1363.1" y="1" width="49.7" height="15.8" fill="#555" />
<line x1="1364" y1="8.5" x2="1367" y2="8.5" stroke="#fff" stroke-width="1" />
<text x="1370.4" y="12.4" font-size="10.7" fill="#fff" font-family="Liberation Sans, sans-serif" textLength="38.5" lengthAdjust="spacingAndGlyphs" stroke="#fff" stroke-width="0.3">11892.3</text>
<rect x="1326" y="28" width="13.85" height="13.85" fill="#a0a0a0" fill-opacity="0.36"/>
<rect x="1343.1" y="28" width="13.85" height="13.85" fill="#a0a0a0" fill-opacity="0.36"/>
<path d="M1332 31.1h1.9v6.1h1.6l-2.55 3.1l-2.55 -3.1h1.6z" fill="#fff"/>
<path d="M1350 29.1l2.9 3.2h-1.7v5.8h1.7l-2.9 2.8l-2.9 -2.8h1.7v-5.8h-1.7z" fill="#fff"/>
<rect x="0" y="816" width="1431" height="45" fill="#fff" />
<line x1="0" y1="815.5" x2="1364" y2="815.5" stroke="#555" stroke-width="1.1" />
<line x1="111.5" y1="816" x2="111.5" y2="819" stroke="#555" stroke-width="1" />
<text x="111.5" y="830" font-size="10.7" fill="#555" font-family="Liberation Sans, sans-serif" text-anchor="middle" >12</text>
<line x1="247.5" y1="816" x2="247.5" y2="819" stroke="#555" stroke-width="1" />
<text x="247.5" y="830" font-size="10.7" fill="#555" font-family="Liberation Sans, sans-serif" text-anchor="middle" >19</text>
<line x1="383.5" y1="816" x2="383.5" y2="819" stroke="#555" stroke-width="1" />
<text x="383.5" y="830" font-size="10.7" fill="#555" font-family="Liberation Sans, sans-serif" text-anchor="middle" >26</text>
<line x1="499.5" y1="816" x2="499.5" y2="819" stroke="#555" stroke-width="1" />
<text x="499.5" y="830" font-size="10.7" fill="#555" font-family="Liberation Sans, sans-serif" text-anchor="middle" font-weight="bold" >Apr</text>
<line x1="577.5" y1="816" x2="577.5" y2="819" stroke="#555" stroke-width="1" />
<text x="577.5" y="830" font-size="10.7" fill="#555" font-family="Liberation Sans, sans-serif" text-anchor="middle" >5</text>
<line x1="654.5" y1="816" x2="654.5" y2="819" stroke="#555" stroke-width="1" />
<text x="654.5" y="830" font-size="10.7" fill="#555" font-family="Liberation Sans, sans-serif" text-anchor="middle" >9</text>
<line x1="790.5" y1="816" x2="790.5" y2="819" stroke="#555" stroke-width="1" />
<text x="790.5" y="830" font-size="10.7" fill="#555" font-family="Liberation Sans, sans-serif" text-anchor="middle" >16</text>
<line x1="925.5" y1="816" x2="925.5" y2="819" stroke="#555" stroke-width="1" />
<text x="925.5" y="830" font-size="10.7" fill="#555" font-family="Liberation Sans, sans-serif" text-anchor="middle" >23</text>
<line x1="1003.5" y1="816" x2="1003.5" y2="819" stroke="#555" stroke-width="1" />
<text x="1003.5" y="830" font-size="10.7" fill="#555" font-family="Liberation Sans, sans-serif" text-anchor="middle" >27</text>
<line x1="1081.5" y1="816" x2="1081.5" y2="819" stroke="#555" stroke-width="1" />
<text x="1081.5" y="830" font-size="10.7" fill="#555" font-family="Liberation Sans, sans-serif" text-anchor="middle" font-weight="bold" >May</text>
<line x1="1197.5" y1="816" x2="1197.5" y2="819" stroke="#555" stroke-width="1" />
<text x="1197.5" y="830" font-size="10.7" fill="#555" font-family="Liberation Sans, sans-serif" text-anchor="middle" >7</text>
<line x1="1333.5" y1="816" x2="1333.5" y2="819" stroke="#555" stroke-width="1" />
<text x="1333.5" y="830" font-size="10.7" fill="#555" font-family="Liberation Sans, sans-serif" text-anchor="middle" >14</text>
<rect x="0" y="816" width="52.8" height="16.8" fill="#555" />
<text x="-2" y="830" font-size="10.7" fill="#fff" font-family="Liberation Sans, sans-serif" textLength="49.4" lengthAdjust="spacingAndGlyphs" font-weight="bold" >6 04:00:00</text>
<line x1="0" y1="833.5" x2="1430" y2="833.5" stroke="#eceef1" stroke-width="1" />
<text x="2.1" y="854.6" font-size="12.6" fill="#4d525e" font-family="Liberation Sans, sans-serif" textLength="22.4" lengthAdjust="spacingAndGlyphs" >3Mo</text>
<text x="40.9" y="854.6" font-size="12.6" fill="#4d525e" font-family="Liberation Sans, sans-serif" textLength="22.4" lengthAdjust="spacingAndGlyphs" >6Mo</text>
<text x="79.7" y="854.6" font-size="12.6" fill="#4d525e" font-family="Liberation Sans, sans-serif" textLength="23" lengthAdjust="spacingAndGlyphs" >YTD</text>
<text x="119.5" y="854.6" font-size="12.6" fill="#4d525e" font-family="Liberation Sans, sans-serif" textLength="13" lengthAdjust="spacingAndGlyphs" >1Y</text>
<text x="149.3" y="854.6" font-size="12.6" fill="#4d525e" font-family="Liberation Sans, sans-serif" textLength="13.2" lengthAdjust="spacingAndGlyphs" >5Y</text>
<text x="179.2" y="854.6" font-size="12.6" fill="#4d525e" font-family="Liberation Sans, sans-serif" textLength="14.7" lengthAdjust="spacingAndGlyphs" >All</text>
<text x="222.6" y="854.6" font-size="12.6" fill="#4d525e" font-family="Liberation Sans, sans-serif" textLength="45.3" lengthAdjust="spacingAndGlyphs" >Go to...</text>
<line x1="207.5" y1="839" x2="207.5" y2="861" stroke="#e3e6e9" stroke-width="1" />
<text x="1142.6" y="854.6" font-size="12.6" fill="#4d525e" font-family="Liberation Sans, sans-serif" textLength="86.3" lengthAdjust="spacingAndGlyphs" >07:00:37 (UTC)</text>
<line x1="1244" y1="839" x2="1244" y2="861" stroke="#e3e6e9" stroke-width="1" />
<text x="1258.5" y="854.6" font-size="12.6" fill="#4d525e" font-family="Liberation Sans, sans-serif" textLength="18" lengthAdjust="spacingAndGlyphs" >ext</text>
<text x="1293.5" y="854.6" font-size="12.6" fill="#4d525e" font-family="Liberation Sans, sans-serif" textLength="12" lengthAdjust="spacingAndGlyphs" >%</text>
<text x="1321.8" y="854.6" font-size="12.6" fill="#4d525e" font-family="Liberation Sans, sans-serif" textLength="17" lengthAdjust="spacingAndGlyphs" >log</text>
<text x="1356.8" y="854.6" font-size="12.6" fill="#3a9ad9" font-family="Liberation Sans, sans-serif" textLength="26.2" lengthAdjust="spacingAndGlyphs" >auto</text>
<rect x="1407" y="842.9" width="2" height="14" fill="#3b404c" transform="rotate(0 1408 849.9)"/><rect x="1407" y="842.9" width="2" height="14" fill="#3b404c" transform="rotate(45 1408 849.9)"/><rect x="1407" y="842.9" width="2" height="14" fill="#3b404c" transform="rotate(90 1408 849.9)"/><rect x="1407" y="842.9" width="2" height="14" fill="#3b404c" transform="rotate(135 1408 849.9)"/><circle cx="1408" cy="849.9" r="4.7" fill="#3b404c"/><circle cx="1408" cy="849.9" r="3" fill="#fff"/>
<text x="3.8" y="25.5" font-size="15.3" fill="#4a4a4a" font-family="Liberation Sans, sans-serif" textLength="160.8" lengthAdjust="spacingAndGlyphs" >Dollar, 240, BITFINEX</text>
<path d="M170 18.2h6.4l-3.2 3.4z" fill="#c4c4c4"/>
<rect x="187" y="13.3" width="13.7" height="13.7" fill="#a8a8a8" fill-opacity="0.47"/>
<path d="M188.55 20.15Q193.85 11.25 199.15 20.15Q193.85 29.05 188.55 20.15z" fill="#fff"/><circle cx="193.85" cy="20.15" r="1.95" fill="#fff" stroke="#d6d6d6" stroke-width="1.45"/>
<rect x="204.3" y="13.3" width="13.7" height="13.7" fill="#a8a8a8" fill-opacity="0.47"/>
<rect x="209.8" y="15.05" width="2.5" height="10.4" fill="#fff" transform="rotate(0 211.15 20.15)"/><rect x="209.8" y="15.05" width="2.5" height="10.4" fill="#fff" transform="rotate(45 211.15 20.15)"/><rect x="209.8" y="15.05" width="2.5" height="10.4" fill="#fff" transform="rotate(90 211.15 20.15)"/><rect x="209.8" y="15.05" width="2.5" height="10.4" fill="#fff" transform="rotate(135 211.15 20.15)"/><circle cx="211.15" cy="20.15" r="3.45" fill="#fff"/><circle cx="211.15" cy="20.15" r="1.75" fill="#d6d6d6"/>
<text x="226.3" y="24.8" font-size="14" fill="#4a4a4a" font-family="Liberation Sans, sans-serif" textLength="9.4" lengthAdjust="spacingAndGlyphs" >O</text>
<text x="239.3" y="24.8" font-size="14" fill="#53b987" font-family="Liberation Sans, sans-serif" textLength="49.8" lengthAdjust="spacingAndGlyphs" >11249.0</text>
<text x="299.7" y="24.8" font-size="14" fill="#4a4a4a" font-family="Liberation Sans, sans-serif" textLength="8.5" lengthAdjust="spacingAndGlyphs" >H</text>
<text x="312.2" y="24.8" font-size="14" fill="#53b987" font-family="Liberation Sans, sans-serif" textLength="49.8" lengthAdjust="spacingAndGlyphs" >11339.0</text>
<text x="373" y="24.8" font-size="14" fill="#4a4a4a" font-family="Liberation Sans, sans-serif" textLength="7" lengthAdjust="spacingAndGlyphs" >L</text>
<text x="383.1" y="24.8" font-size="14" fill="#53b987" font-family="Liberation Sans, sans-serif" textLength="49.8" lengthAdjust="spacingAndGlyphs" >11180.0</text>
<text x="443.9" y="24.8" font-size="14" fill="#4a4a4a" font-family="Liberation Sans, sans-serif" textLength="8.3" lengthAdjust="spacingAndGlyphs" >C</text>
<text x="455.8" y="24.8" font-size="14" fill="#53b987" font-family="Liberation Sans, sans-serif" textLength="49.8" lengthAdjust="spacingAndGlyphs" >11270.0</text>
<line x1="0" y1="39" x2="1.2" y2="39" stroke="#999" stroke-width="1" />
<rect x="11" y="34.1" width="13.7" height="13.7" fill="#37b1e2" fill-opacity="1"/>
<path d="M12.55 40.95Q17.85 32.05 23.15 40.95Q17.85 49.85 12.55 40.95z" fill="#fff"/><circle cx="17.85" cy="40.95" r="1.95" fill="#fff" stroke="#37b1e2" stroke-width="1.45"/>
<rect x="28.1" y="34.1" width="13.7" height="13.7" fill="#a8a8a8" fill-opacity="0.47"/>
<rect x="33.6" y="35.85" width="2.5" height="10.4" fill="#fff" transform="rotate(0 34.95 40.95)"/><rect x="33.6" y="35.85" width="2.5" height="10.4" fill="#fff" transform="rotate(45 34.95 40.95)"/><rect x="33.6" y="35.85" width="2.5" height="10.4" fill="#fff" transform="rotate(90 34.95 40.95)"/><rect x="33.6" y="35.85" width="2.5" height="10.4" fill="#fff" transform="rotate(135 34.95 40.95)"/><circle cx="34.95" cy="40.95" r="3.45" fill="#fff"/><circle cx="34.95" cy="40.95" r="1.75" fill="#d6d6d6"/>
<rect x="45.1" y="34.1" width="13.7" height="13.7" fill="#a8a8a8" fill-opacity="0.47"/>
<path d="M50.45 36.35q-2 0 -2 1.7v1.5q0 1.2 -1.2 1.4q1.2 0.2 1.2 1.4v1.5q0 1.7 2 1.7M53.45 36.35q2 0 2 1.7v1.5q0 1.2 1.2 1.4q-1.2 0.2 -1.2 1.4v1.5q0 1.7 -2 1.7" stroke="#fff" stroke-width="1.25" fill="none"/>
<rect x="62.1" y="34.1" width="13.7" height="13.7" fill="#a8a8a8" fill-opacity="0.47"/>
<path d="M68.95 36.75v8.4M64.75 40.95h8.4" stroke="#fff" stroke-width="2.3" fill="none"/>
<rect x="79.1" y="34.1" width="13.7" height="13.7" fill="#a8a8a8" fill-opacity="0.47"/>
<path d="M81.55 36.55l8.8 8.8M81.55 45.35l8.8 -8.8" stroke="#fff" stroke-width="1.9" fill="none"/>
<text x="-0.5" y="426.2" font-size="12.4" fill="#4a4a4a" font-family="Liberation Sans, sans-serif" textLength="74" lengthAdjust="spacingAndGlyphs" >(60, 12, 26, 9)</text>
<path d="M78.3 420.1h7.6l-3.8 3.8z" fill="#b4b4b4"/>
<rect x="96.15" y="415.1" width="13.7" height="13.7" fill="#a8a8a8" fill-opacity="0.47"/>
<path d="M97.7 421.95Q103 413.05 108.3 421.95Q103 430.85 97.7 421.95z" fill="#fff"/><circle cx="103" cy="421.95" r="1.95" fill="#fff" stroke="#d6d6d6" stroke-width="1.45"/>
<rect x="113.1" y="415.1" width="13.7" height="13.7" fill="#a8a8a8" fill-opacity="0.47"/>
<rect x="118.6" y="416.85" width="2.5" height="10.4" fill="#fff" transform="rotate(0 119.95 421.95)"/><rect x="118.6" y="416.85" width="2.5" height="10.4" fill="#fff" transform="rotate(45 119.95 421.95)"/><rect x="118.6" y="416.85" width="2.5" height="10.4" fill="#fff" transform="rotate(90 119.95 421.95)"/><rect x="118.6" y="416.85" width="2.5" height="10.4" fill="#fff" transform="rotate(135 119.95 421.95)"/><circle cx="119.95" cy="421.95" r="3.45" fill="#fff"/><circle cx="119.95" cy="421.95" r="1.75" fill="#d6d6d6"/>
<rect x="130.1" y="415.1" width="13.7" height="13.7" fill="#a8a8a8" fill-opacity="0.47"/>
<path d="M135.45 417.35q-2 0 -2 1.7v1.5q0 1.2 -1.2 1.4q1.2 0.2 1.2 1.4v1.5q0 1.7 2 1.7M138.45 417.35q2 0 2 1.7v1.5q0 1.2 1.2 1.4q-1.2 0.2 -1.2 1.4v1.5q0 1.7 -2 1.7" stroke="#fff" stroke-width="1.25" fill="none"/>
<rect x="147.2" y="415.1" width="13.7" height="13.7" fill="#a8a8a8" fill-opacity="0.47"/>
<path d="M154.05 417.75v8.4M149.85 421.95h8.4" stroke="#fff" stroke-width="2.3" fill="none"/>
<rect x="164.2" y="415.1" width="13.7" height="13.7" fill="#a8a8a8" fill-opacity="0.47"/>
<path d="M166.65 417.55l8.8 8.8M166.65 426.35l8.8 -8.8" stroke="#fff" stroke-width="1.9" fill="none"/>
<text x="186.5" y="426" font-size="11" fill="#ff3333" font-family="Liberation Sans, sans-serif" textLength="47" lengthAdjust="spacingAndGlyphs" >143.2561</text>
<text x="245" y="426" font-size="11" fill="#ffff33" font-family="Liberation Sans, sans-serif" textLength="47.5" lengthAdjust="spacingAndGlyphs" >193.8721</text>
<text x="303.5" y="426" font-size="11" fill="#ff3333" font-family="Liberation Sans, sans-serif" textLength="46" lengthAdjust="spacingAndGlyphs" >-50.6160</text>
<text x="360" y="426" font-size="11" fill="#33e033" font-family="Liberation Sans, sans-serif" textLength="18.5" lengthAdjust="spacingAndGlyphs" font-weight="bold" >n/a</text>
<text x="1" y="630" font-size="12.4" fill="#4a4a4a" font-family="Liberation Sans, sans-serif" textLength="42" lengthAdjust="spacingAndGlyphs" >20, 1.5)</text>
<path d="M47.9 623.8h7l-3.5 3.7z" fill="#b4b4b4"/>
<rect x="65.1" y="619" width="13.7" height="13.7" fill="#a8a8a8" fill-opacity="0.47"/>
<path d="M66.65 625.85Q71.95 616.95 77.25 625.85Q71.95 634.75 66.65 625.85z" fill="#fff"/><circle cx="71.95" cy="625.85" r="1.95" fill="#fff" stroke="#d6d6d6" stroke-width="1.45"/>
<rect x="82.1" y="619" width="13.7" height="13.7" fill="#a8a8a8" fill-opacity="0.47"/>
<rect x="87.6" y="620.75" width="2.5" height="10.4" fill="#fff" transform="rotate(0 88.95 625.85)"/><rect x="87.6" y="620.75" width="2.5" height="10.4" fill="#fff" transform="rotate(45 88.95 625.85)"/><rect x="87.6" y="620.75" width="2.5" height="10.4" fill="#fff" transform="rotate(90 88.95 625.85)"/><rect x="87.6" y="620.75" width="2.5" height="10.4" fill="#fff" transform="rotate(135 88.95 625.85)"/><circle cx="88.95" cy="625.85" r="3.45" fill="#fff"/><circle cx="88.95" cy="625.85" r="1.75" fill="#d6d6d6"/>
<rect x="99.2" y="619" width="13.7" height="13.7" fill="#a8a8a8" fill-opacity="0.47"/>
<path d="M104.55 621.25q-2 0 -2 1.7v1.5q0 1.2 -1.2 1.4q1.2 0.2 1.2 1.4v1.5q0 1.7 2 1.7M107.55 621.25q2 0 2 1.7v1.5q0 1.2 1.2 1.4q-1.2 0.2 -1.2 1.4v1.5q0 1.7 -2 1.7" stroke="#fff" stroke-width="1.25" fill="none"/>
<rect x="116.2" y="619" width="13.7" height="13.7" fill="#a8a8a8" fill-opacity="0.47"/>
<path d="M123.05 621.65v8.4M118.85 625.85h8.4" stroke="#fff" stroke-width="2.3" fill="none"/>
<rect x="133.3" y="619" width="13.7" height="13.7" fill="#a8a8a8" fill-opacity="0.47"/>
<path d="M135.75 621.45l8.8 8.8M135.75 630.25l8.8 -8.8" stroke="#fff" stroke-width="1.9" fill="none"/>
<text x="155.1" y="630" font-size="11" fill="#0c860c" font-family="Liberation Sans, sans-serif" textLength="41.4" lengthAdjust="spacingAndGlyphs" >60.0980</text>
<text x="207" y="630" font-size="11" fill="#1a1a1a" font-family="Liberation Sans, sans-serif" textLength="35.8" lengthAdjust="spacingAndGlyphs" >0.0000</text>
<rect x="0" y="0" width="1431" height="1" fill="#e9eef2" />
<path d="M1431 0v5a4 4 0 0 0 -4 -4h-10v-1z" fill="#e9eef2"/>
<rect x="1430" y="0" width="1" height="861" fill="#eef0f3" />
</g></svg>
</body></html>
